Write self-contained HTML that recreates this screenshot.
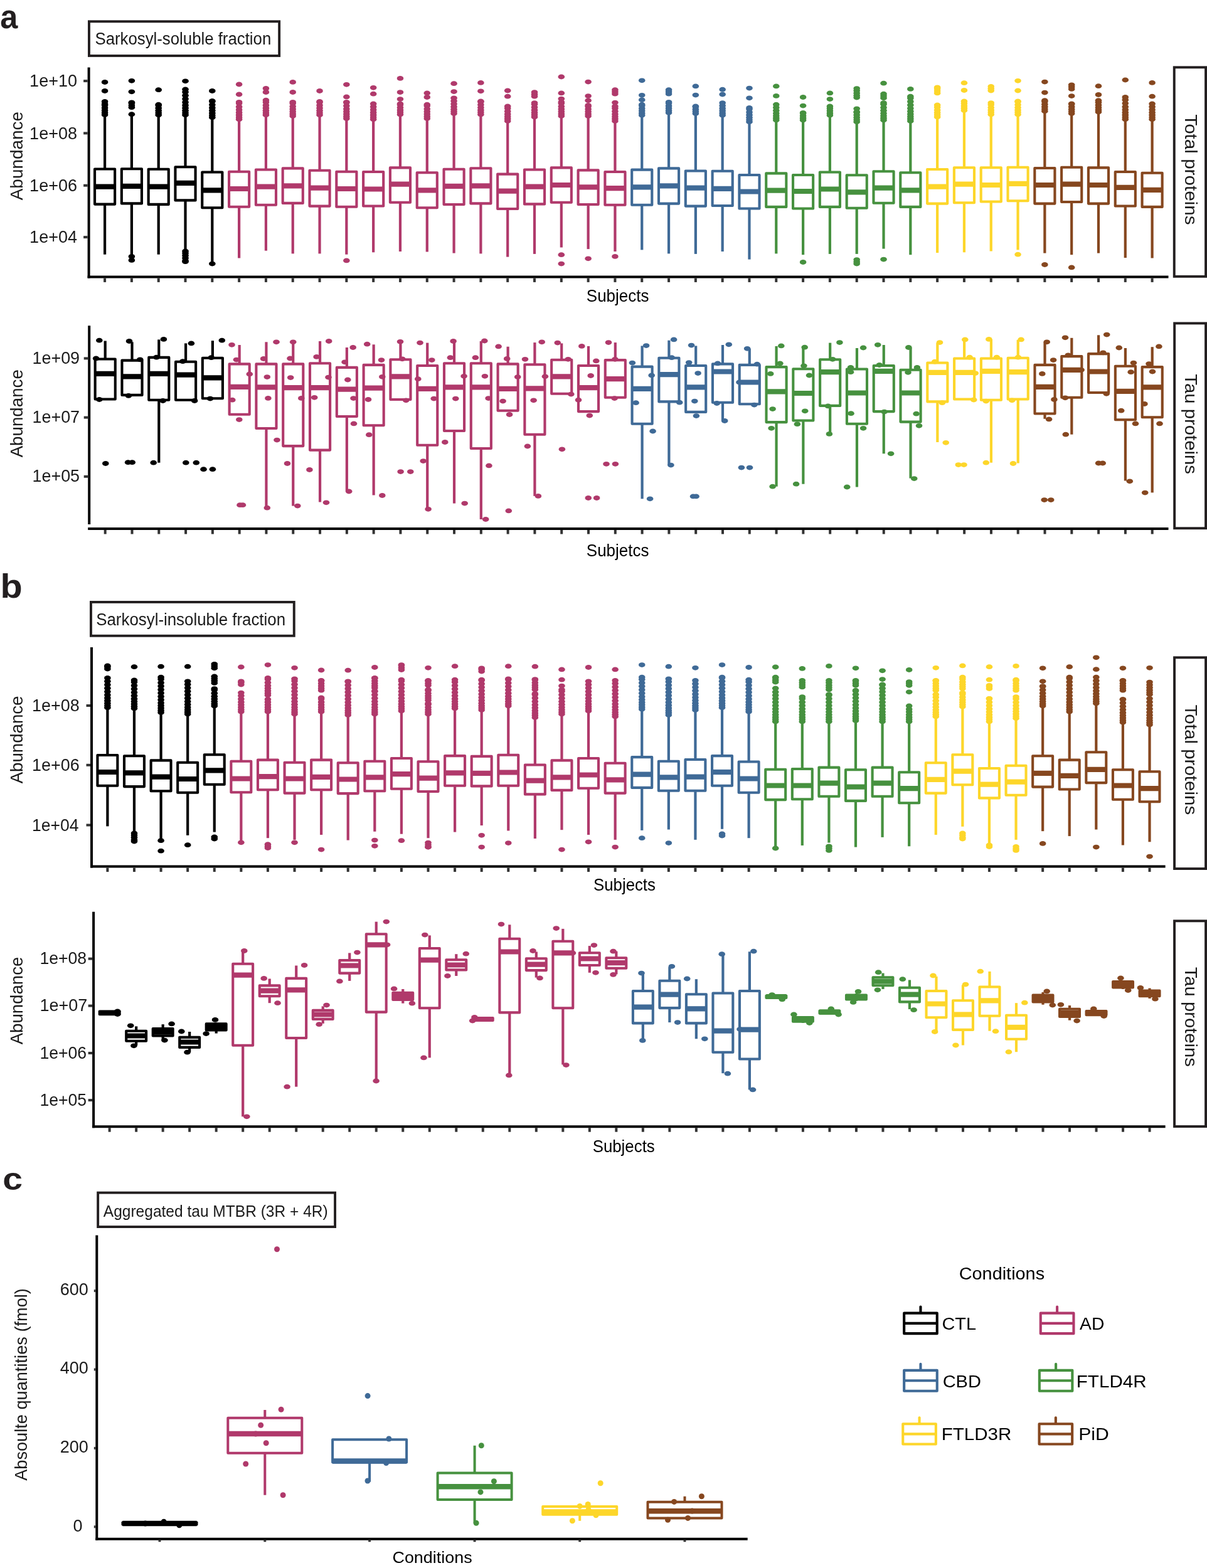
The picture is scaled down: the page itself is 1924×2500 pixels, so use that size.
<!DOCTYPE html>
<html><head><meta charset="utf-8"><title>Figure</title>
<style>
html,body{margin:0;padding:0;background:#fff;overflow:hidden;}
svg{display:block;}
text{font-family:"Liberation Sans",Arial,sans-serif;}
</style></head>
<body>
<svg width="1924" height="2500" viewBox="0 0 1924 2500">
<rect x="0" y="0" width="1924" height="2500" fill="#fff"/>
<rect x="141.95" y="34.25" width="303.2" height="54.7" fill="#fff" stroke="#231f20" stroke-width="3.9"/>
<line x1="141.6" y1="107.5" x2="141.6" y2="443.4" stroke="#000" stroke-width="4.0"/>
<line x1="139.6" y1="441.4" x2="1862.5" y2="441.4" stroke="#000" stroke-width="4.0"/>
<line x1="167.08" y1="443.4" x2="167.08" y2="449.9" stroke="#333333" stroke-width="4"/>
<line x1="209.89" y1="443.4" x2="209.89" y2="449.9" stroke="#333333" stroke-width="4"/>
<line x1="252.7" y1="443.4" x2="252.7" y2="449.9" stroke="#333333" stroke-width="4"/>
<line x1="295.5" y1="443.4" x2="295.5" y2="449.9" stroke="#333333" stroke-width="4"/>
<line x1="338.31" y1="443.4" x2="338.31" y2="449.9" stroke="#333333" stroke-width="4"/>
<line x1="381.12" y1="443.4" x2="381.12" y2="449.9" stroke="#333333" stroke-width="4"/>
<line x1="423.93" y1="443.4" x2="423.93" y2="449.9" stroke="#333333" stroke-width="4"/>
<line x1="466.74" y1="443.4" x2="466.74" y2="449.9" stroke="#333333" stroke-width="4"/>
<line x1="509.54" y1="443.4" x2="509.54" y2="449.9" stroke="#333333" stroke-width="4"/>
<line x1="552.35" y1="443.4" x2="552.35" y2="449.9" stroke="#333333" stroke-width="4"/>
<line x1="595.16" y1="443.4" x2="595.16" y2="449.9" stroke="#333333" stroke-width="4"/>
<line x1="637.97" y1="443.4" x2="637.97" y2="449.9" stroke="#333333" stroke-width="4"/>
<line x1="680.78" y1="443.4" x2="680.78" y2="449.9" stroke="#333333" stroke-width="4"/>
<line x1="723.58" y1="443.4" x2="723.58" y2="449.9" stroke="#333333" stroke-width="4"/>
<line x1="766.39" y1="443.4" x2="766.39" y2="449.9" stroke="#333333" stroke-width="4"/>
<line x1="809.2" y1="443.4" x2="809.2" y2="449.9" stroke="#333333" stroke-width="4"/>
<line x1="852.01" y1="443.4" x2="852.01" y2="449.9" stroke="#333333" stroke-width="4"/>
<line x1="894.82" y1="443.4" x2="894.82" y2="449.9" stroke="#333333" stroke-width="4"/>
<line x1="937.62" y1="443.4" x2="937.62" y2="449.9" stroke="#333333" stroke-width="4"/>
<line x1="980.43" y1="443.4" x2="980.43" y2="449.9" stroke="#333333" stroke-width="4"/>
<line x1="1023.24" y1="443.4" x2="1023.24" y2="449.9" stroke="#333333" stroke-width="4"/>
<line x1="1066.05" y1="443.4" x2="1066.05" y2="449.9" stroke="#333333" stroke-width="4"/>
<line x1="1108.86" y1="443.4" x2="1108.86" y2="449.9" stroke="#333333" stroke-width="4"/>
<line x1="1151.66" y1="443.4" x2="1151.66" y2="449.9" stroke="#333333" stroke-width="4"/>
<line x1="1194.47" y1="443.4" x2="1194.47" y2="449.9" stroke="#333333" stroke-width="4"/>
<line x1="1237.28" y1="443.4" x2="1237.28" y2="449.9" stroke="#333333" stroke-width="4"/>
<line x1="1280.09" y1="443.4" x2="1280.09" y2="449.9" stroke="#333333" stroke-width="4"/>
<line x1="1322.9" y1="443.4" x2="1322.9" y2="449.9" stroke="#333333" stroke-width="4"/>
<line x1="1365.7" y1="443.4" x2="1365.7" y2="449.9" stroke="#333333" stroke-width="4"/>
<line x1="1408.51" y1="443.4" x2="1408.51" y2="449.9" stroke="#333333" stroke-width="4"/>
<line x1="1451.32" y1="443.4" x2="1451.32" y2="449.9" stroke="#333333" stroke-width="4"/>
<line x1="1494.13" y1="443.4" x2="1494.13" y2="449.9" stroke="#333333" stroke-width="4"/>
<line x1="1536.94" y1="443.4" x2="1536.94" y2="449.9" stroke="#333333" stroke-width="4"/>
<line x1="1579.74" y1="443.4" x2="1579.74" y2="449.9" stroke="#333333" stroke-width="4"/>
<line x1="1622.55" y1="443.4" x2="1622.55" y2="449.9" stroke="#333333" stroke-width="4"/>
<line x1="1665.36" y1="443.4" x2="1665.36" y2="449.9" stroke="#333333" stroke-width="4"/>
<line x1="1708.17" y1="443.4" x2="1708.17" y2="449.9" stroke="#333333" stroke-width="4"/>
<line x1="1750.98" y1="443.4" x2="1750.98" y2="449.9" stroke="#333333" stroke-width="4"/>
<line x1="1793.78" y1="443.4" x2="1793.78" y2="449.9" stroke="#333333" stroke-width="4"/>
<line x1="1836.59" y1="443.4" x2="1836.59" y2="449.9" stroke="#333333" stroke-width="4"/>
<line x1="133.1" y1="129.1" x2="139.6" y2="129.1" stroke="#333333" stroke-width="4"/>
<line x1="133.1" y1="212.4" x2="139.6" y2="212.4" stroke="#333333" stroke-width="4"/>
<line x1="133.1" y1="295.7" x2="139.6" y2="295.7" stroke="#333333" stroke-width="4"/>
<line x1="133.1" y1="378.1" x2="139.6" y2="378.1" stroke="#333333" stroke-width="4"/>
<line x1="167.08" y1="186" x2="167.08" y2="269.5" stroke="#000000" stroke-width="4.2"/>
<line x1="167.08" y1="325.6" x2="167.08" y2="405.7" stroke="#000000" stroke-width="4.2"/>
<rect x="151.03" y="269.5" width="32.11" height="56.1" fill="#fff" stroke="#000000" stroke-width="4.1" stroke-linejoin="round"/>
<line x1="151.03" y1="297.6" x2="183.13" y2="297.6" stroke="#000000" stroke-width="8.2"/>
<g fill="#000000"><ellipse cx="167.08" cy="131" rx="5.3" ry="3.9"/><ellipse cx="167.08" cy="145" rx="5.3" ry="3.9"/><ellipse cx="167.08" cy="162" rx="5.3" ry="3.9"/><ellipse cx="167.08" cy="183" rx="5.3" ry="3.9"/><ellipse cx="167.08" cy="179.7" rx="5.3" ry="3.9"/><ellipse cx="167.08" cy="176.07" rx="5.3" ry="3.9"/><ellipse cx="167.08" cy="172.08" rx="5.3" ry="3.9"/><ellipse cx="167.08" cy="167.68" rx="5.3" ry="3.9"/><ellipse cx="167.08" cy="166" rx="5.3" ry="3.9"/></g>
<line x1="209.89" y1="185" x2="209.89" y2="269.3" stroke="#000000" stroke-width="4.2"/>
<line x1="209.89" y1="324.4" x2="209.89" y2="406.2" stroke="#000000" stroke-width="4.2"/>
<rect x="193.84" y="269.3" width="32.11" height="55.1" fill="#fff" stroke="#000000" stroke-width="4.1" stroke-linejoin="round"/>
<line x1="193.84" y1="296.8" x2="225.94" y2="296.8" stroke="#000000" stroke-width="8.2"/>
<g fill="#000000"><ellipse cx="209.89" cy="128.8" rx="5.3" ry="3.9"/><ellipse cx="209.89" cy="146.3" rx="5.3" ry="3.9"/><ellipse cx="209.89" cy="408.9" rx="5.3" ry="3.9"/><ellipse cx="209.89" cy="414.9" rx="5.3" ry="3.9"/><ellipse cx="209.89" cy="171.2" rx="5.3" ry="3.9"/><ellipse cx="209.89" cy="167.9" rx="5.3" ry="3.9"/><ellipse cx="209.89" cy="164.27" rx="5.3" ry="3.9"/><ellipse cx="209.89" cy="163.3" rx="5.3" ry="3.9"/><ellipse cx="209.89" cy="182.2" rx="5.3" ry="3.9"/></g>
<line x1="252.7" y1="186.4" x2="252.7" y2="269.8" stroke="#000000" stroke-width="4.2"/>
<line x1="252.7" y1="325.9" x2="252.7" y2="405.7" stroke="#000000" stroke-width="4.2"/>
<rect x="236.64" y="269.8" width="32.11" height="56.1" fill="#fff" stroke="#000000" stroke-width="4.1" stroke-linejoin="round"/>
<line x1="236.64" y1="297.6" x2="268.75" y2="297.6" stroke="#000000" stroke-width="8.2"/>
<g fill="#000000"><ellipse cx="252.7" cy="143.2" rx="5.3" ry="3.9"/><ellipse cx="252.7" cy="183.2" rx="5.3" ry="3.9"/><ellipse cx="252.7" cy="179.9" rx="5.3" ry="3.9"/><ellipse cx="252.7" cy="176.27" rx="5.3" ry="3.9"/><ellipse cx="252.7" cy="172.28" rx="5.3" ry="3.9"/><ellipse cx="252.7" cy="167.88" rx="5.3" ry="3.9"/><ellipse cx="252.7" cy="166.7" rx="5.3" ry="3.9"/></g>
<line x1="295.5" y1="186" x2="295.5" y2="266.2" stroke="#000000" stroke-width="4.2"/>
<line x1="295.5" y1="319.4" x2="295.5" y2="398.4" stroke="#000000" stroke-width="4.2"/>
<rect x="279.45" y="266.2" width="32.11" height="53.2" fill="#fff" stroke="#000000" stroke-width="4.1" stroke-linejoin="round"/>
<line x1="279.45" y1="291.9" x2="311.56" y2="291.9" stroke="#000000" stroke-width="8.2"/>
<g fill="#000000"><ellipse cx="295.5" cy="129.3" rx="5.3" ry="3.9"/><ellipse cx="295.5" cy="183.2" rx="5.3" ry="3.9"/><ellipse cx="295.5" cy="179.9" rx="5.3" ry="3.9"/><ellipse cx="295.5" cy="176.27" rx="5.3" ry="3.9"/><ellipse cx="295.5" cy="172.28" rx="5.3" ry="3.9"/><ellipse cx="295.5" cy="167.88" rx="5.3" ry="3.9"/><ellipse cx="295.5" cy="163.05" rx="5.3" ry="3.9"/><ellipse cx="295.5" cy="157.74" rx="5.3" ry="3.9"/><ellipse cx="295.5" cy="152.24" rx="5.3" ry="3.9"/><ellipse cx="295.5" cy="146.74" rx="5.3" ry="3.9"/><ellipse cx="295.5" cy="142.4" rx="5.3" ry="3.9"/><ellipse cx="295.5" cy="400.5" rx="5.3" ry="3.9"/><ellipse cx="295.5" cy="403.8" rx="5.3" ry="3.9"/><ellipse cx="295.5" cy="407.43" rx="5.3" ry="3.9"/><ellipse cx="295.5" cy="411.42" rx="5.3" ry="3.9"/><ellipse cx="295.5" cy="415.82" rx="5.3" ry="3.9"/><ellipse cx="295.5" cy="417.2" rx="5.3" ry="3.9"/></g>
<line x1="338.31" y1="187" x2="338.31" y2="274.5" stroke="#000000" stroke-width="4.2"/>
<line x1="338.31" y1="331.2" x2="338.31" y2="418" stroke="#000000" stroke-width="4.2"/>
<rect x="322.26" y="274.5" width="32.11" height="56.7" fill="#fff" stroke="#000000" stroke-width="4.1" stroke-linejoin="round"/>
<line x1="322.26" y1="303.4" x2="354.37" y2="303.4" stroke="#000000" stroke-width="8.2"/>
<g fill="#000000"><ellipse cx="338.31" cy="145" rx="5.3" ry="3.9"/><ellipse cx="338.31" cy="420.6" rx="5.3" ry="3.9"/><ellipse cx="338.31" cy="187.2" rx="5.3" ry="3.9"/><ellipse cx="338.31" cy="183.9" rx="5.3" ry="3.9"/><ellipse cx="338.31" cy="180.27" rx="5.3" ry="3.9"/><ellipse cx="338.31" cy="176.28" rx="5.3" ry="3.9"/><ellipse cx="338.31" cy="171.88" rx="5.3" ry="3.9"/><ellipse cx="338.31" cy="167.05" rx="5.3" ry="3.9"/><ellipse cx="338.31" cy="161.74" rx="5.3" ry="3.9"/><ellipse cx="338.31" cy="161" rx="5.3" ry="3.9"/></g>
<line x1="381.12" y1="190" x2="381.12" y2="273.7" stroke="#B0396B" stroke-width="4.2"/>
<line x1="381.12" y1="329.7" x2="381.12" y2="411.5" stroke="#B0396B" stroke-width="4.2"/>
<rect x="365.07" y="273.7" width="32.11" height="56" fill="#fff" stroke="#B0396B" stroke-width="4.1" stroke-linejoin="round"/>
<line x1="365.07" y1="301" x2="397.17" y2="301" stroke="#B0396B" stroke-width="8.2"/>
<g fill="#B0396B"><ellipse cx="381.12" cy="134.5" rx="5.3" ry="3.9"/><ellipse cx="381.12" cy="150.5" rx="5.3" ry="3.9"/><ellipse cx="381.12" cy="190.3" rx="5.3" ry="3.9"/><ellipse cx="381.12" cy="187" rx="5.3" ry="3.9"/><ellipse cx="381.12" cy="183.37" rx="5.3" ry="3.9"/><ellipse cx="381.12" cy="179.38" rx="5.3" ry="3.9"/><ellipse cx="381.12" cy="174.98" rx="5.3" ry="3.9"/><ellipse cx="381.12" cy="170.15" rx="5.3" ry="3.9"/><ellipse cx="381.12" cy="164.84" rx="5.3" ry="3.9"/><ellipse cx="381.12" cy="162.8" rx="5.3" ry="3.9"/></g>
<line x1="423.93" y1="183" x2="423.93" y2="270.5" stroke="#B0396B" stroke-width="4.2"/>
<line x1="423.93" y1="326.8" x2="423.93" y2="399.7" stroke="#B0396B" stroke-width="4.2"/>
<rect x="407.88" y="270.5" width="32.11" height="56.3" fill="#fff" stroke="#B0396B" stroke-width="4.1" stroke-linejoin="round"/>
<line x1="407.88" y1="297.6" x2="439.98" y2="297.6" stroke="#B0396B" stroke-width="8.2"/>
<g fill="#B0396B"><ellipse cx="423.93" cy="141" rx="5.3" ry="3.9"/><ellipse cx="423.93" cy="147" rx="5.3" ry="3.9"/><ellipse cx="423.93" cy="183.2" rx="5.3" ry="3.9"/><ellipse cx="423.93" cy="179.9" rx="5.3" ry="3.9"/><ellipse cx="423.93" cy="176.27" rx="5.3" ry="3.9"/><ellipse cx="423.93" cy="172.28" rx="5.3" ry="3.9"/><ellipse cx="423.93" cy="167.88" rx="5.3" ry="3.9"/><ellipse cx="423.93" cy="163.05" rx="5.3" ry="3.9"/><ellipse cx="423.93" cy="159.7" rx="5.3" ry="3.9"/></g>
<line x1="466.74" y1="185" x2="466.74" y2="268.4" stroke="#B0396B" stroke-width="4.2"/>
<line x1="466.74" y1="323.9" x2="466.74" y2="404.4" stroke="#B0396B" stroke-width="4.2"/>
<rect x="450.68" y="268.4" width="32.11" height="55.5" fill="#fff" stroke="#B0396B" stroke-width="4.1" stroke-linejoin="round"/>
<line x1="450.68" y1="296.3" x2="482.79" y2="296.3" stroke="#B0396B" stroke-width="8.2"/>
<g fill="#B0396B"><ellipse cx="466.74" cy="130.9" rx="5.3" ry="3.9"/><ellipse cx="466.74" cy="147" rx="5.3" ry="3.9"/><ellipse cx="466.74" cy="185" rx="5.3" ry="3.9"/><ellipse cx="466.74" cy="181.7" rx="5.3" ry="3.9"/><ellipse cx="466.74" cy="178.07" rx="5.3" ry="3.9"/><ellipse cx="466.74" cy="174.08" rx="5.3" ry="3.9"/><ellipse cx="466.74" cy="169.68" rx="5.3" ry="3.9"/><ellipse cx="466.74" cy="164.85" rx="5.3" ry="3.9"/><ellipse cx="466.74" cy="162.8" rx="5.3" ry="3.9"/></g>
<line x1="509.54" y1="183" x2="509.54" y2="271.8" stroke="#B0396B" stroke-width="4.2"/>
<line x1="509.54" y1="328.6" x2="509.54" y2="404.4" stroke="#B0396B" stroke-width="4.2"/>
<rect x="493.49" y="271.8" width="32.11" height="56.8" fill="#fff" stroke="#B0396B" stroke-width="4.1" stroke-linejoin="round"/>
<line x1="493.49" y1="299.7" x2="525.6" y2="299.7" stroke="#B0396B" stroke-width="8.2"/>
<g fill="#B0396B"><ellipse cx="509.54" cy="145" rx="5.3" ry="3.9"/><ellipse cx="509.54" cy="183.2" rx="5.3" ry="3.9"/><ellipse cx="509.54" cy="179.9" rx="5.3" ry="3.9"/><ellipse cx="509.54" cy="176.27" rx="5.3" ry="3.9"/><ellipse cx="509.54" cy="172.28" rx="5.3" ry="3.9"/><ellipse cx="509.54" cy="167.88" rx="5.3" ry="3.9"/><ellipse cx="509.54" cy="163.05" rx="5.3" ry="3.9"/><ellipse cx="509.54" cy="162" rx="5.3" ry="3.9"/></g>
<line x1="552.35" y1="189" x2="552.35" y2="273.7" stroke="#B0396B" stroke-width="4.2"/>
<line x1="552.35" y1="329.7" x2="552.35" y2="405.7" stroke="#B0396B" stroke-width="4.2"/>
<rect x="536.3" y="273.7" width="32.11" height="56" fill="#fff" stroke="#B0396B" stroke-width="4.1" stroke-linejoin="round"/>
<line x1="536.3" y1="301" x2="568.4" y2="301" stroke="#B0396B" stroke-width="8.2"/>
<g fill="#B0396B"><ellipse cx="552.35" cy="134.8" rx="5.3" ry="3.9"/><ellipse cx="552.35" cy="154.4" rx="5.3" ry="3.9"/><ellipse cx="552.35" cy="415.4" rx="5.3" ry="3.9"/><ellipse cx="552.35" cy="189" rx="5.3" ry="3.9"/><ellipse cx="552.35" cy="185.7" rx="5.3" ry="3.9"/><ellipse cx="552.35" cy="182.07" rx="5.3" ry="3.9"/><ellipse cx="552.35" cy="178.08" rx="5.3" ry="3.9"/><ellipse cx="552.35" cy="173.68" rx="5.3" ry="3.9"/><ellipse cx="552.35" cy="168.85" rx="5.3" ry="3.9"/><ellipse cx="552.35" cy="163.54" rx="5.3" ry="3.9"/><ellipse cx="552.35" cy="162.8" rx="5.3" ry="3.9"/></g>
<line x1="595.16" y1="190" x2="595.16" y2="274" stroke="#B0396B" stroke-width="4.2"/>
<line x1="595.16" y1="328.5" x2="595.16" y2="402.3" stroke="#B0396B" stroke-width="4.2"/>
<rect x="579.11" y="274" width="32.11" height="54.5" fill="#fff" stroke="#B0396B" stroke-width="4.1" stroke-linejoin="round"/>
<line x1="579.11" y1="301.5" x2="611.21" y2="301.5" stroke="#B0396B" stroke-width="8.2"/>
<g fill="#B0396B"><ellipse cx="595.16" cy="139.8" rx="5.3" ry="3.9"/><ellipse cx="595.16" cy="149.7" rx="5.3" ry="3.9"/><ellipse cx="595.16" cy="190.3" rx="5.3" ry="3.9"/><ellipse cx="595.16" cy="187" rx="5.3" ry="3.9"/><ellipse cx="595.16" cy="183.37" rx="5.3" ry="3.9"/><ellipse cx="595.16" cy="179.38" rx="5.3" ry="3.9"/><ellipse cx="595.16" cy="174.98" rx="5.3" ry="3.9"/><ellipse cx="595.16" cy="170.15" rx="5.3" ry="3.9"/><ellipse cx="595.16" cy="165.4" rx="5.3" ry="3.9"/></g>
<line x1="637.97" y1="182" x2="637.97" y2="267.4" stroke="#B0396B" stroke-width="4.2"/>
<line x1="637.97" y1="322.8" x2="637.97" y2="401" stroke="#B0396B" stroke-width="4.2"/>
<rect x="621.91" y="267.4" width="32.11" height="55.4" fill="#fff" stroke="#B0396B" stroke-width="4.1" stroke-linejoin="round"/>
<line x1="621.91" y1="293.7" x2="654.02" y2="293.7" stroke="#B0396B" stroke-width="8.2"/>
<g fill="#B0396B"><ellipse cx="637.97" cy="124.9" rx="5.3" ry="3.9"/><ellipse cx="637.97" cy="147.1" rx="5.3" ry="3.9"/><ellipse cx="637.97" cy="158.1" rx="5.3" ry="3.9"/><ellipse cx="637.97" cy="182.4" rx="5.3" ry="3.9"/><ellipse cx="637.97" cy="179.1" rx="5.3" ry="3.9"/><ellipse cx="637.97" cy="175.47" rx="5.3" ry="3.9"/><ellipse cx="637.97" cy="171.48" rx="5.3" ry="3.9"/><ellipse cx="637.97" cy="167.08" rx="5.3" ry="3.9"/><ellipse cx="637.97" cy="165.4" rx="5.3" ry="3.9"/></g>
<line x1="680.78" y1="189" x2="680.78" y2="275.3" stroke="#B0396B" stroke-width="4.2"/>
<line x1="680.78" y1="331.2" x2="680.78" y2="401.5" stroke="#B0396B" stroke-width="4.2"/>
<rect x="664.72" y="275.3" width="32.11" height="55.9" fill="#fff" stroke="#B0396B" stroke-width="4.1" stroke-linejoin="round"/>
<line x1="664.72" y1="303.4" x2="696.83" y2="303.4" stroke="#B0396B" stroke-width="8.2"/>
<g fill="#B0396B"><ellipse cx="680.78" cy="148.4" rx="5.3" ry="3.9"/><ellipse cx="680.78" cy="155" rx="5.3" ry="3.9"/><ellipse cx="680.78" cy="189" rx="5.3" ry="3.9"/><ellipse cx="680.78" cy="185.7" rx="5.3" ry="3.9"/><ellipse cx="680.78" cy="182.07" rx="5.3" ry="3.9"/><ellipse cx="680.78" cy="178.08" rx="5.3" ry="3.9"/><ellipse cx="680.78" cy="173.68" rx="5.3" ry="3.9"/><ellipse cx="680.78" cy="168.85" rx="5.3" ry="3.9"/><ellipse cx="680.78" cy="166.7" rx="5.3" ry="3.9"/></g>
<line x1="723.58" y1="181" x2="723.58" y2="269.8" stroke="#B0396B" stroke-width="4.2"/>
<line x1="723.58" y1="326" x2="723.58" y2="403.6" stroke="#B0396B" stroke-width="4.2"/>
<rect x="707.53" y="269.8" width="32.11" height="56.2" fill="#fff" stroke="#B0396B" stroke-width="4.1" stroke-linejoin="round"/>
<line x1="707.53" y1="296.8" x2="739.64" y2="296.8" stroke="#B0396B" stroke-width="8.2"/>
<g fill="#B0396B"><ellipse cx="723.58" cy="133.2" rx="5.3" ry="3.9"/><ellipse cx="723.58" cy="146.1" rx="5.3" ry="3.9"/><ellipse cx="723.58" cy="181.1" rx="5.3" ry="3.9"/><ellipse cx="723.58" cy="177.8" rx="5.3" ry="3.9"/><ellipse cx="723.58" cy="174.17" rx="5.3" ry="3.9"/><ellipse cx="723.58" cy="170.18" rx="5.3" ry="3.9"/><ellipse cx="723.58" cy="165.78" rx="5.3" ry="3.9"/><ellipse cx="723.58" cy="160.95" rx="5.3" ry="3.9"/><ellipse cx="723.58" cy="156.3" rx="5.3" ry="3.9"/></g>
<line x1="766.39" y1="182" x2="766.39" y2="268.3" stroke="#B0396B" stroke-width="4.2"/>
<line x1="766.39" y1="324.4" x2="766.39" y2="404.4" stroke="#B0396B" stroke-width="4.2"/>
<rect x="750.34" y="268.3" width="32.11" height="56.1" fill="#fff" stroke="#B0396B" stroke-width="4.1" stroke-linejoin="round"/>
<line x1="750.34" y1="296.3" x2="782.45" y2="296.3" stroke="#B0396B" stroke-width="8.2"/>
<g fill="#B0396B"><ellipse cx="766.39" cy="131.9" rx="5.3" ry="3.9"/><ellipse cx="766.39" cy="145.3" rx="5.3" ry="3.9"/><ellipse cx="766.39" cy="182.4" rx="5.3" ry="3.9"/><ellipse cx="766.39" cy="179.1" rx="5.3" ry="3.9"/><ellipse cx="766.39" cy="175.47" rx="5.3" ry="3.9"/><ellipse cx="766.39" cy="171.48" rx="5.3" ry="3.9"/><ellipse cx="766.39" cy="167.08" rx="5.3" ry="3.9"/><ellipse cx="766.39" cy="162.25" rx="5.3" ry="3.9"/><ellipse cx="766.39" cy="161.5" rx="5.3" ry="3.9"/></g>
<line x1="809.2" y1="193" x2="809.2" y2="277.6" stroke="#B0396B" stroke-width="4.2"/>
<line x1="809.2" y1="333" x2="809.2" y2="409.6" stroke="#B0396B" stroke-width="4.2"/>
<rect x="793.15" y="277.6" width="32.11" height="55.4" fill="#fff" stroke="#B0396B" stroke-width="4.1" stroke-linejoin="round"/>
<line x1="793.15" y1="304.7" x2="825.25" y2="304.7" stroke="#B0396B" stroke-width="8.2"/>
<g fill="#B0396B"><ellipse cx="809.2" cy="144.5" rx="5.3" ry="3.9"/><ellipse cx="809.2" cy="153.7" rx="5.3" ry="3.9"/><ellipse cx="809.2" cy="192.9" rx="5.3" ry="3.9"/><ellipse cx="809.2" cy="189.6" rx="5.3" ry="3.9"/><ellipse cx="809.2" cy="185.97" rx="5.3" ry="3.9"/><ellipse cx="809.2" cy="181.98" rx="5.3" ry="3.9"/><ellipse cx="809.2" cy="177.58" rx="5.3" ry="3.9"/><ellipse cx="809.2" cy="172.75" rx="5.3" ry="3.9"/><ellipse cx="809.2" cy="169.4" rx="5.3" ry="3.9"/></g>
<line x1="852.01" y1="186" x2="852.01" y2="270.5" stroke="#B0396B" stroke-width="4.2"/>
<line x1="852.01" y1="325.4" x2="852.01" y2="404.9" stroke="#B0396B" stroke-width="4.2"/>
<rect x="835.96" y="270.5" width="32.11" height="54.9" fill="#fff" stroke="#B0396B" stroke-width="4.1" stroke-linejoin="round"/>
<line x1="835.96" y1="297.6" x2="868.06" y2="297.6" stroke="#B0396B" stroke-width="8.2"/>
<g fill="#B0396B"><ellipse cx="852.01" cy="153.7" rx="5.3" ry="3.9"/><ellipse cx="852.01" cy="150.4" rx="5.3" ry="3.9"/><ellipse cx="852.01" cy="147.1" rx="5.3" ry="3.9"/><ellipse cx="852.01" cy="186.4" rx="5.3" ry="3.9"/><ellipse cx="852.01" cy="183.1" rx="5.3" ry="3.9"/><ellipse cx="852.01" cy="179.47" rx="5.3" ry="3.9"/><ellipse cx="852.01" cy="175.48" rx="5.3" ry="3.9"/><ellipse cx="852.01" cy="171.08" rx="5.3" ry="3.9"/><ellipse cx="852.01" cy="166.25" rx="5.3" ry="3.9"/><ellipse cx="852.01" cy="164.1" rx="5.3" ry="3.9"/></g>
<line x1="894.82" y1="185" x2="894.82" y2="267.4" stroke="#B0396B" stroke-width="4.2"/>
<line x1="894.82" y1="322.8" x2="894.82" y2="394.5" stroke="#B0396B" stroke-width="4.2"/>
<rect x="878.76" y="267.4" width="32.11" height="55.4" fill="#fff" stroke="#B0396B" stroke-width="4.1" stroke-linejoin="round"/>
<line x1="878.76" y1="295" x2="910.87" y2="295" stroke="#B0396B" stroke-width="8.2"/>
<g fill="#B0396B"><ellipse cx="894.82" cy="122.5" rx="5.3" ry="3.9"/><ellipse cx="894.82" cy="148.4" rx="5.3" ry="3.9"/><ellipse cx="894.82" cy="157.6" rx="5.3" ry="3.9"/><ellipse cx="894.82" cy="406.2" rx="5.3" ry="3.9"/><ellipse cx="894.82" cy="420.6" rx="5.3" ry="3.9"/><ellipse cx="894.82" cy="185" rx="5.3" ry="3.9"/><ellipse cx="894.82" cy="181.7" rx="5.3" ry="3.9"/><ellipse cx="894.82" cy="178.07" rx="5.3" ry="3.9"/><ellipse cx="894.82" cy="174.08" rx="5.3" ry="3.9"/><ellipse cx="894.82" cy="169.68" rx="5.3" ry="3.9"/><ellipse cx="894.82" cy="164.85" rx="5.3" ry="3.9"/><ellipse cx="894.82" cy="162.8" rx="5.3" ry="3.9"/></g>
<line x1="937.62" y1="185" x2="937.62" y2="271.4" stroke="#B0396B" stroke-width="4.2"/>
<line x1="937.62" y1="326" x2="937.62" y2="397.1" stroke="#B0396B" stroke-width="4.2"/>
<rect x="921.57" y="271.4" width="32.11" height="54.6" fill="#fff" stroke="#B0396B" stroke-width="4.1" stroke-linejoin="round"/>
<line x1="921.57" y1="298.4" x2="953.68" y2="298.4" stroke="#B0396B" stroke-width="8.2"/>
<g fill="#B0396B"><ellipse cx="937.62" cy="130.6" rx="5.3" ry="3.9"/><ellipse cx="937.62" cy="153.1" rx="5.3" ry="3.9"/><ellipse cx="937.62" cy="160.2" rx="5.3" ry="3.9"/><ellipse cx="937.62" cy="412.3" rx="5.3" ry="3.9"/><ellipse cx="937.62" cy="185" rx="5.3" ry="3.9"/><ellipse cx="937.62" cy="181.7" rx="5.3" ry="3.9"/><ellipse cx="937.62" cy="178.07" rx="5.3" ry="3.9"/><ellipse cx="937.62" cy="174.08" rx="5.3" ry="3.9"/><ellipse cx="937.62" cy="169.68" rx="5.3" ry="3.9"/><ellipse cx="937.62" cy="168" rx="5.3" ry="3.9"/></g>
<line x1="980.43" y1="193" x2="980.43" y2="274" stroke="#B0396B" stroke-width="4.2"/>
<line x1="980.43" y1="326.8" x2="980.43" y2="401" stroke="#B0396B" stroke-width="4.2"/>
<rect x="964.38" y="274" width="32.11" height="52.8" fill="#fff" stroke="#B0396B" stroke-width="4.1" stroke-linejoin="round"/>
<line x1="964.38" y1="300.2" x2="996.49" y2="300.2" stroke="#B0396B" stroke-width="8.2"/>
<g fill="#B0396B"><ellipse cx="980.43" cy="163.6" rx="5.3" ry="3.9"/><ellipse cx="980.43" cy="408.9" rx="5.3" ry="3.9"/><ellipse cx="980.43" cy="149.7" rx="5.3" ry="3.9"/><ellipse cx="980.43" cy="146.4" rx="5.3" ry="3.9"/><ellipse cx="980.43" cy="143.2" rx="5.3" ry="3.9"/><ellipse cx="980.43" cy="192.9" rx="5.3" ry="3.9"/><ellipse cx="980.43" cy="189.6" rx="5.3" ry="3.9"/><ellipse cx="980.43" cy="185.97" rx="5.3" ry="3.9"/><ellipse cx="980.43" cy="181.98" rx="5.3" ry="3.9"/><ellipse cx="980.43" cy="177.58" rx="5.3" ry="3.9"/><ellipse cx="980.43" cy="172.75" rx="5.3" ry="3.9"/><ellipse cx="980.43" cy="169.4" rx="5.3" ry="3.9"/></g>
<line x1="1023.24" y1="184" x2="1023.24" y2="270.6" stroke="#3F6A97" stroke-width="4.2"/>
<line x1="1023.24" y1="326.8" x2="1023.24" y2="398.4" stroke="#3F6A97" stroke-width="4.2"/>
<rect x="1007.19" y="270.6" width="32.11" height="56.2" fill="#fff" stroke="#3F6A97" stroke-width="4.1" stroke-linejoin="round"/>
<line x1="1007.19" y1="298.4" x2="1039.29" y2="298.4" stroke="#3F6A97" stroke-width="8.2"/>
<g fill="#3F6A97"><ellipse cx="1023.24" cy="128.3" rx="5.3" ry="3.9"/><ellipse cx="1023.24" cy="151.8" rx="5.3" ry="3.9"/><ellipse cx="1023.24" cy="159.2" rx="5.3" ry="3.9"/><ellipse cx="1023.24" cy="183.8" rx="5.3" ry="3.9"/><ellipse cx="1023.24" cy="180.5" rx="5.3" ry="3.9"/><ellipse cx="1023.24" cy="176.87" rx="5.3" ry="3.9"/><ellipse cx="1023.24" cy="172.88" rx="5.3" ry="3.9"/><ellipse cx="1023.24" cy="168.48" rx="5.3" ry="3.9"/><ellipse cx="1023.24" cy="166.7" rx="5.3" ry="3.9"/></g>
<line x1="1066.05" y1="180" x2="1066.05" y2="268.4" stroke="#3F6A97" stroke-width="4.2"/>
<line x1="1066.05" y1="324.6" x2="1066.05" y2="404.4" stroke="#3F6A97" stroke-width="4.2"/>
<rect x="1049.99" y="268.4" width="32.11" height="56.2" fill="#fff" stroke="#3F6A97" stroke-width="4.1" stroke-linejoin="round"/>
<line x1="1049.99" y1="296.3" x2="1082.1" y2="296.3" stroke="#3F6A97" stroke-width="8.2"/>
<g fill="#3F6A97"><ellipse cx="1066.05" cy="149.7" rx="5.3" ry="3.9"/><ellipse cx="1066.05" cy="146.4" rx="5.3" ry="3.9"/><ellipse cx="1066.05" cy="143.2" rx="5.3" ry="3.9"/><ellipse cx="1066.05" cy="179.8" rx="5.3" ry="3.9"/><ellipse cx="1066.05" cy="176.5" rx="5.3" ry="3.9"/><ellipse cx="1066.05" cy="172.87" rx="5.3" ry="3.9"/><ellipse cx="1066.05" cy="168.88" rx="5.3" ry="3.9"/><ellipse cx="1066.05" cy="164.48" rx="5.3" ry="3.9"/><ellipse cx="1066.05" cy="162.8" rx="5.3" ry="3.9"/></g>
<line x1="1108.86" y1="181" x2="1108.86" y2="272.5" stroke="#3F6A97" stroke-width="4.2"/>
<line x1="1108.86" y1="328.6" x2="1108.86" y2="404.9" stroke="#3F6A97" stroke-width="4.2"/>
<rect x="1092.8" y="272.5" width="32.11" height="56.1" fill="#fff" stroke="#3F6A97" stroke-width="4.1" stroke-linejoin="round"/>
<line x1="1092.8" y1="299.7" x2="1124.91" y2="299.7" stroke="#3F6A97" stroke-width="8.2"/>
<g fill="#3F6A97"><ellipse cx="1108.86" cy="137.4" rx="5.3" ry="3.9"/><ellipse cx="1108.86" cy="151.6" rx="5.3" ry="3.9"/><ellipse cx="1108.86" cy="181.1" rx="5.3" ry="3.9"/><ellipse cx="1108.86" cy="177.8" rx="5.3" ry="3.9"/><ellipse cx="1108.86" cy="174.17" rx="5.3" ry="3.9"/><ellipse cx="1108.86" cy="170.18" rx="5.3" ry="3.9"/><ellipse cx="1108.86" cy="169.4" rx="5.3" ry="3.9"/></g>
<line x1="1151.66" y1="184" x2="1151.66" y2="272.7" stroke="#3F6A97" stroke-width="4.2"/>
<line x1="1151.66" y1="328" x2="1151.66" y2="401" stroke="#3F6A97" stroke-width="4.2"/>
<rect x="1135.61" y="272.7" width="32.11" height="55.3" fill="#fff" stroke="#3F6A97" stroke-width="4.1" stroke-linejoin="round"/>
<line x1="1135.61" y1="300.8" x2="1167.72" y2="300.8" stroke="#3F6A97" stroke-width="8.2"/>
<g fill="#3F6A97"><ellipse cx="1151.66" cy="142.7" rx="5.3" ry="3.9"/><ellipse cx="1151.66" cy="150.5" rx="5.3" ry="3.9"/><ellipse cx="1151.66" cy="183.8" rx="5.3" ry="3.9"/><ellipse cx="1151.66" cy="180.5" rx="5.3" ry="3.9"/><ellipse cx="1151.66" cy="176.87" rx="5.3" ry="3.9"/><ellipse cx="1151.66" cy="172.88" rx="5.3" ry="3.9"/><ellipse cx="1151.66" cy="168.48" rx="5.3" ry="3.9"/><ellipse cx="1151.66" cy="164.1" rx="5.3" ry="3.9"/></g>
<line x1="1194.47" y1="194" x2="1194.47" y2="279" stroke="#3F6A97" stroke-width="4.2"/>
<line x1="1194.47" y1="332.5" x2="1194.47" y2="413.6" stroke="#3F6A97" stroke-width="4.2"/>
<rect x="1178.42" y="279" width="32.11" height="53.5" fill="#fff" stroke="#3F6A97" stroke-width="4.1" stroke-linejoin="round"/>
<line x1="1178.42" y1="305.5" x2="1210.53" y2="305.5" stroke="#3F6A97" stroke-width="8.2"/>
<g fill="#3F6A97"><ellipse cx="1194.47" cy="140.6" rx="5.3" ry="3.9"/><ellipse cx="1194.47" cy="156.3" rx="5.3" ry="3.9"/><ellipse cx="1194.47" cy="194.2" rx="5.3" ry="3.9"/><ellipse cx="1194.47" cy="190.9" rx="5.3" ry="3.9"/><ellipse cx="1194.47" cy="187.27" rx="5.3" ry="3.9"/><ellipse cx="1194.47" cy="183.28" rx="5.3" ry="3.9"/><ellipse cx="1194.47" cy="178.88" rx="5.3" ry="3.9"/><ellipse cx="1194.47" cy="174.05" rx="5.3" ry="3.9"/><ellipse cx="1194.47" cy="172" rx="5.3" ry="3.9"/></g>
<line x1="1237.28" y1="191.6" x2="1237.28" y2="276.4" stroke="#46913F" stroke-width="4.2"/>
<line x1="1237.28" y1="329.9" x2="1237.28" y2="404.4" stroke="#46913F" stroke-width="4.2"/>
<rect x="1221.23" y="276.4" width="32.11" height="53.5" fill="#fff" stroke="#46913F" stroke-width="4.1" stroke-linejoin="round"/>
<line x1="1221.23" y1="303.6" x2="1253.33" y2="303.6" stroke="#46913F" stroke-width="8.2"/>
<g fill="#46913F"><ellipse cx="1237.28" cy="137.4" rx="5.3" ry="3.9"/><ellipse cx="1237.28" cy="152.9" rx="5.3" ry="3.9"/><ellipse cx="1237.28" cy="191.6" rx="5.3" ry="3.9"/><ellipse cx="1237.28" cy="188.3" rx="5.3" ry="3.9"/><ellipse cx="1237.28" cy="184.67" rx="5.3" ry="3.9"/><ellipse cx="1237.28" cy="180.68" rx="5.3" ry="3.9"/><ellipse cx="1237.28" cy="176.28" rx="5.3" ry="3.9"/><ellipse cx="1237.28" cy="171.45" rx="5.3" ry="3.9"/><ellipse cx="1237.28" cy="166.7" rx="5.3" ry="3.9"/></g>
<line x1="1280.09" y1="191.6" x2="1280.09" y2="279" stroke="#46913F" stroke-width="4.2"/>
<line x1="1280.09" y1="332.5" x2="1280.09" y2="406.2" stroke="#46913F" stroke-width="4.2"/>
<rect x="1264.03" y="279" width="32.11" height="53.5" fill="#fff" stroke="#46913F" stroke-width="4.1" stroke-linejoin="round"/>
<line x1="1264.03" y1="305" x2="1296.14" y2="305" stroke="#46913F" stroke-width="8.2"/>
<g fill="#46913F"><ellipse cx="1280.09" cy="155" rx="5.3" ry="3.9"/><ellipse cx="1280.09" cy="168.6" rx="5.3" ry="3.9"/><ellipse cx="1280.09" cy="418" rx="5.3" ry="3.9"/><ellipse cx="1280.09" cy="191.6" rx="5.3" ry="3.9"/><ellipse cx="1280.09" cy="188.3" rx="5.3" ry="3.9"/><ellipse cx="1280.09" cy="184.67" rx="5.3" ry="3.9"/><ellipse cx="1280.09" cy="180.68" rx="5.3" ry="3.9"/><ellipse cx="1280.09" cy="179.8" rx="5.3" ry="3.9"/></g>
<line x1="1322.9" y1="184" x2="1322.9" y2="274.5" stroke="#46913F" stroke-width="4.2"/>
<line x1="1322.9" y1="329.9" x2="1322.9" y2="404.9" stroke="#46913F" stroke-width="4.2"/>
<rect x="1306.84" y="274.5" width="32.11" height="55.4" fill="#fff" stroke="#46913F" stroke-width="4.1" stroke-linejoin="round"/>
<line x1="1306.84" y1="301.5" x2="1338.95" y2="301.5" stroke="#46913F" stroke-width="8.2"/>
<g fill="#46913F"><ellipse cx="1322.9" cy="148.4" rx="5.3" ry="3.9"/><ellipse cx="1322.9" cy="158.1" rx="5.3" ry="3.9"/><ellipse cx="1322.9" cy="183.8" rx="5.3" ry="3.9"/><ellipse cx="1322.9" cy="180.5" rx="5.3" ry="3.9"/><ellipse cx="1322.9" cy="176.87" rx="5.3" ry="3.9"/><ellipse cx="1322.9" cy="172.88" rx="5.3" ry="3.9"/><ellipse cx="1322.9" cy="169.4" rx="5.3" ry="3.9"/></g>
<line x1="1365.7" y1="194" x2="1365.7" y2="279.2" stroke="#46913F" stroke-width="4.2"/>
<line x1="1365.7" y1="331.8" x2="1365.7" y2="404.9" stroke="#46913F" stroke-width="4.2"/>
<rect x="1349.65" y="279.2" width="32.11" height="52.6" fill="#fff" stroke="#46913F" stroke-width="4.1" stroke-linejoin="round"/>
<line x1="1349.65" y1="306.3" x2="1381.76" y2="306.3" stroke="#46913F" stroke-width="8.2"/>
<g fill="#46913F"><ellipse cx="1365.7" cy="173.3" rx="5.3" ry="3.9"/><ellipse cx="1365.7" cy="155.5" rx="5.3" ry="3.9"/><ellipse cx="1365.7" cy="152.2" rx="5.3" ry="3.9"/><ellipse cx="1365.7" cy="148.57" rx="5.3" ry="3.9"/><ellipse cx="1365.7" cy="144.58" rx="5.3" ry="3.9"/><ellipse cx="1365.7" cy="141.1" rx="5.3" ry="3.9"/><ellipse cx="1365.7" cy="194.2" rx="5.3" ry="3.9"/><ellipse cx="1365.7" cy="190.9" rx="5.3" ry="3.9"/><ellipse cx="1365.7" cy="187.27" rx="5.3" ry="3.9"/><ellipse cx="1365.7" cy="183.28" rx="5.3" ry="3.9"/><ellipse cx="1365.7" cy="178.88" rx="5.3" ry="3.9"/><ellipse cx="1365.7" cy="178.5" rx="5.3" ry="3.9"/><ellipse cx="1365.7" cy="414.1" rx="5.3" ry="3.9"/><ellipse cx="1365.7" cy="417.4" rx="5.3" ry="3.9"/><ellipse cx="1365.7" cy="420.6" rx="5.3" ry="3.9"/></g>
<line x1="1408.51" y1="191.6" x2="1408.51" y2="273.2" stroke="#46913F" stroke-width="4.2"/>
<line x1="1408.51" y1="323.8" x2="1408.51" y2="396.6" stroke="#46913F" stroke-width="4.2"/>
<rect x="1392.46" y="273.2" width="32.11" height="50.6" fill="#fff" stroke="#46913F" stroke-width="4.1" stroke-linejoin="round"/>
<line x1="1392.46" y1="299.7" x2="1424.57" y2="299.7" stroke="#46913F" stroke-width="8.2"/>
<g fill="#46913F"><ellipse cx="1408.51" cy="132.7" rx="5.3" ry="3.9"/><ellipse cx="1408.51" cy="413.6" rx="5.3" ry="3.9"/><ellipse cx="1408.51" cy="156.3" rx="5.3" ry="3.9"/><ellipse cx="1408.51" cy="153" rx="5.3" ry="3.9"/><ellipse cx="1408.51" cy="149.7" rx="5.3" ry="3.9"/><ellipse cx="1408.51" cy="191.6" rx="5.3" ry="3.9"/><ellipse cx="1408.51" cy="188.3" rx="5.3" ry="3.9"/><ellipse cx="1408.51" cy="184.67" rx="5.3" ry="3.9"/><ellipse cx="1408.51" cy="180.68" rx="5.3" ry="3.9"/><ellipse cx="1408.51" cy="176.28" rx="5.3" ry="3.9"/><ellipse cx="1408.51" cy="171.45" rx="5.3" ry="3.9"/><ellipse cx="1408.51" cy="166.14" rx="5.3" ry="3.9"/><ellipse cx="1408.51" cy="164.1" rx="5.3" ry="3.9"/></g>
<line x1="1451.32" y1="193" x2="1451.32" y2="275.3" stroke="#46913F" stroke-width="4.2"/>
<line x1="1451.32" y1="329.9" x2="1451.32" y2="406.2" stroke="#46913F" stroke-width="4.2"/>
<rect x="1435.27" y="275.3" width="32.11" height="54.6" fill="#fff" stroke="#46913F" stroke-width="4.1" stroke-linejoin="round"/>
<line x1="1435.27" y1="303.4" x2="1467.37" y2="303.4" stroke="#46913F" stroke-width="8.2"/>
<g fill="#46913F"><ellipse cx="1451.32" cy="141.9" rx="5.3" ry="3.9"/><ellipse cx="1451.32" cy="192.9" rx="5.3" ry="3.9"/><ellipse cx="1451.32" cy="189.6" rx="5.3" ry="3.9"/><ellipse cx="1451.32" cy="185.97" rx="5.3" ry="3.9"/><ellipse cx="1451.32" cy="181.98" rx="5.3" ry="3.9"/><ellipse cx="1451.32" cy="177.58" rx="5.3" ry="3.9"/><ellipse cx="1451.32" cy="172.75" rx="5.3" ry="3.9"/><ellipse cx="1451.32" cy="167.44" rx="5.3" ry="3.9"/><ellipse cx="1451.32" cy="161.94" rx="5.3" ry="3.9"/><ellipse cx="1451.32" cy="156.44" rx="5.3" ry="3.9"/><ellipse cx="1451.32" cy="153.7" rx="5.3" ry="3.9"/></g>
<line x1="1494.13" y1="186" x2="1494.13" y2="270" stroke="#FDD62A" stroke-width="4.2"/>
<line x1="1494.13" y1="324.6" x2="1494.13" y2="403.1" stroke="#FDD62A" stroke-width="4.2"/>
<rect x="1478.07" y="270" width="32.11" height="54.6" fill="#fff" stroke="#FDD62A" stroke-width="4.1" stroke-linejoin="round"/>
<line x1="1478.07" y1="297.6" x2="1510.18" y2="297.6" stroke="#FDD62A" stroke-width="8.2"/>
<g fill="#FDD62A"><ellipse cx="1494.13" cy="148.4" rx="5.3" ry="3.9"/><ellipse cx="1494.13" cy="145.1" rx="5.3" ry="3.9"/><ellipse cx="1494.13" cy="141.47" rx="5.3" ry="3.9"/><ellipse cx="1494.13" cy="139.3" rx="5.3" ry="3.9"/><ellipse cx="1494.13" cy="186.4" rx="5.3" ry="3.9"/><ellipse cx="1494.13" cy="183.1" rx="5.3" ry="3.9"/><ellipse cx="1494.13" cy="179.47" rx="5.3" ry="3.9"/><ellipse cx="1494.13" cy="175.48" rx="5.3" ry="3.9"/><ellipse cx="1494.13" cy="171.08" rx="5.3" ry="3.9"/><ellipse cx="1494.13" cy="167.5" rx="5.3" ry="3.9"/></g>
<line x1="1536.94" y1="176" x2="1536.94" y2="267.2" stroke="#FDD62A" stroke-width="4.2"/>
<line x1="1536.94" y1="323.3" x2="1536.94" y2="402.3" stroke="#FDD62A" stroke-width="4.2"/>
<rect x="1520.88" y="267.2" width="32.11" height="56.1" fill="#fff" stroke="#FDD62A" stroke-width="4.1" stroke-linejoin="round"/>
<line x1="1520.88" y1="293.7" x2="1552.99" y2="293.7" stroke="#FDD62A" stroke-width="8.2"/>
<g fill="#FDD62A"><ellipse cx="1536.94" cy="132.2" rx="5.3" ry="3.9"/><ellipse cx="1536.94" cy="144" rx="5.3" ry="3.9"/><ellipse cx="1536.94" cy="175.9" rx="5.3" ry="3.9"/><ellipse cx="1536.94" cy="172.6" rx="5.3" ry="3.9"/><ellipse cx="1536.94" cy="168.97" rx="5.3" ry="3.9"/><ellipse cx="1536.94" cy="164.98" rx="5.3" ry="3.9"/><ellipse cx="1536.94" cy="161.5" rx="5.3" ry="3.9"/></g>
<line x1="1579.74" y1="182" x2="1579.74" y2="267.2" stroke="#FDD62A" stroke-width="4.2"/>
<line x1="1579.74" y1="321.5" x2="1579.74" y2="400.5" stroke="#FDD62A" stroke-width="4.2"/>
<rect x="1563.69" y="267.2" width="32.11" height="54.3" fill="#fff" stroke="#FDD62A" stroke-width="4.1" stroke-linejoin="round"/>
<line x1="1563.69" y1="295" x2="1595.8" y2="295" stroke="#FDD62A" stroke-width="8.2"/>
<g fill="#FDD62A"><ellipse cx="1579.74" cy="144.5" rx="5.3" ry="3.9"/><ellipse cx="1579.74" cy="141.2" rx="5.3" ry="3.9"/><ellipse cx="1579.74" cy="138" rx="5.3" ry="3.9"/><ellipse cx="1579.74" cy="182.4" rx="5.3" ry="3.9"/><ellipse cx="1579.74" cy="179.1" rx="5.3" ry="3.9"/><ellipse cx="1579.74" cy="175.47" rx="5.3" ry="3.9"/><ellipse cx="1579.74" cy="171.48" rx="5.3" ry="3.9"/><ellipse cx="1579.74" cy="167.08" rx="5.3" ry="3.9"/><ellipse cx="1579.74" cy="164.1" rx="5.3" ry="3.9"/></g>
<line x1="1622.55" y1="182" x2="1622.55" y2="266.7" stroke="#FDD62A" stroke-width="4.2"/>
<line x1="1622.55" y1="320.2" x2="1622.55" y2="398.4" stroke="#FDD62A" stroke-width="4.2"/>
<rect x="1606.5" y="266.7" width="32.11" height="53.5" fill="#fff" stroke="#FDD62A" stroke-width="4.1" stroke-linejoin="round"/>
<line x1="1606.5" y1="292.9" x2="1638.61" y2="292.9" stroke="#FDD62A" stroke-width="8.2"/>
<g fill="#FDD62A"><ellipse cx="1622.55" cy="128.8" rx="5.3" ry="3.9"/><ellipse cx="1622.55" cy="144.5" rx="5.3" ry="3.9"/><ellipse cx="1622.55" cy="405.7" rx="5.3" ry="3.9"/><ellipse cx="1622.55" cy="182.4" rx="5.3" ry="3.9"/><ellipse cx="1622.55" cy="179.1" rx="5.3" ry="3.9"/><ellipse cx="1622.55" cy="175.47" rx="5.3" ry="3.9"/><ellipse cx="1622.55" cy="171.48" rx="5.3" ry="3.9"/><ellipse cx="1622.55" cy="167.08" rx="5.3" ry="3.9"/><ellipse cx="1622.55" cy="162.25" rx="5.3" ry="3.9"/><ellipse cx="1622.55" cy="161.5" rx="5.3" ry="3.9"/></g>
<line x1="1665.36" y1="177" x2="1665.36" y2="268" stroke="#86471F" stroke-width="4.2"/>
<line x1="1665.36" y1="324.6" x2="1665.36" y2="403.6" stroke="#86471F" stroke-width="4.2"/>
<rect x="1649.31" y="268" width="32.11" height="56.6" fill="#fff" stroke="#86471F" stroke-width="4.1" stroke-linejoin="round"/>
<line x1="1649.31" y1="295" x2="1681.41" y2="295" stroke="#86471F" stroke-width="8.2"/>
<g fill="#86471F"><ellipse cx="1665.36" cy="130.6" rx="5.3" ry="3.9"/><ellipse cx="1665.36" cy="147.6" rx="5.3" ry="3.9"/><ellipse cx="1665.36" cy="422" rx="5.3" ry="3.9"/><ellipse cx="1665.36" cy="177.2" rx="5.3" ry="3.9"/><ellipse cx="1665.36" cy="173.9" rx="5.3" ry="3.9"/><ellipse cx="1665.36" cy="170.27" rx="5.3" ry="3.9"/><ellipse cx="1665.36" cy="166.28" rx="5.3" ry="3.9"/><ellipse cx="1665.36" cy="161.88" rx="5.3" ry="3.9"/><ellipse cx="1665.36" cy="160.2" rx="5.3" ry="3.9"/></g>
<line x1="1708.17" y1="181" x2="1708.17" y2="266.7" stroke="#86471F" stroke-width="4.2"/>
<line x1="1708.17" y1="322" x2="1708.17" y2="406.2" stroke="#86471F" stroke-width="4.2"/>
<rect x="1692.11" y="266.7" width="32.11" height="55.3" fill="#fff" stroke="#86471F" stroke-width="4.1" stroke-linejoin="round"/>
<line x1="1692.11" y1="293.7" x2="1724.22" y2="293.7" stroke="#86471F" stroke-width="8.2"/>
<g fill="#86471F"><ellipse cx="1708.17" cy="153.1" rx="5.3" ry="3.9"/><ellipse cx="1708.17" cy="426.4" rx="5.3" ry="3.9"/><ellipse cx="1708.17" cy="141.9" rx="5.3" ry="3.9"/><ellipse cx="1708.17" cy="138.6" rx="5.3" ry="3.9"/><ellipse cx="1708.17" cy="135.3" rx="5.3" ry="3.9"/><ellipse cx="1708.17" cy="181.1" rx="5.3" ry="3.9"/><ellipse cx="1708.17" cy="177.8" rx="5.3" ry="3.9"/><ellipse cx="1708.17" cy="174.17" rx="5.3" ry="3.9"/><ellipse cx="1708.17" cy="170.18" rx="5.3" ry="3.9"/><ellipse cx="1708.17" cy="165.78" rx="5.3" ry="3.9"/><ellipse cx="1708.17" cy="165.4" rx="5.3" ry="3.9"/></g>
<line x1="1750.98" y1="178.5" x2="1750.98" y2="267.4" stroke="#86471F" stroke-width="4.2"/>
<line x1="1750.98" y1="324.6" x2="1750.98" y2="403.6" stroke="#86471F" stroke-width="4.2"/>
<rect x="1734.92" y="267.4" width="32.11" height="57.2" fill="#fff" stroke="#86471F" stroke-width="4.1" stroke-linejoin="round"/>
<line x1="1734.92" y1="295" x2="1767.03" y2="295" stroke="#86471F" stroke-width="8.2"/>
<g fill="#86471F"><ellipse cx="1750.98" cy="137.2" rx="5.3" ry="3.9"/><ellipse cx="1750.98" cy="151" rx="5.3" ry="3.9"/><ellipse cx="1750.98" cy="178.5" rx="5.3" ry="3.9"/><ellipse cx="1750.98" cy="175.2" rx="5.3" ry="3.9"/><ellipse cx="1750.98" cy="171.57" rx="5.3" ry="3.9"/><ellipse cx="1750.98" cy="167.58" rx="5.3" ry="3.9"/><ellipse cx="1750.98" cy="163.18" rx="5.3" ry="3.9"/><ellipse cx="1750.98" cy="160.2" rx="5.3" ry="3.9"/></g>
<line x1="1793.78" y1="190" x2="1793.78" y2="274" stroke="#86471F" stroke-width="4.2"/>
<line x1="1793.78" y1="328.5" x2="1793.78" y2="411" stroke="#86471F" stroke-width="4.2"/>
<rect x="1777.73" y="274" width="32.11" height="54.5" fill="#fff" stroke="#86471F" stroke-width="4.1" stroke-linejoin="round"/>
<line x1="1777.73" y1="298.9" x2="1809.84" y2="298.9" stroke="#86471F" stroke-width="8.2"/>
<g fill="#86471F"><ellipse cx="1793.78" cy="127.5" rx="5.3" ry="3.9"/><ellipse cx="1793.78" cy="190.3" rx="5.3" ry="3.9"/><ellipse cx="1793.78" cy="187" rx="5.3" ry="3.9"/><ellipse cx="1793.78" cy="183.37" rx="5.3" ry="3.9"/><ellipse cx="1793.78" cy="179.38" rx="5.3" ry="3.9"/><ellipse cx="1793.78" cy="174.98" rx="5.3" ry="3.9"/><ellipse cx="1793.78" cy="170.15" rx="5.3" ry="3.9"/><ellipse cx="1793.78" cy="164.84" rx="5.3" ry="3.9"/><ellipse cx="1793.78" cy="159.34" rx="5.3" ry="3.9"/><ellipse cx="1793.78" cy="155" rx="5.3" ry="3.9"/></g>
<line x1="1836.59" y1="190" x2="1836.59" y2="275.8" stroke="#86471F" stroke-width="4.2"/>
<line x1="1836.59" y1="329.9" x2="1836.59" y2="411.5" stroke="#86471F" stroke-width="4.2"/>
<rect x="1820.54" y="275.8" width="32.11" height="54.1" fill="#fff" stroke="#86471F" stroke-width="4.1" stroke-linejoin="round"/>
<line x1="1820.54" y1="302.9" x2="1852.64" y2="302.9" stroke="#86471F" stroke-width="8.2"/>
<g fill="#86471F"><ellipse cx="1836.59" cy="131.9" rx="5.3" ry="3.9"/><ellipse cx="1836.59" cy="153.7" rx="5.3" ry="3.9"/><ellipse cx="1836.59" cy="190.3" rx="5.3" ry="3.9"/><ellipse cx="1836.59" cy="187" rx="5.3" ry="3.9"/><ellipse cx="1836.59" cy="183.37" rx="5.3" ry="3.9"/><ellipse cx="1836.59" cy="179.38" rx="5.3" ry="3.9"/><ellipse cx="1836.59" cy="174.98" rx="5.3" ry="3.9"/><ellipse cx="1836.59" cy="170.15" rx="5.3" ry="3.9"/><ellipse cx="1836.59" cy="165.4" rx="5.3" ry="3.9"/></g>
<rect x="1871.75" y="107.35" width="50.3" height="333.5" fill="#fff" stroke="#231f20" stroke-width="3.9"/>
<line x1="142.2" y1="519.3" x2="142.2" y2="836" stroke="#000" stroke-width="4.0"/>
<line x1="140.2" y1="843" x2="1862.5" y2="843" stroke="#000" stroke-width="4.0"/>
<line x1="167.69" y1="845" x2="167.69" y2="851.5" stroke="#333333" stroke-width="4"/>
<line x1="210.49" y1="845" x2="210.49" y2="851.5" stroke="#333333" stroke-width="4"/>
<line x1="253.28" y1="845" x2="253.28" y2="851.5" stroke="#333333" stroke-width="4"/>
<line x1="296.07" y1="845" x2="296.07" y2="851.5" stroke="#333333" stroke-width="4"/>
<line x1="338.87" y1="845" x2="338.87" y2="851.5" stroke="#333333" stroke-width="4"/>
<line x1="381.67" y1="845" x2="381.67" y2="851.5" stroke="#333333" stroke-width="4"/>
<line x1="424.46" y1="845" x2="424.46" y2="851.5" stroke="#333333" stroke-width="4"/>
<line x1="467.25" y1="845" x2="467.25" y2="851.5" stroke="#333333" stroke-width="4"/>
<line x1="510.05" y1="845" x2="510.05" y2="851.5" stroke="#333333" stroke-width="4"/>
<line x1="552.85" y1="845" x2="552.85" y2="851.5" stroke="#333333" stroke-width="4"/>
<line x1="595.64" y1="845" x2="595.64" y2="851.5" stroke="#333333" stroke-width="4"/>
<line x1="638.43" y1="845" x2="638.43" y2="851.5" stroke="#333333" stroke-width="4"/>
<line x1="681.23" y1="845" x2="681.23" y2="851.5" stroke="#333333" stroke-width="4"/>
<line x1="724.03" y1="845" x2="724.03" y2="851.5" stroke="#333333" stroke-width="4"/>
<line x1="766.82" y1="845" x2="766.82" y2="851.5" stroke="#333333" stroke-width="4"/>
<line x1="809.62" y1="845" x2="809.62" y2="851.5" stroke="#333333" stroke-width="4"/>
<line x1="852.41" y1="845" x2="852.41" y2="851.5" stroke="#333333" stroke-width="4"/>
<line x1="895.2" y1="845" x2="895.2" y2="851.5" stroke="#333333" stroke-width="4"/>
<line x1="938" y1="845" x2="938" y2="851.5" stroke="#333333" stroke-width="4"/>
<line x1="980.8" y1="845" x2="980.8" y2="851.5" stroke="#333333" stroke-width="4"/>
<line x1="1023.59" y1="845" x2="1023.59" y2="851.5" stroke="#333333" stroke-width="4"/>
<line x1="1066.38" y1="845" x2="1066.38" y2="851.5" stroke="#333333" stroke-width="4"/>
<line x1="1109.18" y1="845" x2="1109.18" y2="851.5" stroke="#333333" stroke-width="4"/>
<line x1="1151.98" y1="845" x2="1151.98" y2="851.5" stroke="#333333" stroke-width="4"/>
<line x1="1194.77" y1="845" x2="1194.77" y2="851.5" stroke="#333333" stroke-width="4"/>
<line x1="1237.57" y1="845" x2="1237.57" y2="851.5" stroke="#333333" stroke-width="4"/>
<line x1="1280.36" y1="845" x2="1280.36" y2="851.5" stroke="#333333" stroke-width="4"/>
<line x1="1323.16" y1="845" x2="1323.16" y2="851.5" stroke="#333333" stroke-width="4"/>
<line x1="1365.95" y1="845" x2="1365.95" y2="851.5" stroke="#333333" stroke-width="4"/>
<line x1="1408.75" y1="845" x2="1408.75" y2="851.5" stroke="#333333" stroke-width="4"/>
<line x1="1451.54" y1="845" x2="1451.54" y2="851.5" stroke="#333333" stroke-width="4"/>
<line x1="1494.34" y1="845" x2="1494.34" y2="851.5" stroke="#333333" stroke-width="4"/>
<line x1="1537.13" y1="845" x2="1537.13" y2="851.5" stroke="#333333" stroke-width="4"/>
<line x1="1579.93" y1="845" x2="1579.93" y2="851.5" stroke="#333333" stroke-width="4"/>
<line x1="1622.72" y1="845" x2="1622.72" y2="851.5" stroke="#333333" stroke-width="4"/>
<line x1="1665.52" y1="845" x2="1665.52" y2="851.5" stroke="#333333" stroke-width="4"/>
<line x1="1708.31" y1="845" x2="1708.31" y2="851.5" stroke="#333333" stroke-width="4"/>
<line x1="1751.11" y1="845" x2="1751.11" y2="851.5" stroke="#333333" stroke-width="4"/>
<line x1="1793.9" y1="845" x2="1793.9" y2="851.5" stroke="#333333" stroke-width="4"/>
<line x1="1836.7" y1="845" x2="1836.7" y2="851.5" stroke="#333333" stroke-width="4"/>
<line x1="133.7" y1="571.4" x2="140.2" y2="571.4" stroke="#333333" stroke-width="4"/>
<line x1="133.7" y1="665.6" x2="140.2" y2="665.6" stroke="#333333" stroke-width="4"/>
<line x1="133.7" y1="759.8" x2="140.2" y2="759.8" stroke="#333333" stroke-width="4"/>
<line x1="167.69" y1="543.5" x2="167.69" y2="572.5" stroke="#000000" stroke-width="4.2"/>
<rect x="151.64" y="572.5" width="32.1" height="64" fill="#fff" stroke="#000000" stroke-width="4.1" stroke-linejoin="round"/>
<line x1="151.64" y1="595.9" x2="183.74" y2="595.9" stroke="#000000" stroke-width="8.2"/>
<g fill="#000000"><ellipse cx="158.3" cy="542.7" rx="5.3" ry="3.9"/><ellipse cx="153.1" cy="571.5" rx="5.3" ry="3.9"/><ellipse cx="158.3" cy="637" rx="5.3" ry="3.9"/><ellipse cx="168.3" cy="739" rx="5.3" ry="3.9"/></g>
<line x1="210.49" y1="545.3" x2="210.49" y2="574.6" stroke="#000000" stroke-width="4.2"/>
<rect x="194.44" y="574.6" width="32.1" height="55.3" fill="#fff" stroke="#000000" stroke-width="4.1" stroke-linejoin="round"/>
<line x1="194.44" y1="600.3" x2="226.53" y2="600.3" stroke="#000000" stroke-width="8.2"/>
<g fill="#000000"><ellipse cx="206" cy="544" rx="5.3" ry="3.9"/><ellipse cx="223.2" cy="573.3" rx="5.3" ry="3.9"/><ellipse cx="204.9" cy="630.9" rx="5.3" ry="3.9"/><ellipse cx="204.1" cy="737.2" rx="5.3" ry="3.9"/><ellipse cx="210.7" cy="737.2" rx="5.3" ry="3.9"/></g>
<line x1="253.28" y1="541.4" x2="253.28" y2="569.9" stroke="#000000" stroke-width="4.2"/>
<line x1="253.28" y1="637.8" x2="253.28" y2="737.7" stroke="#000000" stroke-width="4.2"/>
<rect x="237.23" y="569.9" width="32.1" height="67.9" fill="#fff" stroke="#000000" stroke-width="4.1" stroke-linejoin="round"/>
<line x1="237.23" y1="595.9" x2="269.33" y2="595.9" stroke="#000000" stroke-width="8.2"/>
<g fill="#000000"><ellipse cx="260.9" cy="540.9" rx="5.3" ry="3.9"/><ellipse cx="249.4" cy="569.7" rx="5.3" ry="3.9"/><ellipse cx="259.6" cy="639" rx="5.3" ry="3.9"/><ellipse cx="244.7" cy="737.7" rx="5.3" ry="3.9"/></g>
<line x1="296.07" y1="547.4" x2="296.07" y2="576.7" stroke="#000000" stroke-width="4.2"/>
<rect x="280.03" y="576.7" width="32.1" height="61.1" fill="#fff" stroke="#000000" stroke-width="4.1" stroke-linejoin="round"/>
<line x1="280.03" y1="597.7" x2="312.12" y2="597.7" stroke="#000000" stroke-width="8.2"/>
<g fill="#000000"><ellipse cx="304.9" cy="547.4" rx="5.3" ry="3.9"/><ellipse cx="291.3" cy="576.2" rx="5.3" ry="3.9"/><ellipse cx="310.1" cy="639" rx="5.3" ry="3.9"/><ellipse cx="296.3" cy="737.7" rx="5.3" ry="3.9"/><ellipse cx="312.8" cy="737.7" rx="5.3" ry="3.9"/><ellipse cx="324.5" cy="748.2" rx="5.3" ry="3.9"/><ellipse cx="338.9" cy="748.2" rx="5.3" ry="3.9"/></g>
<line x1="338.87" y1="543.2" x2="338.87" y2="570.7" stroke="#000000" stroke-width="4.2"/>
<rect x="322.82" y="570.7" width="32.1" height="64.5" fill="#fff" stroke="#000000" stroke-width="4.1" stroke-linejoin="round"/>
<line x1="322.82" y1="602.4" x2="354.92" y2="602.4" stroke="#000000" stroke-width="8.2"/>
<g fill="#000000"><ellipse cx="353.8" cy="542.7" rx="5.3" ry="3.9"/><ellipse cx="336.8" cy="570.2" rx="5.3" ry="3.9"/><ellipse cx="335" cy="635.6" rx="5.3" ry="3.9"/></g>
<line x1="381.67" y1="550" x2="381.67" y2="580.4" stroke="#B0396B" stroke-width="4.2"/>
<rect x="365.62" y="580.4" width="32.1" height="80.4" fill="#fff" stroke="#B0396B" stroke-width="4.1" stroke-linejoin="round"/>
<line x1="365.62" y1="616.8" x2="397.71" y2="616.8" stroke="#B0396B" stroke-width="8.2"/>
<g fill="#B0396B"><ellipse cx="369.5" cy="549.8" rx="5.3" ry="3.9"/><ellipse cx="376.9" cy="573.6" rx="5.3" ry="3.9"/><ellipse cx="397.8" cy="596.4" rx="5.3" ry="3.9"/><ellipse cx="370.3" cy="637.7" rx="5.3" ry="3.9"/><ellipse cx="381.3" cy="669.1" rx="5.3" ry="3.9"/><ellipse cx="382.5" cy="805.2" rx="5.3" ry="3.9"/><ellipse cx="386.9" cy="805.2" rx="5.3" ry="3.9"/></g>
<line x1="424.46" y1="545.3" x2="424.46" y2="580.4" stroke="#B0396B" stroke-width="4.2"/>
<line x1="424.46" y1="683" x2="424.46" y2="809.7" stroke="#B0396B" stroke-width="4.2"/>
<rect x="408.41" y="580.4" width="32.1" height="102.6" fill="#fff" stroke="#B0396B" stroke-width="4.1" stroke-linejoin="round"/>
<line x1="408.41" y1="617.3" x2="440.51" y2="617.3" stroke="#B0396B" stroke-width="8.2"/>
<g fill="#B0396B"><ellipse cx="440.5" cy="545.3" rx="5.3" ry="3.9"/><ellipse cx="420.1" cy="572" rx="5.3" ry="3.9"/><ellipse cx="425.8" cy="601.1" rx="5.3" ry="3.9"/><ellipse cx="427.4" cy="634.9" rx="5.3" ry="3.9"/><ellipse cx="441.5" cy="701.6" rx="5.3" ry="3.9"/><ellipse cx="425.8" cy="809.7" rx="5.3" ry="3.9"/></g>
<line x1="467.25" y1="545.3" x2="467.25" y2="580.4" stroke="#B0396B" stroke-width="4.2"/>
<line x1="467.25" y1="711.1" x2="467.25" y2="806.6" stroke="#B0396B" stroke-width="4.2"/>
<rect x="451.21" y="580.4" width="32.1" height="130.7" fill="#fff" stroke="#B0396B" stroke-width="4.1" stroke-linejoin="round"/>
<line x1="451.21" y1="618.1" x2="483.3" y2="618.1" stroke="#B0396B" stroke-width="8.2"/>
<g fill="#B0396B"><ellipse cx="467.2" cy="545.3" rx="5.3" ry="3.9"/><ellipse cx="462.5" cy="571.5" rx="5.3" ry="3.9"/><ellipse cx="463.2" cy="602.1" rx="5.3" ry="3.9"/><ellipse cx="480.3" cy="634.9" rx="5.3" ry="3.9"/><ellipse cx="458" cy="739" rx="5.3" ry="3.9"/><ellipse cx="474.3" cy="806.6" rx="5.3" ry="3.9"/></g>
<line x1="510.05" y1="544" x2="510.05" y2="579.3" stroke="#B0396B" stroke-width="4.2"/>
<line x1="510.05" y1="717.6" x2="510.05" y2="800.5" stroke="#B0396B" stroke-width="4.2"/>
<rect x="494" y="579.3" width="32.1" height="138.3" fill="#fff" stroke="#B0396B" stroke-width="4.1" stroke-linejoin="round"/>
<line x1="494" y1="618.1" x2="526.1" y2="618.1" stroke="#B0396B" stroke-width="8.2"/>
<g fill="#B0396B"><ellipse cx="524.2" cy="544" rx="5.3" ry="3.9"/><ellipse cx="504.6" cy="568.9" rx="5.3" ry="3.9"/><ellipse cx="523.5" cy="601.6" rx="5.3" ry="3.9"/><ellipse cx="501.2" cy="633.8" rx="5.3" ry="3.9"/><ellipse cx="493.4" cy="749" rx="5.3" ry="3.9"/><ellipse cx="520" cy="801.3" rx="5.3" ry="3.9"/></g>
<line x1="552.85" y1="554" x2="552.85" y2="585.9" stroke="#B0396B" stroke-width="4.2"/>
<line x1="552.85" y1="664" x2="552.85" y2="783.5" stroke="#B0396B" stroke-width="4.2"/>
<rect x="536.8" y="585.9" width="32.1" height="78.1" fill="#fff" stroke="#B0396B" stroke-width="4.1" stroke-linejoin="round"/>
<line x1="536.8" y1="620.7" x2="568.89" y2="620.7" stroke="#B0396B" stroke-width="8.2"/>
<g fill="#B0396B"><ellipse cx="562.7" cy="554" rx="5.3" ry="3.9"/><ellipse cx="549.6" cy="577.3" rx="5.3" ry="3.9"/><ellipse cx="554.3" cy="605.5" rx="5.3" ry="3.9"/><ellipse cx="563.5" cy="635.1" rx="5.3" ry="3.9"/><ellipse cx="564" cy="675.4" rx="5.3" ry="3.9"/><ellipse cx="556.2" cy="783.5" rx="5.3" ry="3.9"/></g>
<line x1="595.64" y1="549.3" x2="595.64" y2="581.9" stroke="#B0396B" stroke-width="4.2"/>
<line x1="595.64" y1="678.3" x2="595.64" y2="789.5" stroke="#B0396B" stroke-width="4.2"/>
<rect x="579.59" y="581.9" width="32.1" height="96.4" fill="#fff" stroke="#B0396B" stroke-width="4.1" stroke-linejoin="round"/>
<line x1="579.59" y1="618.6" x2="611.69" y2="618.6" stroke="#B0396B" stroke-width="8.2"/>
<g fill="#B0396B"><ellipse cx="585.2" cy="548.7" rx="5.3" ry="3.9"/><ellipse cx="608" cy="574.1" rx="5.3" ry="3.9"/><ellipse cx="609.3" cy="600.8" rx="5.3" ry="3.9"/><ellipse cx="587" cy="637" rx="5.3" ry="3.9"/><ellipse cx="588.3" cy="693.2" rx="5.3" ry="3.9"/><ellipse cx="609.3" cy="790" rx="5.3" ry="3.9"/></g>
<line x1="638.43" y1="545.3" x2="638.43" y2="573.3" stroke="#B0396B" stroke-width="4.2"/>
<rect x="622.39" y="573.3" width="32.1" height="63.7" fill="#fff" stroke="#B0396B" stroke-width="4.1" stroke-linejoin="round"/>
<line x1="622.39" y1="600.3" x2="654.48" y2="600.3" stroke="#B0396B" stroke-width="8.2"/>
<g fill="#B0396B"><ellipse cx="638" cy="544.8" rx="5.3" ry="3.9"/><ellipse cx="641.2" cy="572.3" rx="5.3" ry="3.9"/><ellipse cx="647.2" cy="638.3" rx="5.3" ry="3.9"/><ellipse cx="638.6" cy="752.1" rx="5.3" ry="3.9"/><ellipse cx="654.3" cy="752.1" rx="5.3" ry="3.9"/></g>
<line x1="681.23" y1="546.6" x2="681.23" y2="583" stroke="#B0396B" stroke-width="4.2"/>
<line x1="681.23" y1="709.7" x2="681.23" y2="811.8" stroke="#B0396B" stroke-width="4.2"/>
<rect x="665.18" y="583" width="32.1" height="126.7" fill="#fff" stroke="#B0396B" stroke-width="4.1" stroke-linejoin="round"/>
<line x1="665.18" y1="619.9" x2="697.28" y2="619.9" stroke="#B0396B" stroke-width="8.2"/>
<g fill="#B0396B"><ellipse cx="669.5" cy="546.6" rx="5.3" ry="3.9"/><ellipse cx="688.3" cy="574.1" rx="5.3" ry="3.9"/><ellipse cx="666.3" cy="604.2" rx="5.3" ry="3.9"/><ellipse cx="691.7" cy="635.6" rx="5.3" ry="3.9"/><ellipse cx="674.7" cy="735.1" rx="5.3" ry="3.9"/><ellipse cx="682.6" cy="811.8" rx="5.3" ry="3.9"/></g>
<line x1="724.03" y1="544" x2="724.03" y2="579.3" stroke="#B0396B" stroke-width="4.2"/>
<line x1="724.03" y1="687" x2="724.03" y2="802.6" stroke="#B0396B" stroke-width="4.2"/>
<rect x="707.98" y="579.3" width="32.1" height="107.7" fill="#fff" stroke="#B0396B" stroke-width="4.1" stroke-linejoin="round"/>
<line x1="707.98" y1="617.3" x2="740.07" y2="617.3" stroke="#B0396B" stroke-width="8.2"/>
<g fill="#B0396B"><ellipse cx="722.6" cy="544" rx="5.3" ry="3.9"/><ellipse cx="717.9" cy="570.2" rx="5.3" ry="3.9"/><ellipse cx="739.6" cy="599.8" rx="5.3" ry="3.9"/><ellipse cx="726.3" cy="635.6" rx="5.3" ry="3.9"/><ellipse cx="709.3" cy="705" rx="5.3" ry="3.9"/><ellipse cx="740.7" cy="802.6" rx="5.3" ry="3.9"/></g>
<line x1="766.82" y1="544" x2="766.82" y2="579.3" stroke="#B0396B" stroke-width="4.2"/>
<line x1="766.82" y1="715" x2="766.82" y2="828" stroke="#B0396B" stroke-width="4.2"/>
<rect x="750.77" y="579.3" width="32.1" height="135.7" fill="#fff" stroke="#B0396B" stroke-width="4.1" stroke-linejoin="round"/>
<line x1="750.77" y1="617.3" x2="782.87" y2="617.3" stroke="#B0396B" stroke-width="8.2"/>
<g fill="#B0396B"><ellipse cx="772.3" cy="543.5" rx="5.3" ry="3.9"/><ellipse cx="757.9" cy="570.2" rx="5.3" ry="3.9"/><ellipse cx="772.9" cy="599.8" rx="5.3" ry="3.9"/><ellipse cx="778.6" cy="635.1" rx="5.3" ry="3.9"/><ellipse cx="779.4" cy="742.4" rx="5.3" ry="3.9"/><ellipse cx="774.2" cy="828" rx="5.3" ry="3.9"/></g>
<line x1="809.62" y1="552.7" x2="809.62" y2="580.4" stroke="#B0396B" stroke-width="4.2"/>
<rect x="793.57" y="580.4" width="32.1" height="74.4" fill="#fff" stroke="#B0396B" stroke-width="4.1" stroke-linejoin="round"/>
<line x1="793.57" y1="619.9" x2="825.66" y2="619.9" stroke="#B0396B" stroke-width="8.2"/>
<g fill="#B0396B"><ellipse cx="794.6" cy="552.4" rx="5.3" ry="3.9"/><ellipse cx="808.2" cy="572" rx="5.3" ry="3.9"/><ellipse cx="825.2" cy="601.1" rx="5.3" ry="3.9"/><ellipse cx="801.6" cy="639.6" rx="5.3" ry="3.9"/><ellipse cx="812.1" cy="661" rx="5.3" ry="3.9"/><ellipse cx="810.8" cy="814.4" rx="5.3" ry="3.9"/></g>
<line x1="852.41" y1="546.1" x2="852.41" y2="581.2" stroke="#B0396B" stroke-width="4.2"/>
<line x1="852.41" y1="692.7" x2="852.41" y2="790.9" stroke="#B0396B" stroke-width="4.2"/>
<rect x="836.36" y="581.2" width="32.1" height="111.5" fill="#fff" stroke="#B0396B" stroke-width="4.1" stroke-linejoin="round"/>
<line x1="836.36" y1="619.4" x2="868.46" y2="619.4" stroke="#B0396B" stroke-width="8.2"/>
<g fill="#B0396B"><ellipse cx="863.7" cy="545.3" rx="5.3" ry="3.9"/><ellipse cx="837" cy="572.8" rx="5.3" ry="3.9"/><ellipse cx="868.9" cy="600.3" rx="5.3" ry="3.9"/><ellipse cx="850.6" cy="638.3" rx="5.3" ry="3.9"/><ellipse cx="840.9" cy="711.5" rx="5.3" ry="3.9"/><ellipse cx="857.9" cy="790.9" rx="5.3" ry="3.9"/></g>
<line x1="895.2" y1="547.4" x2="895.2" y2="573.8" stroke="#B0396B" stroke-width="4.2"/>
<rect x="879.16" y="573.8" width="32.1" height="54" fill="#fff" stroke="#B0396B" stroke-width="4.1" stroke-linejoin="round"/>
<line x1="879.16" y1="600.3" x2="911.25" y2="600.3" stroke="#B0396B" stroke-width="8.2"/>
<g fill="#B0396B"><ellipse cx="888.8" cy="546.6" rx="5.3" ry="3.9"/><ellipse cx="905.6" cy="572.8" rx="5.3" ry="3.9"/><ellipse cx="910.3" cy="628.6" rx="5.3" ry="3.9"/><ellipse cx="895.9" cy="716.3" rx="5.3" ry="3.9"/></g>
<line x1="938" y1="551.9" x2="938" y2="583" stroke="#B0396B" stroke-width="4.2"/>
<rect x="921.95" y="583" width="32.1" height="73.1" fill="#fff" stroke="#B0396B" stroke-width="4.1" stroke-linejoin="round"/>
<line x1="921.95" y1="618.1" x2="954.05" y2="618.1" stroke="#B0396B" stroke-width="8.2"/>
<g fill="#B0396B"><ellipse cx="927.3" cy="551.9" rx="5.3" ry="3.9"/><ellipse cx="950.3" cy="575.4" rx="5.3" ry="3.9"/><ellipse cx="941.7" cy="599" rx="5.3" ry="3.9"/><ellipse cx="922" cy="637.7" rx="5.3" ry="3.9"/><ellipse cx="939.8" cy="662.6" rx="5.3" ry="3.9"/><ellipse cx="937.8" cy="794" rx="5.3" ry="3.9"/><ellipse cx="951.1" cy="794" rx="5.3" ry="3.9"/></g>
<line x1="980.8" y1="546.1" x2="980.8" y2="574.1" stroke="#B0396B" stroke-width="4.2"/>
<rect x="964.75" y="574.1" width="32.1" height="59.7" fill="#fff" stroke="#B0396B" stroke-width="4.1" stroke-linejoin="round"/>
<line x1="964.75" y1="604.2" x2="996.84" y2="604.2" stroke="#B0396B" stroke-width="8.2"/>
<g fill="#B0396B"><ellipse cx="970" cy="546.1" rx="5.3" ry="3.9"/><ellipse cx="980.4" cy="572.8" rx="5.3" ry="3.9"/><ellipse cx="979.6" cy="635.1" rx="5.3" ry="3.9"/><ellipse cx="966.5" cy="739.8" rx="5.3" ry="3.9"/><ellipse cx="980.9" cy="739.8" rx="5.3" ry="3.9"/></g>
<line x1="1023.59" y1="551.4" x2="1023.59" y2="584.6" stroke="#3F6A97" stroke-width="4.2"/>
<line x1="1023.59" y1="675.7" x2="1023.59" y2="795.3" stroke="#3F6A97" stroke-width="4.2"/>
<rect x="1007.54" y="584.6" width="32.1" height="91.1" fill="#fff" stroke="#3F6A97" stroke-width="4.1" stroke-linejoin="round"/>
<line x1="1007.54" y1="619.9" x2="1039.64" y2="619.9" stroke="#3F6A97" stroke-width="8.2"/>
<g fill="#3F6A97"><ellipse cx="1030.1" cy="551.1" rx="5.3" ry="3.9"/><ellipse cx="1007.9" cy="578.6" rx="5.3" ry="3.9"/><ellipse cx="1038.7" cy="598.5" rx="5.3" ry="3.9"/><ellipse cx="1013.6" cy="642.2" rx="5.3" ry="3.9"/><ellipse cx="1040.6" cy="687.5" rx="5.3" ry="3.9"/><ellipse cx="1036.1" cy="795.3" rx="5.3" ry="3.9"/></g>
<line x1="1066.38" y1="542.7" x2="1066.38" y2="570.7" stroke="#3F6A97" stroke-width="4.2"/>
<line x1="1066.38" y1="640.4" x2="1066.38" y2="741.6" stroke="#3F6A97" stroke-width="4.2"/>
<rect x="1050.34" y="570.7" width="32.1" height="69.7" fill="#fff" stroke="#3F6A97" stroke-width="4.1" stroke-linejoin="round"/>
<line x1="1050.34" y1="597.2" x2="1082.43" y2="597.2" stroke="#3F6A97" stroke-width="8.2"/>
<g fill="#3F6A97"><ellipse cx="1074.1" cy="541.4" rx="5.3" ry="3.9"/><ellipse cx="1070.7" cy="570.2" rx="5.3" ry="3.9"/><ellipse cx="1083.2" cy="641.7" rx="5.3" ry="3.9"/><ellipse cx="1069.4" cy="741.6" rx="5.3" ry="3.9"/></g>
<line x1="1109.18" y1="551.4" x2="1109.18" y2="583" stroke="#3F6A97" stroke-width="4.2"/>
<rect x="1093.13" y="583" width="32.1" height="73.9" fill="#fff" stroke="#3F6A97" stroke-width="4.1" stroke-linejoin="round"/>
<line x1="1093.13" y1="617.3" x2="1125.23" y2="617.3" stroke="#3F6A97" stroke-width="8.2"/>
<g fill="#3F6A97"><ellipse cx="1102.1" cy="550.6" rx="5.3" ry="3.9"/><ellipse cx="1098.2" cy="578.1" rx="5.3" ry="3.9"/><ellipse cx="1112.6" cy="595.1" rx="5.3" ry="3.9"/><ellipse cx="1107.3" cy="639.6" rx="5.3" ry="3.9"/><ellipse cx="1109.9" cy="663.1" rx="5.3" ry="3.9"/><ellipse cx="1105" cy="791.4" rx="5.3" ry="3.9"/><ellipse cx="1109.6" cy="791.4" rx="5.3" ry="3.9"/></g>
<line x1="1151.98" y1="550" x2="1151.98" y2="580.4" stroke="#3F6A97" stroke-width="4.2"/>
<line x1="1151.98" y1="641.7" x2="1151.98" y2="671" stroke="#3F6A97" stroke-width="4.2"/>
<rect x="1135.93" y="580.4" width="32.1" height="61.3" fill="#fff" stroke="#3F6A97" stroke-width="4.1" stroke-linejoin="round"/>
<line x1="1135.93" y1="592.5" x2="1168.02" y2="592.5" stroke="#3F6A97" stroke-width="8.2"/>
<g fill="#3F6A97"><ellipse cx="1161.8" cy="549.3" rx="5.3" ry="3.9"/><ellipse cx="1144" cy="579.4" rx="5.3" ry="3.9"/><ellipse cx="1142.7" cy="643" rx="5.3" ry="3.9"/><ellipse cx="1155.2" cy="671" rx="5.3" ry="3.9"/></g>
<line x1="1194.77" y1="555.8" x2="1194.77" y2="581.9" stroke="#3F6A97" stroke-width="4.2"/>
<rect x="1178.72" y="581.9" width="32.1" height="62.4" fill="#fff" stroke="#3F6A97" stroke-width="4.1" stroke-linejoin="round"/>
<line x1="1178.72" y1="609.5" x2="1210.82" y2="609.5" stroke="#3F6A97" stroke-width="8.2"/>
<g fill="#3F6A97"><ellipse cx="1191.1" cy="555.8" rx="5.3" ry="3.9"/><ellipse cx="1206.8" cy="580.7" rx="5.3" ry="3.9"/><ellipse cx="1178.5" cy="609.5" rx="5.3" ry="3.9"/><ellipse cx="1202.3" cy="645.6" rx="5.3" ry="3.9"/><ellipse cx="1181.9" cy="745.6" rx="5.3" ry="3.9"/><ellipse cx="1195" cy="745.6" rx="5.3" ry="3.9"/></g>
<line x1="1237.57" y1="551.9" x2="1237.57" y2="585.1" stroke="#46913F" stroke-width="4.2"/>
<line x1="1237.57" y1="673.1" x2="1237.57" y2="775.7" stroke="#46913F" stroke-width="4.2"/>
<rect x="1221.52" y="585.1" width="32.1" height="88" fill="#fff" stroke="#46913F" stroke-width="4.1" stroke-linejoin="round"/>
<line x1="1221.52" y1="624.4" x2="1253.61" y2="624.4" stroke="#46913F" stroke-width="8.2"/>
<g fill="#46913F"><ellipse cx="1245.3" cy="551.4" rx="5.3" ry="3.9"/><ellipse cx="1243.4" cy="579.4" rx="5.3" ry="3.9"/><ellipse cx="1228.2" cy="595.9" rx="5.3" ry="3.9"/><ellipse cx="1231.6" cy="652.1" rx="5.3" ry="3.9"/><ellipse cx="1229.6" cy="682.8" rx="5.3" ry="3.9"/><ellipse cx="1231.6" cy="775.7" rx="5.3" ry="3.9"/></g>
<line x1="1280.36" y1="554" x2="1280.36" y2="588.2" stroke="#46913F" stroke-width="4.2"/>
<line x1="1280.36" y1="670.5" x2="1280.36" y2="771.7" stroke="#46913F" stroke-width="4.2"/>
<rect x="1264.31" y="588.2" width="32.1" height="82.3" fill="#fff" stroke="#46913F" stroke-width="4.1" stroke-linejoin="round"/>
<line x1="1264.31" y1="627" x2="1296.41" y2="627" stroke="#46913F" stroke-width="8.2"/>
<g fill="#46913F"><ellipse cx="1282.7" cy="553.7" rx="5.3" ry="3.9"/><ellipse cx="1281.4" cy="583.3" rx="5.3" ry="3.9"/><ellipse cx="1290" cy="598.5" rx="5.3" ry="3.9"/><ellipse cx="1283.2" cy="655.3" rx="5.3" ry="3.9"/><ellipse cx="1270.9" cy="676.2" rx="5.3" ry="3.9"/><ellipse cx="1269.1" cy="771.7" rx="5.3" ry="3.9"/></g>
<line x1="1323.16" y1="546.6" x2="1323.16" y2="573.3" stroke="#46913F" stroke-width="4.2"/>
<line x1="1323.16" y1="646.9" x2="1323.16" y2="691.9" stroke="#46913F" stroke-width="4.2"/>
<rect x="1307.11" y="573.3" width="32.1" height="73.6" fill="#fff" stroke="#46913F" stroke-width="4.1" stroke-linejoin="round"/>
<line x1="1307.11" y1="593.2" x2="1339.2" y2="593.2" stroke="#46913F" stroke-width="8.2"/>
<g fill="#46913F"><ellipse cx="1338.4" cy="546.1" rx="5.3" ry="3.9"/><ellipse cx="1327.2" cy="572.8" rx="5.3" ry="3.9"/><ellipse cx="1319.9" cy="647.4" rx="5.3" ry="3.9"/><ellipse cx="1321.9" cy="691.9" rx="5.3" ry="3.9"/></g>
<line x1="1365.95" y1="555" x2="1365.95" y2="588.5" stroke="#46913F" stroke-width="4.2"/>
<line x1="1365.95" y1="675.7" x2="1365.95" y2="776.5" stroke="#46913F" stroke-width="4.2"/>
<rect x="1349.9" y="588.5" width="32.1" height="87.2" fill="#fff" stroke="#46913F" stroke-width="4.1" stroke-linejoin="round"/>
<line x1="1349.9" y1="626.5" x2="1382" y2="626.5" stroke="#46913F" stroke-width="8.2"/>
<g fill="#46913F"><ellipse cx="1376.1" cy="554.5" rx="5.3" ry="3.9"/><ellipse cx="1356" cy="585.9" rx="5.3" ry="3.9"/><ellipse cx="1356" cy="593.2" rx="5.3" ry="3.9"/><ellipse cx="1356.5" cy="659.2" rx="5.3" ry="3.9"/><ellipse cx="1376.1" cy="682.8" rx="5.3" ry="3.9"/><ellipse cx="1350.2" cy="776.5" rx="5.3" ry="3.9"/></g>
<line x1="1408.75" y1="550" x2="1408.75" y2="583" stroke="#46913F" stroke-width="4.2"/>
<line x1="1408.75" y1="656.1" x2="1408.75" y2="723.3" stroke="#46913F" stroke-width="4.2"/>
<rect x="1392.7" y="583" width="32.1" height="73.1" fill="#fff" stroke="#46913F" stroke-width="4.1" stroke-linejoin="round"/>
<line x1="1392.7" y1="591.9" x2="1424.79" y2="591.9" stroke="#46913F" stroke-width="8.2"/>
<g fill="#46913F"><ellipse cx="1399.2" cy="549.8" rx="5.3" ry="3.9"/><ellipse cx="1401.8" cy="582" rx="5.3" ry="3.9"/><ellipse cx="1409.6" cy="656.6" rx="5.3" ry="3.9"/><ellipse cx="1420.1" cy="723.3" rx="5.3" ry="3.9"/></g>
<line x1="1451.54" y1="554" x2="1451.54" y2="589.8" stroke="#46913F" stroke-width="4.2"/>
<line x1="1451.54" y1="672.6" x2="1451.54" y2="762.6" stroke="#46913F" stroke-width="4.2"/>
<rect x="1435.49" y="589.8" width="32.1" height="82.8" fill="#fff" stroke="#46913F" stroke-width="4.1" stroke-linejoin="round"/>
<line x1="1435.49" y1="626.5" x2="1467.59" y2="626.5" stroke="#46913F" stroke-width="8.2"/>
<g fill="#46913F"><ellipse cx="1448.3" cy="554" rx="5.3" ry="3.9"/><ellipse cx="1461.9" cy="585.9" rx="5.3" ry="3.9"/><ellipse cx="1447.5" cy="593.8" rx="5.3" ry="3.9"/><ellipse cx="1460.6" cy="659.7" rx="5.3" ry="3.9"/><ellipse cx="1465" cy="678.8" rx="5.3" ry="3.9"/><ellipse cx="1457.2" cy="763.1" rx="5.3" ry="3.9"/></g>
<line x1="1494.34" y1="546.6" x2="1494.34" y2="578.5" stroke="#FDD62A" stroke-width="4.2"/>
<line x1="1494.34" y1="640.4" x2="1494.34" y2="705" stroke="#FDD62A" stroke-width="4.2"/>
<rect x="1478.29" y="578.5" width="32.1" height="61.9" fill="#fff" stroke="#FDD62A" stroke-width="4.1" stroke-linejoin="round"/>
<line x1="1478.29" y1="593.8" x2="1510.38" y2="593.8" stroke="#FDD62A" stroke-width="8.2"/>
<g fill="#FDD62A"><ellipse cx="1498" cy="546.1" rx="5.3" ry="3.9"/><ellipse cx="1490.1" cy="576.7" rx="5.3" ry="3.9"/><ellipse cx="1501.9" cy="642.2" rx="5.3" ry="3.9"/><ellipse cx="1507.7" cy="705.8" rx="5.3" ry="3.9"/></g>
<line x1="1537.13" y1="541.4" x2="1537.13" y2="571.5" stroke="#FDD62A" stroke-width="4.2"/>
<rect x="1521.08" y="571.5" width="32.1" height="65" fill="#fff" stroke="#FDD62A" stroke-width="4.1" stroke-linejoin="round"/>
<line x1="1521.08" y1="593.8" x2="1553.18" y2="593.8" stroke="#FDD62A" stroke-width="8.2"/>
<g fill="#FDD62A"><ellipse cx="1538.3" cy="541.4" rx="5.3" ry="3.9"/><ellipse cx="1545.6" cy="569.7" rx="5.3" ry="3.9"/><ellipse cx="1554.8" cy="595.1" rx="5.3" ry="3.9"/><ellipse cx="1552.2" cy="637.5" rx="5.3" ry="3.9"/><ellipse cx="1527.8" cy="741.1" rx="5.3" ry="3.9"/><ellipse cx="1536.5" cy="741.1" rx="5.3" ry="3.9"/></g>
<line x1="1579.93" y1="540.9" x2="1579.93" y2="571.5" stroke="#FDD62A" stroke-width="4.2"/>
<line x1="1579.93" y1="637.8" x2="1579.93" y2="737.7" stroke="#FDD62A" stroke-width="4.2"/>
<rect x="1563.88" y="571.5" width="32.1" height="66.3" fill="#fff" stroke="#FDD62A" stroke-width="4.1" stroke-linejoin="round"/>
<line x1="1563.88" y1="591.9" x2="1595.97" y2="591.9" stroke="#FDD62A" stroke-width="8.2"/>
<g fill="#FDD62A"><ellipse cx="1576.3" cy="540.9" rx="5.3" ry="3.9"/><ellipse cx="1588.8" cy="569.7" rx="5.3" ry="3.9"/><ellipse cx="1571.8" cy="639.6" rx="5.3" ry="3.9"/><ellipse cx="1571.8" cy="737.7" rx="5.3" ry="3.9"/></g>
<line x1="1622.72" y1="541.9" x2="1622.72" y2="570.7" stroke="#FDD62A" stroke-width="4.2"/>
<line x1="1622.72" y1="636.5" x2="1622.72" y2="738.5" stroke="#FDD62A" stroke-width="4.2"/>
<rect x="1606.67" y="570.7" width="32.1" height="65.8" fill="#fff" stroke="#FDD62A" stroke-width="4.1" stroke-linejoin="round"/>
<line x1="1606.67" y1="593.2" x2="1638.77" y2="593.2" stroke="#FDD62A" stroke-width="8.2"/>
<g fill="#FDD62A"><ellipse cx="1627.6" cy="541.4" rx="5.3" ry="3.9"/><ellipse cx="1622.9" cy="569.7" rx="5.3" ry="3.9"/><ellipse cx="1613.2" cy="638.3" rx="5.3" ry="3.9"/><ellipse cx="1615" cy="739" rx="5.3" ry="3.9"/></g>
<line x1="1665.52" y1="546.1" x2="1665.52" y2="581.9" stroke="#86471F" stroke-width="4.2"/>
<line x1="1665.52" y1="659.5" x2="1665.52" y2="667.8" stroke="#86471F" stroke-width="4.2"/>
<rect x="1649.47" y="581.9" width="32.1" height="77.6" fill="#fff" stroke="#86471F" stroke-width="4.1" stroke-linejoin="round"/>
<line x1="1649.47" y1="616.8" x2="1681.56" y2="616.8" stroke="#86471F" stroke-width="8.2"/>
<g fill="#86471F"><ellipse cx="1668.7" cy="545.3" rx="5.3" ry="3.9"/><ellipse cx="1679.1" cy="574.1" rx="5.3" ry="3.9"/><ellipse cx="1661.3" cy="595.9" rx="5.3" ry="3.9"/><ellipse cx="1680.4" cy="637" rx="5.3" ry="3.9"/><ellipse cx="1672.1" cy="668.4" rx="5.3" ry="3.9"/><ellipse cx="1664.7" cy="797.1" rx="5.3" ry="3.9"/><ellipse cx="1675.2" cy="797.1" rx="5.3" ry="3.9"/></g>
<line x1="1708.31" y1="538.8" x2="1708.31" y2="568.1" stroke="#86471F" stroke-width="4.2"/>
<line x1="1708.31" y1="633.8" x2="1708.31" y2="692.7" stroke="#86471F" stroke-width="4.2"/>
<rect x="1692.26" y="568.1" width="32.1" height="65.7" fill="#fff" stroke="#86471F" stroke-width="4.1" stroke-linejoin="round"/>
<line x1="1692.26" y1="589.8" x2="1724.36" y2="589.8" stroke="#86471F" stroke-width="8.2"/>
<g fill="#86471F"><ellipse cx="1698" cy="538.3" rx="5.3" ry="3.9"/><ellipse cx="1702.7" cy="566.3" rx="5.3" ry="3.9"/><ellipse cx="1723.6" cy="589.8" rx="5.3" ry="3.9"/><ellipse cx="1698" cy="634.3" rx="5.3" ry="3.9"/><ellipse cx="1698.8" cy="692.7" rx="5.3" ry="3.9"/></g>
<line x1="1751.11" y1="534.3" x2="1751.11" y2="564.1" stroke="#86471F" stroke-width="4.2"/>
<rect x="1735.06" y="564.1" width="32.1" height="61.9" fill="#fff" stroke="#86471F" stroke-width="4.1" stroke-linejoin="round"/>
<line x1="1735.06" y1="592.5" x2="1767.15" y2="592.5" stroke="#86471F" stroke-width="8.2"/>
<g fill="#86471F"><ellipse cx="1764.2" cy="533.6" rx="5.3" ry="3.9"/><ellipse cx="1758.4" cy="562.3" rx="5.3" ry="3.9"/><ellipse cx="1763.7" cy="627.8" rx="5.3" ry="3.9"/><ellipse cx="1751.1" cy="738.5" rx="5.3" ry="3.9"/><ellipse cx="1757.7" cy="738.5" rx="5.3" ry="3.9"/></g>
<line x1="1793.9" y1="555" x2="1793.9" y2="583.8" stroke="#86471F" stroke-width="4.2"/>
<line x1="1793.9" y1="669.2" x2="1793.9" y2="766.5" stroke="#86471F" stroke-width="4.2"/>
<rect x="1777.85" y="583.8" width="32.1" height="85.4" fill="#fff" stroke="#86471F" stroke-width="4.1" stroke-linejoin="round"/>
<line x1="1777.85" y1="623.9" x2="1809.95" y2="623.9" stroke="#86471F" stroke-width="8.2"/>
<g fill="#86471F"><ellipse cx="1783.8" cy="554.5" rx="5.3" ry="3.9"/><ellipse cx="1806.9" cy="578.6" rx="5.3" ry="3.9"/><ellipse cx="1802.7" cy="593.2" rx="5.3" ry="3.9"/><ellipse cx="1787.2" cy="654.7" rx="5.3" ry="3.9"/><ellipse cx="1810" cy="675.4" rx="5.3" ry="3.9"/><ellipse cx="1800.8" cy="767.3" rx="5.3" ry="3.9"/></g>
<line x1="1836.7" y1="553.2" x2="1836.7" y2="585.1" stroke="#86471F" stroke-width="4.2"/>
<line x1="1836.7" y1="665.3" x2="1836.7" y2="785.4" stroke="#86471F" stroke-width="4.2"/>
<rect x="1820.65" y="585.1" width="32.1" height="80.2" fill="#fff" stroke="#86471F" stroke-width="4.1" stroke-linejoin="round"/>
<line x1="1820.65" y1="617.3" x2="1852.74" y2="617.3" stroke="#86471F" stroke-width="8.2"/>
<g fill="#86471F"><ellipse cx="1847.4" cy="552.4" rx="5.3" ry="3.9"/><ellipse cx="1831.5" cy="580.1" rx="5.3" ry="3.9"/><ellipse cx="1837" cy="592.5" rx="5.3" ry="3.9"/><ellipse cx="1824.4" cy="644" rx="5.3" ry="3.9"/><ellipse cx="1848.5" cy="675.4" rx="5.3" ry="3.9"/><ellipse cx="1825.2" cy="785.6" rx="5.3" ry="3.9"/></g>
<rect x="1872.15" y="515.45" width="49.9" height="326.8" fill="#fff" stroke="#231f20" stroke-width="3.9"/>
<rect x="144.95" y="959.95" width="323.8" height="53.8" fill="#fff" stroke="#231f20" stroke-width="3.9"/>
<line x1="146" y1="1031.9" x2="146" y2="1383.6" stroke="#000" stroke-width="4.0"/>
<line x1="144" y1="1381.6" x2="1857.6" y2="1381.6" stroke="#000" stroke-width="4.0"/>
<line x1="171.38" y1="1383.6" x2="171.38" y2="1390.1" stroke="#333333" stroke-width="4"/>
<line x1="213.97" y1="1383.6" x2="213.97" y2="1390.1" stroke="#333333" stroke-width="4"/>
<line x1="256.57" y1="1383.6" x2="256.57" y2="1390.1" stroke="#333333" stroke-width="4"/>
<line x1="299.16" y1="1383.6" x2="299.16" y2="1390.1" stroke="#333333" stroke-width="4"/>
<line x1="341.75" y1="1383.6" x2="341.75" y2="1390.1" stroke="#333333" stroke-width="4"/>
<line x1="384.35" y1="1383.6" x2="384.35" y2="1390.1" stroke="#333333" stroke-width="4"/>
<line x1="426.94" y1="1383.6" x2="426.94" y2="1390.1" stroke="#333333" stroke-width="4"/>
<line x1="469.53" y1="1383.6" x2="469.53" y2="1390.1" stroke="#333333" stroke-width="4"/>
<line x1="512.12" y1="1383.6" x2="512.12" y2="1390.1" stroke="#333333" stroke-width="4"/>
<line x1="554.72" y1="1383.6" x2="554.72" y2="1390.1" stroke="#333333" stroke-width="4"/>
<line x1="597.31" y1="1383.6" x2="597.31" y2="1390.1" stroke="#333333" stroke-width="4"/>
<line x1="639.9" y1="1383.6" x2="639.9" y2="1390.1" stroke="#333333" stroke-width="4"/>
<line x1="682.5" y1="1383.6" x2="682.5" y2="1390.1" stroke="#333333" stroke-width="4"/>
<line x1="725.09" y1="1383.6" x2="725.09" y2="1390.1" stroke="#333333" stroke-width="4"/>
<line x1="767.68" y1="1383.6" x2="767.68" y2="1390.1" stroke="#333333" stroke-width="4"/>
<line x1="810.28" y1="1383.6" x2="810.28" y2="1390.1" stroke="#333333" stroke-width="4"/>
<line x1="852.87" y1="1383.6" x2="852.87" y2="1390.1" stroke="#333333" stroke-width="4"/>
<line x1="895.46" y1="1383.6" x2="895.46" y2="1390.1" stroke="#333333" stroke-width="4"/>
<line x1="938.05" y1="1383.6" x2="938.05" y2="1390.1" stroke="#333333" stroke-width="4"/>
<line x1="980.65" y1="1383.6" x2="980.65" y2="1390.1" stroke="#333333" stroke-width="4"/>
<line x1="1023.24" y1="1383.6" x2="1023.24" y2="1390.1" stroke="#333333" stroke-width="4"/>
<line x1="1065.83" y1="1383.6" x2="1065.83" y2="1390.1" stroke="#333333" stroke-width="4"/>
<line x1="1108.43" y1="1383.6" x2="1108.43" y2="1390.1" stroke="#333333" stroke-width="4"/>
<line x1="1151.02" y1="1383.6" x2="1151.02" y2="1390.1" stroke="#333333" stroke-width="4"/>
<line x1="1193.61" y1="1383.6" x2="1193.61" y2="1390.1" stroke="#333333" stroke-width="4"/>
<line x1="1236.2" y1="1383.6" x2="1236.2" y2="1390.1" stroke="#333333" stroke-width="4"/>
<line x1="1278.8" y1="1383.6" x2="1278.8" y2="1390.1" stroke="#333333" stroke-width="4"/>
<line x1="1321.39" y1="1383.6" x2="1321.39" y2="1390.1" stroke="#333333" stroke-width="4"/>
<line x1="1363.98" y1="1383.6" x2="1363.98" y2="1390.1" stroke="#333333" stroke-width="4"/>
<line x1="1406.58" y1="1383.6" x2="1406.58" y2="1390.1" stroke="#333333" stroke-width="4"/>
<line x1="1449.17" y1="1383.6" x2="1449.17" y2="1390.1" stroke="#333333" stroke-width="4"/>
<line x1="1491.76" y1="1383.6" x2="1491.76" y2="1390.1" stroke="#333333" stroke-width="4"/>
<line x1="1534.36" y1="1383.6" x2="1534.36" y2="1390.1" stroke="#333333" stroke-width="4"/>
<line x1="1576.95" y1="1383.6" x2="1576.95" y2="1390.1" stroke="#333333" stroke-width="4"/>
<line x1="1619.54" y1="1383.6" x2="1619.54" y2="1390.1" stroke="#333333" stroke-width="4"/>
<line x1="1662.14" y1="1383.6" x2="1662.14" y2="1390.1" stroke="#333333" stroke-width="4"/>
<line x1="1704.73" y1="1383.6" x2="1704.73" y2="1390.1" stroke="#333333" stroke-width="4"/>
<line x1="1747.32" y1="1383.6" x2="1747.32" y2="1390.1" stroke="#333333" stroke-width="4"/>
<line x1="1789.91" y1="1383.6" x2="1789.91" y2="1390.1" stroke="#333333" stroke-width="4"/>
<line x1="1832.51" y1="1383.6" x2="1832.51" y2="1390.1" stroke="#333333" stroke-width="4"/>
<line x1="137.5" y1="1125" x2="144" y2="1125" stroke="#333333" stroke-width="4"/>
<line x1="137.5" y1="1219.8" x2="144" y2="1219.8" stroke="#333333" stroke-width="4"/>
<line x1="137.5" y1="1315.5" x2="144" y2="1315.5" stroke="#333333" stroke-width="4"/>
<line x1="171.38" y1="1128" x2="171.38" y2="1204" stroke="#000000" stroke-width="4.2"/>
<line x1="171.38" y1="1252.8" x2="171.38" y2="1317.4" stroke="#000000" stroke-width="4.2"/>
<rect x="155.41" y="1204" width="31.94" height="48.8" fill="#fff" stroke="#000000" stroke-width="4.1" stroke-linejoin="round"/>
<line x1="155.41" y1="1231" x2="187.35" y2="1231" stroke="#000000" stroke-width="8.2"/>
<g fill="#000000"><ellipse cx="171.38" cy="1066.6" rx="5.3" ry="3.9"/><ellipse cx="171.38" cy="1063.3" rx="5.3" ry="3.9"/><ellipse cx="171.38" cy="1061.4" rx="5.3" ry="3.9"/><ellipse cx="171.38" cy="1128.2" rx="5.3" ry="3.9"/><ellipse cx="171.38" cy="1124.9" rx="5.3" ry="3.9"/><ellipse cx="171.38" cy="1121.27" rx="5.3" ry="3.9"/><ellipse cx="171.38" cy="1117.28" rx="5.3" ry="3.9"/><ellipse cx="171.38" cy="1112.88" rx="5.3" ry="3.9"/><ellipse cx="171.38" cy="1108.05" rx="5.3" ry="3.9"/><ellipse cx="171.38" cy="1102.74" rx="5.3" ry="3.9"/><ellipse cx="171.38" cy="1097.24" rx="5.3" ry="3.9"/><ellipse cx="171.38" cy="1091.74" rx="5.3" ry="3.9"/><ellipse cx="171.38" cy="1086.24" rx="5.3" ry="3.9"/><ellipse cx="171.38" cy="1081" rx="5.3" ry="3.9"/></g>
<line x1="213.97" y1="1129.5" x2="213.97" y2="1205.3" stroke="#000000" stroke-width="4.2"/>
<line x1="213.97" y1="1254.1" x2="213.97" y2="1325.2" stroke="#000000" stroke-width="4.2"/>
<rect x="198" y="1205.3" width="31.94" height="48.8" fill="#fff" stroke="#000000" stroke-width="4.1" stroke-linejoin="round"/>
<line x1="198" y1="1232.3" x2="229.95" y2="1232.3" stroke="#000000" stroke-width="8.2"/>
<g fill="#000000"><ellipse cx="213.97" cy="1063.2" rx="5.3" ry="3.9"/><ellipse cx="213.97" cy="1129.5" rx="5.3" ry="3.9"/><ellipse cx="213.97" cy="1126.2" rx="5.3" ry="3.9"/><ellipse cx="213.97" cy="1122.57" rx="5.3" ry="3.9"/><ellipse cx="213.97" cy="1118.58" rx="5.3" ry="3.9"/><ellipse cx="213.97" cy="1114.18" rx="5.3" ry="3.9"/><ellipse cx="213.97" cy="1109.35" rx="5.3" ry="3.9"/><ellipse cx="213.97" cy="1104.04" rx="5.3" ry="3.9"/><ellipse cx="213.97" cy="1098.54" rx="5.3" ry="3.9"/><ellipse cx="213.97" cy="1093.04" rx="5.3" ry="3.9"/><ellipse cx="213.97" cy="1087.54" rx="5.3" ry="3.9"/><ellipse cx="213.97" cy="1084.4" rx="5.3" ry="3.9"/><ellipse cx="213.97" cy="1328.4" rx="5.3" ry="3.9"/><ellipse cx="213.97" cy="1331.7" rx="5.3" ry="3.9"/><ellipse cx="213.97" cy="1335.33" rx="5.3" ry="3.9"/><ellipse cx="213.97" cy="1339.32" rx="5.3" ry="3.9"/><ellipse cx="213.97" cy="1341.5" rx="5.3" ry="3.9"/></g>
<line x1="256.57" y1="1136" x2="256.57" y2="1212.4" stroke="#000000" stroke-width="4.2"/>
<line x1="256.57" y1="1261.2" x2="256.57" y2="1338.9" stroke="#000000" stroke-width="4.2"/>
<rect x="240.59" y="1212.4" width="31.94" height="48.8" fill="#fff" stroke="#000000" stroke-width="4.1" stroke-linejoin="round"/>
<line x1="240.59" y1="1238.6" x2="272.54" y2="1238.6" stroke="#000000" stroke-width="8.2"/>
<g fill="#000000"><ellipse cx="256.57" cy="1062.7" rx="5.3" ry="3.9"/><ellipse cx="256.57" cy="1340.2" rx="5.3" ry="3.9"/><ellipse cx="256.57" cy="1356.7" rx="5.3" ry="3.9"/><ellipse cx="256.57" cy="1136" rx="5.3" ry="3.9"/><ellipse cx="256.57" cy="1132.7" rx="5.3" ry="3.9"/><ellipse cx="256.57" cy="1129.07" rx="5.3" ry="3.9"/><ellipse cx="256.57" cy="1125.08" rx="5.3" ry="3.9"/><ellipse cx="256.57" cy="1120.68" rx="5.3" ry="3.9"/><ellipse cx="256.57" cy="1115.85" rx="5.3" ry="3.9"/><ellipse cx="256.57" cy="1110.54" rx="5.3" ry="3.9"/><ellipse cx="256.57" cy="1105.04" rx="5.3" ry="3.9"/><ellipse cx="256.57" cy="1099.54" rx="5.3" ry="3.9"/><ellipse cx="256.57" cy="1094.04" rx="5.3" ry="3.9"/><ellipse cx="256.57" cy="1088.54" rx="5.3" ry="3.9"/><ellipse cx="256.57" cy="1083.04" rx="5.3" ry="3.9"/><ellipse cx="256.57" cy="1079.7" rx="5.3" ry="3.9"/></g>
<line x1="299.16" y1="1138.6" x2="299.16" y2="1215.8" stroke="#000000" stroke-width="4.2"/>
<line x1="299.16" y1="1263.8" x2="299.16" y2="1331.8" stroke="#000000" stroke-width="4.2"/>
<rect x="283.19" y="1215.8" width="31.94" height="48" fill="#fff" stroke="#000000" stroke-width="4.1" stroke-linejoin="round"/>
<line x1="283.19" y1="1242" x2="315.13" y2="1242" stroke="#000000" stroke-width="8.2"/>
<g fill="#000000"><ellipse cx="299.16" cy="1062.7" rx="5.3" ry="3.9"/><ellipse cx="299.16" cy="1347.2" rx="5.3" ry="3.9"/><ellipse cx="299.16" cy="1138.6" rx="5.3" ry="3.9"/><ellipse cx="299.16" cy="1135.3" rx="5.3" ry="3.9"/><ellipse cx="299.16" cy="1131.67" rx="5.3" ry="3.9"/><ellipse cx="299.16" cy="1127.68" rx="5.3" ry="3.9"/><ellipse cx="299.16" cy="1123.28" rx="5.3" ry="3.9"/><ellipse cx="299.16" cy="1118.45" rx="5.3" ry="3.9"/><ellipse cx="299.16" cy="1113.14" rx="5.3" ry="3.9"/><ellipse cx="299.16" cy="1107.64" rx="5.3" ry="3.9"/><ellipse cx="299.16" cy="1102.14" rx="5.3" ry="3.9"/><ellipse cx="299.16" cy="1096.64" rx="5.3" ry="3.9"/><ellipse cx="299.16" cy="1091.14" rx="5.3" ry="3.9"/><ellipse cx="299.16" cy="1086.3" rx="5.3" ry="3.9"/></g>
<line x1="341.75" y1="1125.5" x2="341.75" y2="1203.2" stroke="#000000" stroke-width="4.2"/>
<line x1="341.75" y1="1250.7" x2="341.75" y2="1326.6" stroke="#000000" stroke-width="4.2"/>
<rect x="325.78" y="1203.2" width="31.94" height="47.5" fill="#fff" stroke="#000000" stroke-width="4.1" stroke-linejoin="round"/>
<line x1="325.78" y1="1228.4" x2="357.72" y2="1228.4" stroke="#000000" stroke-width="8.2"/>
<g fill="#000000"><ellipse cx="341.75" cy="1065.3" rx="5.3" ry="3.9"/><ellipse cx="341.75" cy="1062" rx="5.3" ry="3.9"/><ellipse cx="341.75" cy="1058.8" rx="5.3" ry="3.9"/><ellipse cx="341.75" cy="1088.9" rx="5.3" ry="3.9"/><ellipse cx="341.75" cy="1085.6" rx="5.3" ry="3.9"/><ellipse cx="341.75" cy="1081.97" rx="5.3" ry="3.9"/><ellipse cx="341.75" cy="1078.4" rx="5.3" ry="3.9"/><ellipse cx="341.75" cy="1125.5" rx="5.3" ry="3.9"/><ellipse cx="341.75" cy="1122.2" rx="5.3" ry="3.9"/><ellipse cx="341.75" cy="1118.57" rx="5.3" ry="3.9"/><ellipse cx="341.75" cy="1114.58" rx="5.3" ry="3.9"/><ellipse cx="341.75" cy="1110.18" rx="5.3" ry="3.9"/><ellipse cx="341.75" cy="1105.35" rx="5.3" ry="3.9"/><ellipse cx="341.75" cy="1100.04" rx="5.3" ry="3.9"/><ellipse cx="341.75" cy="1098.1" rx="5.3" ry="3.9"/><ellipse cx="341.75" cy="1334.5" rx="5.3" ry="3.9"/><ellipse cx="341.75" cy="1337.5" rx="5.3" ry="3.9"/></g>
<line x1="384.35" y1="1134.7" x2="384.35" y2="1213.7" stroke="#B0396B" stroke-width="4.2"/>
<line x1="384.35" y1="1263.3" x2="384.35" y2="1341.5" stroke="#B0396B" stroke-width="4.2"/>
<rect x="368.37" y="1213.7" width="31.94" height="49.6" fill="#fff" stroke="#B0396B" stroke-width="4.1" stroke-linejoin="round"/>
<line x1="368.37" y1="1241.5" x2="400.32" y2="1241.5" stroke="#B0396B" stroke-width="8.2"/>
<g fill="#B0396B"><ellipse cx="384.35" cy="1063.5" rx="5.3" ry="3.9"/><ellipse cx="384.35" cy="1343.3" rx="5.3" ry="3.9"/><ellipse cx="384.35" cy="1091.5" rx="5.3" ry="3.9"/><ellipse cx="384.35" cy="1088.2" rx="5.3" ry="3.9"/><ellipse cx="384.35" cy="1086.3" rx="5.3" ry="3.9"/><ellipse cx="384.35" cy="1134.7" rx="5.3" ry="3.9"/><ellipse cx="384.35" cy="1131.4" rx="5.3" ry="3.9"/><ellipse cx="384.35" cy="1127.77" rx="5.3" ry="3.9"/><ellipse cx="384.35" cy="1123.78" rx="5.3" ry="3.9"/><ellipse cx="384.35" cy="1119.38" rx="5.3" ry="3.9"/><ellipse cx="384.35" cy="1114.55" rx="5.3" ry="3.9"/><ellipse cx="384.35" cy="1109.24" rx="5.3" ry="3.9"/><ellipse cx="384.35" cy="1104.6" rx="5.3" ry="3.9"/></g>
<line x1="426.94" y1="1134.7" x2="426.94" y2="1211.6" stroke="#B0396B" stroke-width="4.2"/>
<line x1="426.94" y1="1259.3" x2="426.94" y2="1336.2" stroke="#B0396B" stroke-width="4.2"/>
<rect x="410.97" y="1211.6" width="31.94" height="47.7" fill="#fff" stroke="#B0396B" stroke-width="4.1" stroke-linejoin="round"/>
<line x1="410.97" y1="1238.1" x2="442.91" y2="1238.1" stroke="#B0396B" stroke-width="8.2"/>
<g fill="#B0396B"><ellipse cx="426.94" cy="1060.1" rx="5.3" ry="3.9"/><ellipse cx="426.94" cy="1108.5" rx="5.3" ry="3.9"/><ellipse cx="426.94" cy="1105.2" rx="5.3" ry="3.9"/><ellipse cx="426.94" cy="1101.57" rx="5.3" ry="3.9"/><ellipse cx="426.94" cy="1097.58" rx="5.3" ry="3.9"/><ellipse cx="426.94" cy="1093.18" rx="5.3" ry="3.9"/><ellipse cx="426.94" cy="1088.35" rx="5.3" ry="3.9"/><ellipse cx="426.94" cy="1083.04" rx="5.3" ry="3.9"/><ellipse cx="426.94" cy="1081" rx="5.3" ry="3.9"/><ellipse cx="426.94" cy="1134.7" rx="5.3" ry="3.9"/><ellipse cx="426.94" cy="1131.4" rx="5.3" ry="3.9"/><ellipse cx="426.94" cy="1127.77" rx="5.3" ry="3.9"/><ellipse cx="426.94" cy="1123.78" rx="5.3" ry="3.9"/><ellipse cx="426.94" cy="1119.38" rx="5.3" ry="3.9"/><ellipse cx="426.94" cy="1115.1" rx="5.3" ry="3.9"/><ellipse cx="426.94" cy="1346.2" rx="5.3" ry="3.9"/><ellipse cx="426.94" cy="1349.5" rx="5.3" ry="3.9"/><ellipse cx="426.94" cy="1352" rx="5.3" ry="3.9"/></g>
<line x1="469.53" y1="1138.6" x2="469.53" y2="1215.8" stroke="#B0396B" stroke-width="4.2"/>
<line x1="469.53" y1="1264.6" x2="469.53" y2="1338.9" stroke="#B0396B" stroke-width="4.2"/>
<rect x="453.56" y="1215.8" width="31.94" height="48.8" fill="#fff" stroke="#B0396B" stroke-width="4.1" stroke-linejoin="round"/>
<line x1="453.56" y1="1241.5" x2="485.5" y2="1241.5" stroke="#B0396B" stroke-width="8.2"/>
<g fill="#B0396B"><ellipse cx="469.53" cy="1064.8" rx="5.3" ry="3.9"/><ellipse cx="469.53" cy="1343.3" rx="5.3" ry="3.9"/><ellipse cx="469.53" cy="1138.6" rx="5.3" ry="3.9"/><ellipse cx="469.53" cy="1135.3" rx="5.3" ry="3.9"/><ellipse cx="469.53" cy="1131.67" rx="5.3" ry="3.9"/><ellipse cx="469.53" cy="1127.68" rx="5.3" ry="3.9"/><ellipse cx="469.53" cy="1123.28" rx="5.3" ry="3.9"/><ellipse cx="469.53" cy="1118.45" rx="5.3" ry="3.9"/><ellipse cx="469.53" cy="1113.14" rx="5.3" ry="3.9"/><ellipse cx="469.53" cy="1107.64" rx="5.3" ry="3.9"/><ellipse cx="469.53" cy="1102.14" rx="5.3" ry="3.9"/><ellipse cx="469.53" cy="1096.64" rx="5.3" ry="3.9"/><ellipse cx="469.53" cy="1091.14" rx="5.3" ry="3.9"/><ellipse cx="469.53" cy="1085.64" rx="5.3" ry="3.9"/><ellipse cx="469.53" cy="1082.3" rx="5.3" ry="3.9"/></g>
<line x1="512.12" y1="1134.7" x2="512.12" y2="1211.6" stroke="#B0396B" stroke-width="4.2"/>
<line x1="512.12" y1="1259.3" x2="512.12" y2="1331" stroke="#B0396B" stroke-width="4.2"/>
<rect x="496.15" y="1211.6" width="31.94" height="47.7" fill="#fff" stroke="#B0396B" stroke-width="4.1" stroke-linejoin="round"/>
<line x1="496.15" y1="1238.9" x2="528.1" y2="1238.9" stroke="#B0396B" stroke-width="8.2"/>
<g fill="#B0396B"><ellipse cx="512.12" cy="1068.5" rx="5.3" ry="3.9"/><ellipse cx="512.12" cy="1354.6" rx="5.3" ry="3.9"/><ellipse cx="512.12" cy="1100.7" rx="5.3" ry="3.9"/><ellipse cx="512.12" cy="1097.4" rx="5.3" ry="3.9"/><ellipse cx="512.12" cy="1093.77" rx="5.3" ry="3.9"/><ellipse cx="512.12" cy="1089.78" rx="5.3" ry="3.9"/><ellipse cx="512.12" cy="1085.38" rx="5.3" ry="3.9"/><ellipse cx="512.12" cy="1085" rx="5.3" ry="3.9"/><ellipse cx="512.12" cy="1134.7" rx="5.3" ry="3.9"/><ellipse cx="512.12" cy="1131.4" rx="5.3" ry="3.9"/><ellipse cx="512.12" cy="1127.77" rx="5.3" ry="3.9"/><ellipse cx="512.12" cy="1123.78" rx="5.3" ry="3.9"/><ellipse cx="512.12" cy="1119.38" rx="5.3" ry="3.9"/><ellipse cx="512.12" cy="1114.55" rx="5.3" ry="3.9"/><ellipse cx="512.12" cy="1112.5" rx="5.3" ry="3.9"/></g>
<line x1="554.72" y1="1139.9" x2="554.72" y2="1216.3" stroke="#B0396B" stroke-width="4.2"/>
<line x1="554.72" y1="1265.1" x2="554.72" y2="1339.6" stroke="#B0396B" stroke-width="4.2"/>
<rect x="538.74" y="1216.3" width="31.94" height="48.8" fill="#fff" stroke="#B0396B" stroke-width="4.1" stroke-linejoin="round"/>
<line x1="538.74" y1="1242.5" x2="570.69" y2="1242.5" stroke="#B0396B" stroke-width="8.2"/>
<g fill="#B0396B"><ellipse cx="554.72" cy="1068.7" rx="5.3" ry="3.9"/><ellipse cx="554.72" cy="1139.9" rx="5.3" ry="3.9"/><ellipse cx="554.72" cy="1136.6" rx="5.3" ry="3.9"/><ellipse cx="554.72" cy="1132.97" rx="5.3" ry="3.9"/><ellipse cx="554.72" cy="1128.98" rx="5.3" ry="3.9"/><ellipse cx="554.72" cy="1124.58" rx="5.3" ry="3.9"/><ellipse cx="554.72" cy="1119.75" rx="5.3" ry="3.9"/><ellipse cx="554.72" cy="1114.44" rx="5.3" ry="3.9"/><ellipse cx="554.72" cy="1108.94" rx="5.3" ry="3.9"/><ellipse cx="554.72" cy="1103.44" rx="5.3" ry="3.9"/><ellipse cx="554.72" cy="1097.94" rx="5.3" ry="3.9"/><ellipse cx="554.72" cy="1092.44" rx="5.3" ry="3.9"/><ellipse cx="554.72" cy="1086.94" rx="5.3" ry="3.9"/><ellipse cx="554.72" cy="1086.3" rx="5.3" ry="3.9"/></g>
<line x1="597.31" y1="1138.6" x2="597.31" y2="1213.7" stroke="#B0396B" stroke-width="4.2"/>
<line x1="597.31" y1="1261.2" x2="597.31" y2="1325.8" stroke="#B0396B" stroke-width="4.2"/>
<rect x="581.34" y="1213.7" width="31.94" height="47.5" fill="#fff" stroke="#B0396B" stroke-width="4.1" stroke-linejoin="round"/>
<line x1="581.34" y1="1239.4" x2="613.28" y2="1239.4" stroke="#B0396B" stroke-width="8.2"/>
<g fill="#B0396B"><ellipse cx="597.31" cy="1064" rx="5.3" ry="3.9"/><ellipse cx="597.31" cy="1339.6" rx="5.3" ry="3.9"/><ellipse cx="597.31" cy="1348.8" rx="5.3" ry="3.9"/><ellipse cx="597.31" cy="1096.7" rx="5.3" ry="3.9"/><ellipse cx="597.31" cy="1093.4" rx="5.3" ry="3.9"/><ellipse cx="597.31" cy="1089.77" rx="5.3" ry="3.9"/><ellipse cx="597.31" cy="1085.78" rx="5.3" ry="3.9"/><ellipse cx="597.31" cy="1081.38" rx="5.3" ry="3.9"/><ellipse cx="597.31" cy="1081" rx="5.3" ry="3.9"/><ellipse cx="597.31" cy="1138.6" rx="5.3" ry="3.9"/><ellipse cx="597.31" cy="1135.3" rx="5.3" ry="3.9"/><ellipse cx="597.31" cy="1131.67" rx="5.3" ry="3.9"/><ellipse cx="597.31" cy="1127.68" rx="5.3" ry="3.9"/><ellipse cx="597.31" cy="1123.28" rx="5.3" ry="3.9"/><ellipse cx="597.31" cy="1118.45" rx="5.3" ry="3.9"/><ellipse cx="597.31" cy="1113.14" rx="5.3" ry="3.9"/><ellipse cx="597.31" cy="1107.64" rx="5.3" ry="3.9"/><ellipse cx="597.31" cy="1102.14" rx="5.3" ry="3.9"/><ellipse cx="597.31" cy="1102" rx="5.3" ry="3.9"/></g>
<line x1="639.9" y1="1133.4" x2="639.9" y2="1209" stroke="#B0396B" stroke-width="4.2"/>
<line x1="639.9" y1="1257.8" x2="639.9" y2="1329.7" stroke="#B0396B" stroke-width="4.2"/>
<rect x="623.93" y="1209" width="31.94" height="48.8" fill="#fff" stroke="#B0396B" stroke-width="4.1" stroke-linejoin="round"/>
<line x1="623.93" y1="1234.2" x2="655.88" y2="1234.2" stroke="#B0396B" stroke-width="8.2"/>
<g fill="#B0396B"><ellipse cx="639.9" cy="1340.2" rx="5.3" ry="3.9"/><ellipse cx="639.9" cy="1068" rx="5.3" ry="3.9"/><ellipse cx="639.9" cy="1064.7" rx="5.3" ry="3.9"/><ellipse cx="639.9" cy="1061.07" rx="5.3" ry="3.9"/><ellipse cx="639.9" cy="1060.1" rx="5.3" ry="3.9"/><ellipse cx="639.9" cy="1133.4" rx="5.3" ry="3.9"/><ellipse cx="639.9" cy="1130.1" rx="5.3" ry="3.9"/><ellipse cx="639.9" cy="1126.47" rx="5.3" ry="3.9"/><ellipse cx="639.9" cy="1122.48" rx="5.3" ry="3.9"/><ellipse cx="639.9" cy="1118.08" rx="5.3" ry="3.9"/><ellipse cx="639.9" cy="1113.25" rx="5.3" ry="3.9"/><ellipse cx="639.9" cy="1107.94" rx="5.3" ry="3.9"/><ellipse cx="639.9" cy="1102.44" rx="5.3" ry="3.9"/><ellipse cx="639.9" cy="1096.94" rx="5.3" ry="3.9"/><ellipse cx="639.9" cy="1091.44" rx="5.3" ry="3.9"/><ellipse cx="639.9" cy="1085.94" rx="5.3" ry="3.9"/><ellipse cx="639.9" cy="1083.7" rx="5.3" ry="3.9"/></g>
<line x1="682.5" y1="1138.6" x2="682.5" y2="1214.2" stroke="#B0396B" stroke-width="4.2"/>
<line x1="682.5" y1="1262" x2="682.5" y2="1336.2" stroke="#B0396B" stroke-width="4.2"/>
<rect x="666.52" y="1214.2" width="31.94" height="47.8" fill="#fff" stroke="#B0396B" stroke-width="4.1" stroke-linejoin="round"/>
<line x1="666.52" y1="1240.7" x2="698.47" y2="1240.7" stroke="#B0396B" stroke-width="8.2"/>
<g fill="#B0396B"><ellipse cx="682.5" cy="1064.8" rx="5.3" ry="3.9"/><ellipse cx="682.5" cy="1092.8" rx="5.3" ry="3.9"/><ellipse cx="682.5" cy="1089.5" rx="5.3" ry="3.9"/><ellipse cx="682.5" cy="1085.87" rx="5.3" ry="3.9"/><ellipse cx="682.5" cy="1085" rx="5.3" ry="3.9"/><ellipse cx="682.5" cy="1116.4" rx="5.3" ry="3.9"/><ellipse cx="682.5" cy="1113.1" rx="5.3" ry="3.9"/><ellipse cx="682.5" cy="1109.47" rx="5.3" ry="3.9"/><ellipse cx="682.5" cy="1105.48" rx="5.3" ry="3.9"/><ellipse cx="682.5" cy="1101.08" rx="5.3" ry="3.9"/><ellipse cx="682.5" cy="1099.4" rx="5.3" ry="3.9"/><ellipse cx="682.5" cy="1138.6" rx="5.3" ry="3.9"/><ellipse cx="682.5" cy="1135.3" rx="5.3" ry="3.9"/><ellipse cx="682.5" cy="1131.67" rx="5.3" ry="3.9"/><ellipse cx="682.5" cy="1127.68" rx="5.3" ry="3.9"/><ellipse cx="682.5" cy="1123.28" rx="5.3" ry="3.9"/><ellipse cx="682.5" cy="1121.6" rx="5.3" ry="3.9"/><ellipse cx="682.5" cy="1343.6" rx="5.3" ry="3.9"/><ellipse cx="682.5" cy="1346.9" rx="5.3" ry="3.9"/><ellipse cx="682.5" cy="1350.53" rx="5.3" ry="3.9"/><ellipse cx="682.5" cy="1350.6" rx="5.3" ry="3.9"/></g>
<line x1="725.09" y1="1129.5" x2="725.09" y2="1205.1" stroke="#B0396B" stroke-width="4.2"/>
<line x1="725.09" y1="1252.8" x2="725.09" y2="1326.6" stroke="#B0396B" stroke-width="4.2"/>
<rect x="709.12" y="1205.1" width="31.94" height="47.7" fill="#fff" stroke="#B0396B" stroke-width="4.1" stroke-linejoin="round"/>
<line x1="709.12" y1="1232.3" x2="741.06" y2="1232.3" stroke="#B0396B" stroke-width="8.2"/>
<g fill="#B0396B"><ellipse cx="725.09" cy="1062.2" rx="5.3" ry="3.9"/><ellipse cx="725.09" cy="1129.5" rx="5.3" ry="3.9"/><ellipse cx="725.09" cy="1126.2" rx="5.3" ry="3.9"/><ellipse cx="725.09" cy="1122.57" rx="5.3" ry="3.9"/><ellipse cx="725.09" cy="1118.58" rx="5.3" ry="3.9"/><ellipse cx="725.09" cy="1114.18" rx="5.3" ry="3.9"/><ellipse cx="725.09" cy="1109.35" rx="5.3" ry="3.9"/><ellipse cx="725.09" cy="1104.04" rx="5.3" ry="3.9"/><ellipse cx="725.09" cy="1098.54" rx="5.3" ry="3.9"/><ellipse cx="725.09" cy="1093.04" rx="5.3" ry="3.9"/><ellipse cx="725.09" cy="1087.54" rx="5.3" ry="3.9"/><ellipse cx="725.09" cy="1083.7" rx="5.3" ry="3.9"/></g>
<line x1="767.68" y1="1132.1" x2="767.68" y2="1205.9" stroke="#B0396B" stroke-width="4.2"/>
<line x1="767.68" y1="1253.4" x2="767.68" y2="1316.1" stroke="#B0396B" stroke-width="4.2"/>
<rect x="751.71" y="1205.9" width="31.94" height="47.5" fill="#fff" stroke="#B0396B" stroke-width="4.1" stroke-linejoin="round"/>
<line x1="751.71" y1="1232.9" x2="783.65" y2="1232.9" stroke="#B0396B" stroke-width="8.2"/>
<g fill="#B0396B"><ellipse cx="767.68" cy="1331.8" rx="5.3" ry="3.9"/><ellipse cx="767.68" cy="1350.6" rx="5.3" ry="3.9"/><ellipse cx="767.68" cy="1070.6" rx="5.3" ry="3.9"/><ellipse cx="767.68" cy="1067.3" rx="5.3" ry="3.9"/><ellipse cx="767.68" cy="1065.3" rx="5.3" ry="3.9"/><ellipse cx="767.68" cy="1132.1" rx="5.3" ry="3.9"/><ellipse cx="767.68" cy="1128.8" rx="5.3" ry="3.9"/><ellipse cx="767.68" cy="1125.17" rx="5.3" ry="3.9"/><ellipse cx="767.68" cy="1121.18" rx="5.3" ry="3.9"/><ellipse cx="767.68" cy="1116.78" rx="5.3" ry="3.9"/><ellipse cx="767.68" cy="1111.95" rx="5.3" ry="3.9"/><ellipse cx="767.68" cy="1106.64" rx="5.3" ry="3.9"/><ellipse cx="767.68" cy="1101.14" rx="5.3" ry="3.9"/><ellipse cx="767.68" cy="1095.64" rx="5.3" ry="3.9"/><ellipse cx="767.68" cy="1090.14" rx="5.3" ry="3.9"/><ellipse cx="767.68" cy="1084.64" rx="5.3" ry="3.9"/><ellipse cx="767.68" cy="1083.7" rx="5.3" ry="3.9"/></g>
<line x1="810.28" y1="1125.5" x2="810.28" y2="1203.7" stroke="#B0396B" stroke-width="4.2"/>
<line x1="810.28" y1="1252.8" x2="810.28" y2="1324.5" stroke="#B0396B" stroke-width="4.2"/>
<rect x="794.3" y="1203.7" width="31.94" height="49.1" fill="#fff" stroke="#B0396B" stroke-width="4.1" stroke-linejoin="round"/>
<line x1="794.3" y1="1231.5" x2="826.25" y2="1231.5" stroke="#B0396B" stroke-width="8.2"/>
<g fill="#B0396B"><ellipse cx="810.28" cy="1062.2" rx="5.3" ry="3.9"/><ellipse cx="810.28" cy="1344.1" rx="5.3" ry="3.9"/><ellipse cx="810.28" cy="1125.5" rx="5.3" ry="3.9"/><ellipse cx="810.28" cy="1122.2" rx="5.3" ry="3.9"/><ellipse cx="810.28" cy="1118.57" rx="5.3" ry="3.9"/><ellipse cx="810.28" cy="1114.58" rx="5.3" ry="3.9"/><ellipse cx="810.28" cy="1110.18" rx="5.3" ry="3.9"/><ellipse cx="810.28" cy="1105.35" rx="5.3" ry="3.9"/><ellipse cx="810.28" cy="1100.04" rx="5.3" ry="3.9"/><ellipse cx="810.28" cy="1094.54" rx="5.3" ry="3.9"/><ellipse cx="810.28" cy="1089.04" rx="5.3" ry="3.9"/><ellipse cx="810.28" cy="1083.54" rx="5.3" ry="3.9"/><ellipse cx="810.28" cy="1082.3" rx="5.3" ry="3.9"/></g>
<line x1="852.87" y1="1143.9" x2="852.87" y2="1219.5" stroke="#B0396B" stroke-width="4.2"/>
<line x1="852.87" y1="1266.4" x2="852.87" y2="1337" stroke="#B0396B" stroke-width="4.2"/>
<rect x="836.9" y="1219.5" width="31.94" height="46.9" fill="#fff" stroke="#B0396B" stroke-width="4.1" stroke-linejoin="round"/>
<line x1="836.9" y1="1244.6" x2="868.84" y2="1244.6" stroke="#B0396B" stroke-width="8.2"/>
<g fill="#B0396B"><ellipse cx="852.87" cy="1062.7" rx="5.3" ry="3.9"/><ellipse cx="852.87" cy="1099.4" rx="5.3" ry="3.9"/><ellipse cx="852.87" cy="1096.1" rx="5.3" ry="3.9"/><ellipse cx="852.87" cy="1092.47" rx="5.3" ry="3.9"/><ellipse cx="852.87" cy="1088.48" rx="5.3" ry="3.9"/><ellipse cx="852.87" cy="1084.08" rx="5.3" ry="3.9"/><ellipse cx="852.87" cy="1083.1" rx="5.3" ry="3.9"/><ellipse cx="852.87" cy="1143.9" rx="5.3" ry="3.9"/><ellipse cx="852.87" cy="1140.6" rx="5.3" ry="3.9"/><ellipse cx="852.87" cy="1136.97" rx="5.3" ry="3.9"/><ellipse cx="852.87" cy="1132.98" rx="5.3" ry="3.9"/><ellipse cx="852.87" cy="1128.58" rx="5.3" ry="3.9"/><ellipse cx="852.87" cy="1123.75" rx="5.3" ry="3.9"/><ellipse cx="852.87" cy="1118.44" rx="5.3" ry="3.9"/><ellipse cx="852.87" cy="1112.94" rx="5.3" ry="3.9"/><ellipse cx="852.87" cy="1107.44" rx="5.3" ry="3.9"/><ellipse cx="852.87" cy="1105.9" rx="5.3" ry="3.9"/></g>
<line x1="895.46" y1="1138.6" x2="895.46" y2="1212.4" stroke="#B0396B" stroke-width="4.2"/>
<line x1="895.46" y1="1259.9" x2="895.46" y2="1323.2" stroke="#B0396B" stroke-width="4.2"/>
<rect x="879.49" y="1212.4" width="31.94" height="47.5" fill="#fff" stroke="#B0396B" stroke-width="4.1" stroke-linejoin="round"/>
<line x1="879.49" y1="1239.4" x2="911.43" y2="1239.4" stroke="#B0396B" stroke-width="8.2"/>
<g fill="#B0396B"><ellipse cx="895.46" cy="1067.4" rx="5.3" ry="3.9"/><ellipse cx="895.46" cy="1083.7" rx="5.3" ry="3.9"/><ellipse cx="895.46" cy="1093.6" rx="5.3" ry="3.9"/><ellipse cx="895.46" cy="1354.6" rx="5.3" ry="3.9"/><ellipse cx="895.46" cy="1138.6" rx="5.3" ry="3.9"/><ellipse cx="895.46" cy="1135.3" rx="5.3" ry="3.9"/><ellipse cx="895.46" cy="1131.67" rx="5.3" ry="3.9"/><ellipse cx="895.46" cy="1127.68" rx="5.3" ry="3.9"/><ellipse cx="895.46" cy="1123.28" rx="5.3" ry="3.9"/><ellipse cx="895.46" cy="1118.45" rx="5.3" ry="3.9"/><ellipse cx="895.46" cy="1113.14" rx="5.3" ry="3.9"/><ellipse cx="895.46" cy="1107.64" rx="5.3" ry="3.9"/><ellipse cx="895.46" cy="1102.14" rx="5.3" ry="3.9"/><ellipse cx="895.46" cy="1099.4" rx="5.3" ry="3.9"/></g>
<line x1="938.05" y1="1133.4" x2="938.05" y2="1209" stroke="#B0396B" stroke-width="4.2"/>
<line x1="938.05" y1="1256.8" x2="938.05" y2="1331" stroke="#B0396B" stroke-width="4.2"/>
<rect x="922.08" y="1209" width="31.94" height="47.8" fill="#fff" stroke="#B0396B" stroke-width="4.1" stroke-linejoin="round"/>
<line x1="922.08" y1="1235.5" x2="954.03" y2="1235.5" stroke="#B0396B" stroke-width="8.2"/>
<g fill="#B0396B"><ellipse cx="938.05" cy="1064" rx="5.3" ry="3.9"/><ellipse cx="938.05" cy="1342.3" rx="5.3" ry="3.9"/><ellipse cx="938.05" cy="1133.4" rx="5.3" ry="3.9"/><ellipse cx="938.05" cy="1130.1" rx="5.3" ry="3.9"/><ellipse cx="938.05" cy="1126.47" rx="5.3" ry="3.9"/><ellipse cx="938.05" cy="1122.48" rx="5.3" ry="3.9"/><ellipse cx="938.05" cy="1118.08" rx="5.3" ry="3.9"/><ellipse cx="938.05" cy="1113.25" rx="5.3" ry="3.9"/><ellipse cx="938.05" cy="1107.94" rx="5.3" ry="3.9"/><ellipse cx="938.05" cy="1102.44" rx="5.3" ry="3.9"/><ellipse cx="938.05" cy="1096.94" rx="5.3" ry="3.9"/><ellipse cx="938.05" cy="1091.44" rx="5.3" ry="3.9"/><ellipse cx="938.05" cy="1086.3" rx="5.3" ry="3.9"/></g>
<line x1="980.65" y1="1142.6" x2="980.65" y2="1216.8" stroke="#B0396B" stroke-width="4.2"/>
<line x1="980.65" y1="1264.6" x2="980.65" y2="1338.9" stroke="#B0396B" stroke-width="4.2"/>
<rect x="964.67" y="1216.8" width="31.94" height="47.8" fill="#fff" stroke="#B0396B" stroke-width="4.1" stroke-linejoin="round"/>
<line x1="964.67" y1="1243.3" x2="996.62" y2="1243.3" stroke="#B0396B" stroke-width="8.2"/>
<g fill="#B0396B"><ellipse cx="980.65" cy="1067.4" rx="5.3" ry="3.9"/><ellipse cx="980.65" cy="1350.6" rx="5.3" ry="3.9"/><ellipse cx="980.65" cy="1142.6" rx="5.3" ry="3.9"/><ellipse cx="980.65" cy="1139.3" rx="5.3" ry="3.9"/><ellipse cx="980.65" cy="1135.67" rx="5.3" ry="3.9"/><ellipse cx="980.65" cy="1131.68" rx="5.3" ry="3.9"/><ellipse cx="980.65" cy="1127.28" rx="5.3" ry="3.9"/><ellipse cx="980.65" cy="1122.45" rx="5.3" ry="3.9"/><ellipse cx="980.65" cy="1117.14" rx="5.3" ry="3.9"/><ellipse cx="980.65" cy="1111.64" rx="5.3" ry="3.9"/><ellipse cx="980.65" cy="1106.14" rx="5.3" ry="3.9"/><ellipse cx="980.65" cy="1100.64" rx="5.3" ry="3.9"/><ellipse cx="980.65" cy="1095.14" rx="5.3" ry="3.9"/><ellipse cx="980.65" cy="1089.64" rx="5.3" ry="3.9"/><ellipse cx="980.65" cy="1085" rx="5.3" ry="3.9"/></g>
<line x1="1023.24" y1="1130.8" x2="1023.24" y2="1207.1" stroke="#3F6A97" stroke-width="4.2"/>
<line x1="1023.24" y1="1255.9" x2="1023.24" y2="1323.9" stroke="#3F6A97" stroke-width="4.2"/>
<rect x="1007.27" y="1207.1" width="31.94" height="48.8" fill="#fff" stroke="#3F6A97" stroke-width="4.1" stroke-linejoin="round"/>
<line x1="1007.27" y1="1234.7" x2="1039.21" y2="1234.7" stroke="#3F6A97" stroke-width="8.2"/>
<g fill="#3F6A97"><ellipse cx="1023.24" cy="1060.1" rx="5.3" ry="3.9"/><ellipse cx="1023.24" cy="1336.2" rx="5.3" ry="3.9"/><ellipse cx="1023.24" cy="1130.8" rx="5.3" ry="3.9"/><ellipse cx="1023.24" cy="1127.5" rx="5.3" ry="3.9"/><ellipse cx="1023.24" cy="1123.87" rx="5.3" ry="3.9"/><ellipse cx="1023.24" cy="1119.88" rx="5.3" ry="3.9"/><ellipse cx="1023.24" cy="1115.48" rx="5.3" ry="3.9"/><ellipse cx="1023.24" cy="1110.65" rx="5.3" ry="3.9"/><ellipse cx="1023.24" cy="1105.34" rx="5.3" ry="3.9"/><ellipse cx="1023.24" cy="1099.84" rx="5.3" ry="3.9"/><ellipse cx="1023.24" cy="1094.34" rx="5.3" ry="3.9"/><ellipse cx="1023.24" cy="1088.84" rx="5.3" ry="3.9"/><ellipse cx="1023.24" cy="1083.34" rx="5.3" ry="3.9"/><ellipse cx="1023.24" cy="1079.7" rx="5.3" ry="3.9"/></g>
<line x1="1065.83" y1="1139.9" x2="1065.83" y2="1213.7" stroke="#3F6A97" stroke-width="4.2"/>
<line x1="1065.83" y1="1260.7" x2="1065.83" y2="1322.6" stroke="#3F6A97" stroke-width="4.2"/>
<rect x="1049.86" y="1213.7" width="31.94" height="47" fill="#fff" stroke="#3F6A97" stroke-width="4.1" stroke-linejoin="round"/>
<line x1="1049.86" y1="1239.4" x2="1081.81" y2="1239.4" stroke="#3F6A97" stroke-width="8.2"/>
<g fill="#3F6A97"><ellipse cx="1065.83" cy="1062.7" rx="5.3" ry="3.9"/><ellipse cx="1065.83" cy="1344.1" rx="5.3" ry="3.9"/><ellipse cx="1065.83" cy="1139.9" rx="5.3" ry="3.9"/><ellipse cx="1065.83" cy="1136.6" rx="5.3" ry="3.9"/><ellipse cx="1065.83" cy="1132.97" rx="5.3" ry="3.9"/><ellipse cx="1065.83" cy="1128.98" rx="5.3" ry="3.9"/><ellipse cx="1065.83" cy="1124.58" rx="5.3" ry="3.9"/><ellipse cx="1065.83" cy="1119.75" rx="5.3" ry="3.9"/><ellipse cx="1065.83" cy="1114.44" rx="5.3" ry="3.9"/><ellipse cx="1065.83" cy="1108.94" rx="5.3" ry="3.9"/><ellipse cx="1065.83" cy="1103.44" rx="5.3" ry="3.9"/><ellipse cx="1065.83" cy="1097.94" rx="5.3" ry="3.9"/><ellipse cx="1065.83" cy="1092.44" rx="5.3" ry="3.9"/><ellipse cx="1065.83" cy="1086.94" rx="5.3" ry="3.9"/><ellipse cx="1065.83" cy="1082.3" rx="5.3" ry="3.9"/></g>
<line x1="1108.43" y1="1132.1" x2="1108.43" y2="1211" stroke="#3F6A97" stroke-width="4.2"/>
<line x1="1108.43" y1="1260.7" x2="1108.43" y2="1338.9" stroke="#3F6A97" stroke-width="4.2"/>
<rect x="1092.45" y="1211" width="31.94" height="49.7" fill="#fff" stroke="#3F6A97" stroke-width="4.1" stroke-linejoin="round"/>
<line x1="1092.45" y1="1238.6" x2="1124.4" y2="1238.6" stroke="#3F6A97" stroke-width="8.2"/>
<g fill="#3F6A97"><ellipse cx="1108.43" cy="1064.8" rx="5.3" ry="3.9"/><ellipse cx="1108.43" cy="1132.1" rx="5.3" ry="3.9"/><ellipse cx="1108.43" cy="1128.8" rx="5.3" ry="3.9"/><ellipse cx="1108.43" cy="1125.17" rx="5.3" ry="3.9"/><ellipse cx="1108.43" cy="1121.18" rx="5.3" ry="3.9"/><ellipse cx="1108.43" cy="1116.78" rx="5.3" ry="3.9"/><ellipse cx="1108.43" cy="1111.95" rx="5.3" ry="3.9"/><ellipse cx="1108.43" cy="1106.64" rx="5.3" ry="3.9"/><ellipse cx="1108.43" cy="1101.14" rx="5.3" ry="3.9"/><ellipse cx="1108.43" cy="1095.64" rx="5.3" ry="3.9"/><ellipse cx="1108.43" cy="1090.14" rx="5.3" ry="3.9"/><ellipse cx="1108.43" cy="1085" rx="5.3" ry="3.9"/></g>
<line x1="1151.02" y1="1128.2" x2="1151.02" y2="1205.1" stroke="#3F6A97" stroke-width="4.2"/>
<line x1="1151.02" y1="1252.8" x2="1151.02" y2="1321.8" stroke="#3F6A97" stroke-width="4.2"/>
<rect x="1135.05" y="1205.1" width="31.94" height="47.7" fill="#fff" stroke="#3F6A97" stroke-width="4.1" stroke-linejoin="round"/>
<line x1="1135.05" y1="1231" x2="1166.99" y2="1231" stroke="#3F6A97" stroke-width="8.2"/>
<g fill="#3F6A97"><ellipse cx="1151.02" cy="1060.1" rx="5.3" ry="3.9"/><ellipse cx="1151.02" cy="1128.2" rx="5.3" ry="3.9"/><ellipse cx="1151.02" cy="1124.9" rx="5.3" ry="3.9"/><ellipse cx="1151.02" cy="1121.27" rx="5.3" ry="3.9"/><ellipse cx="1151.02" cy="1117.28" rx="5.3" ry="3.9"/><ellipse cx="1151.02" cy="1112.88" rx="5.3" ry="3.9"/><ellipse cx="1151.02" cy="1108.05" rx="5.3" ry="3.9"/><ellipse cx="1151.02" cy="1102.74" rx="5.3" ry="3.9"/><ellipse cx="1151.02" cy="1097.24" rx="5.3" ry="3.9"/><ellipse cx="1151.02" cy="1091.74" rx="5.3" ry="3.9"/><ellipse cx="1151.02" cy="1086.24" rx="5.3" ry="3.9"/><ellipse cx="1151.02" cy="1080.74" rx="5.3" ry="3.9"/><ellipse cx="1151.02" cy="1079.7" rx="5.3" ry="3.9"/><ellipse cx="1151.02" cy="1329.5" rx="5.3" ry="3.9"/><ellipse cx="1151.02" cy="1332.5" rx="5.3" ry="3.9"/></g>
<line x1="1193.61" y1="1134.7" x2="1193.61" y2="1214.5" stroke="#3F6A97" stroke-width="4.2"/>
<line x1="1193.61" y1="1263.8" x2="1193.61" y2="1336.2" stroke="#3F6A97" stroke-width="4.2"/>
<rect x="1177.64" y="1214.5" width="31.94" height="49.3" fill="#fff" stroke="#3F6A97" stroke-width="4.1" stroke-linejoin="round"/>
<line x1="1177.64" y1="1241.5" x2="1209.58" y2="1241.5" stroke="#3F6A97" stroke-width="8.2"/>
<g fill="#3F6A97"><ellipse cx="1193.61" cy="1064" rx="5.3" ry="3.9"/><ellipse cx="1193.61" cy="1134.7" rx="5.3" ry="3.9"/><ellipse cx="1193.61" cy="1131.4" rx="5.3" ry="3.9"/><ellipse cx="1193.61" cy="1127.77" rx="5.3" ry="3.9"/><ellipse cx="1193.61" cy="1123.78" rx="5.3" ry="3.9"/><ellipse cx="1193.61" cy="1119.38" rx="5.3" ry="3.9"/><ellipse cx="1193.61" cy="1114.55" rx="5.3" ry="3.9"/><ellipse cx="1193.61" cy="1109.24" rx="5.3" ry="3.9"/><ellipse cx="1193.61" cy="1103.74" rx="5.3" ry="3.9"/><ellipse cx="1193.61" cy="1098.24" rx="5.3" ry="3.9"/><ellipse cx="1193.61" cy="1092.74" rx="5.3" ry="3.9"/><ellipse cx="1193.61" cy="1087.24" rx="5.3" ry="3.9"/><ellipse cx="1193.61" cy="1083.7" rx="5.3" ry="3.9"/></g>
<line x1="1236.2" y1="1150.4" x2="1236.2" y2="1226.8" stroke="#46913F" stroke-width="4.2"/>
<line x1="1236.2" y1="1275.1" x2="1236.2" y2="1350.6" stroke="#46913F" stroke-width="4.2"/>
<rect x="1220.23" y="1226.8" width="31.94" height="48.3" fill="#fff" stroke="#46913F" stroke-width="4.1" stroke-linejoin="round"/>
<line x1="1220.23" y1="1252.5" x2="1252.18" y2="1252.5" stroke="#46913F" stroke-width="8.2"/>
<g fill="#46913F"><ellipse cx="1236.2" cy="1063.5" rx="5.3" ry="3.9"/><ellipse cx="1236.2" cy="1097.5" rx="5.3" ry="3.9"/><ellipse cx="1236.2" cy="1352.5" rx="5.3" ry="3.9"/><ellipse cx="1236.2" cy="1087.6" rx="5.3" ry="3.9"/><ellipse cx="1236.2" cy="1084.3" rx="5.3" ry="3.9"/><ellipse cx="1236.2" cy="1080.67" rx="5.3" ry="3.9"/><ellipse cx="1236.2" cy="1079.7" rx="5.3" ry="3.9"/><ellipse cx="1236.2" cy="1150.4" rx="5.3" ry="3.9"/><ellipse cx="1236.2" cy="1147.1" rx="5.3" ry="3.9"/><ellipse cx="1236.2" cy="1143.47" rx="5.3" ry="3.9"/><ellipse cx="1236.2" cy="1139.48" rx="5.3" ry="3.9"/><ellipse cx="1236.2" cy="1135.08" rx="5.3" ry="3.9"/><ellipse cx="1236.2" cy="1130.25" rx="5.3" ry="3.9"/><ellipse cx="1236.2" cy="1124.94" rx="5.3" ry="3.9"/><ellipse cx="1236.2" cy="1119.44" rx="5.3" ry="3.9"/><ellipse cx="1236.2" cy="1113.94" rx="5.3" ry="3.9"/><ellipse cx="1236.2" cy="1108.44" rx="5.3" ry="3.9"/><ellipse cx="1236.2" cy="1103.3" rx="5.3" ry="3.9"/></g>
<line x1="1278.8" y1="1150.4" x2="1278.8" y2="1226" stroke="#46913F" stroke-width="4.2"/>
<line x1="1278.8" y1="1274.3" x2="1278.8" y2="1348" stroke="#46913F" stroke-width="4.2"/>
<rect x="1262.83" y="1226" width="31.94" height="48.3" fill="#fff" stroke="#46913F" stroke-width="4.1" stroke-linejoin="round"/>
<line x1="1262.83" y1="1252.5" x2="1294.77" y2="1252.5" stroke="#46913F" stroke-width="8.2"/>
<g fill="#46913F"><ellipse cx="1278.8" cy="1065.9" rx="5.3" ry="3.9"/><ellipse cx="1278.8" cy="1095.4" rx="5.3" ry="3.9"/><ellipse cx="1278.8" cy="1092.1" rx="5.3" ry="3.9"/><ellipse cx="1278.8" cy="1088.47" rx="5.3" ry="3.9"/><ellipse cx="1278.8" cy="1085" rx="5.3" ry="3.9"/><ellipse cx="1278.8" cy="1150.4" rx="5.3" ry="3.9"/><ellipse cx="1278.8" cy="1147.1" rx="5.3" ry="3.9"/><ellipse cx="1278.8" cy="1143.47" rx="5.3" ry="3.9"/><ellipse cx="1278.8" cy="1139.48" rx="5.3" ry="3.9"/><ellipse cx="1278.8" cy="1135.08" rx="5.3" ry="3.9"/><ellipse cx="1278.8" cy="1130.25" rx="5.3" ry="3.9"/><ellipse cx="1278.8" cy="1124.94" rx="5.3" ry="3.9"/><ellipse cx="1278.8" cy="1119.44" rx="5.3" ry="3.9"/><ellipse cx="1278.8" cy="1113.94" rx="5.3" ry="3.9"/><ellipse cx="1278.8" cy="1111.1" rx="5.3" ry="3.9"/></g>
<line x1="1321.39" y1="1150.4" x2="1321.39" y2="1223.6" stroke="#46913F" stroke-width="4.2"/>
<line x1="1321.39" y1="1269.8" x2="1321.39" y2="1343.6" stroke="#46913F" stroke-width="4.2"/>
<rect x="1305.42" y="1223.6" width="31.94" height="46.2" fill="#fff" stroke="#46913F" stroke-width="4.1" stroke-linejoin="round"/>
<line x1="1305.42" y1="1248.6" x2="1337.36" y2="1248.6" stroke="#46913F" stroke-width="8.2"/>
<g fill="#46913F"><ellipse cx="1321.39" cy="1061.9" rx="5.3" ry="3.9"/><ellipse cx="1321.39" cy="1099.4" rx="5.3" ry="3.9"/><ellipse cx="1321.39" cy="1096.1" rx="5.3" ry="3.9"/><ellipse cx="1321.39" cy="1092.47" rx="5.3" ry="3.9"/><ellipse cx="1321.39" cy="1088.48" rx="5.3" ry="3.9"/><ellipse cx="1321.39" cy="1085" rx="5.3" ry="3.9"/><ellipse cx="1321.39" cy="1150.4" rx="5.3" ry="3.9"/><ellipse cx="1321.39" cy="1147.1" rx="5.3" ry="3.9"/><ellipse cx="1321.39" cy="1143.47" rx="5.3" ry="3.9"/><ellipse cx="1321.39" cy="1139.48" rx="5.3" ry="3.9"/><ellipse cx="1321.39" cy="1135.08" rx="5.3" ry="3.9"/><ellipse cx="1321.39" cy="1130.25" rx="5.3" ry="3.9"/><ellipse cx="1321.39" cy="1124.94" rx="5.3" ry="3.9"/><ellipse cx="1321.39" cy="1119.44" rx="5.3" ry="3.9"/><ellipse cx="1321.39" cy="1113.94" rx="5.3" ry="3.9"/><ellipse cx="1321.39" cy="1108.44" rx="5.3" ry="3.9"/><ellipse cx="1321.39" cy="1107.2" rx="5.3" ry="3.9"/><ellipse cx="1321.39" cy="1349.3" rx="5.3" ry="3.9"/><ellipse cx="1321.39" cy="1352.6" rx="5.3" ry="3.9"/><ellipse cx="1321.39" cy="1355.9" rx="5.3" ry="3.9"/></g>
<line x1="1363.98" y1="1149.1" x2="1363.98" y2="1227.3" stroke="#46913F" stroke-width="4.2"/>
<line x1="1363.98" y1="1276.9" x2="1363.98" y2="1350.6" stroke="#46913F" stroke-width="4.2"/>
<rect x="1348.01" y="1227.3" width="31.94" height="49.6" fill="#fff" stroke="#46913F" stroke-width="4.1" stroke-linejoin="round"/>
<line x1="1348.01" y1="1254.6" x2="1379.96" y2="1254.6" stroke="#46913F" stroke-width="8.2"/>
<g fill="#46913F"><ellipse cx="1363.98" cy="1065.3" rx="5.3" ry="3.9"/><ellipse cx="1363.98" cy="1092.8" rx="5.3" ry="3.9"/><ellipse cx="1363.98" cy="1089.5" rx="5.3" ry="3.9"/><ellipse cx="1363.98" cy="1085.87" rx="5.3" ry="3.9"/><ellipse cx="1363.98" cy="1085" rx="5.3" ry="3.9"/><ellipse cx="1363.98" cy="1149.1" rx="5.3" ry="3.9"/><ellipse cx="1363.98" cy="1145.8" rx="5.3" ry="3.9"/><ellipse cx="1363.98" cy="1142.17" rx="5.3" ry="3.9"/><ellipse cx="1363.98" cy="1138.18" rx="5.3" ry="3.9"/><ellipse cx="1363.98" cy="1133.78" rx="5.3" ry="3.9"/><ellipse cx="1363.98" cy="1128.95" rx="5.3" ry="3.9"/><ellipse cx="1363.98" cy="1123.64" rx="5.3" ry="3.9"/><ellipse cx="1363.98" cy="1118.14" rx="5.3" ry="3.9"/><ellipse cx="1363.98" cy="1112.64" rx="5.3" ry="3.9"/><ellipse cx="1363.98" cy="1107.14" rx="5.3" ry="3.9"/><ellipse cx="1363.98" cy="1101.64" rx="5.3" ry="3.9"/><ellipse cx="1363.98" cy="1100.7" rx="5.3" ry="3.9"/></g>
<line x1="1406.58" y1="1150.4" x2="1406.58" y2="1223.6" stroke="#46913F" stroke-width="4.2"/>
<line x1="1406.58" y1="1269.8" x2="1406.58" y2="1334.9" stroke="#46913F" stroke-width="4.2"/>
<rect x="1390.6" y="1223.6" width="31.94" height="46.2" fill="#fff" stroke="#46913F" stroke-width="4.1" stroke-linejoin="round"/>
<line x1="1390.6" y1="1248.6" x2="1422.55" y2="1248.6" stroke="#46913F" stroke-width="8.2"/>
<g fill="#46913F"><ellipse cx="1406.58" cy="1069.3" rx="5.3" ry="3.9"/><ellipse cx="1406.58" cy="1083.1" rx="5.3" ry="3.9"/><ellipse cx="1406.58" cy="1150.4" rx="5.3" ry="3.9"/><ellipse cx="1406.58" cy="1147.1" rx="5.3" ry="3.9"/><ellipse cx="1406.58" cy="1143.47" rx="5.3" ry="3.9"/><ellipse cx="1406.58" cy="1139.48" rx="5.3" ry="3.9"/><ellipse cx="1406.58" cy="1135.08" rx="5.3" ry="3.9"/><ellipse cx="1406.58" cy="1130.25" rx="5.3" ry="3.9"/><ellipse cx="1406.58" cy="1124.94" rx="5.3" ry="3.9"/><ellipse cx="1406.58" cy="1119.44" rx="5.3" ry="3.9"/><ellipse cx="1406.58" cy="1113.94" rx="5.3" ry="3.9"/><ellipse cx="1406.58" cy="1108.44" rx="5.3" ry="3.9"/><ellipse cx="1406.58" cy="1102.94" rx="5.3" ry="3.9"/><ellipse cx="1406.58" cy="1097.44" rx="5.3" ry="3.9"/><ellipse cx="1406.58" cy="1091.94" rx="5.3" ry="3.9"/><ellipse cx="1406.58" cy="1091.5" rx="5.3" ry="3.9"/></g>
<line x1="1449.17" y1="1150.4" x2="1449.17" y2="1231.3" stroke="#46913F" stroke-width="4.2"/>
<line x1="1449.17" y1="1280.3" x2="1449.17" y2="1349.3" stroke="#46913F" stroke-width="4.2"/>
<rect x="1433.2" y="1231.3" width="31.94" height="49" fill="#fff" stroke="#46913F" stroke-width="4.1" stroke-linejoin="round"/>
<line x1="1433.2" y1="1257.2" x2="1465.14" y2="1257.2" stroke="#46913F" stroke-width="8.2"/>
<g fill="#46913F"><ellipse cx="1449.17" cy="1068" rx="5.3" ry="3.9"/><ellipse cx="1449.17" cy="1103.3" rx="5.3" ry="3.9"/><ellipse cx="1449.17" cy="1125.5" rx="5.3" ry="3.9"/><ellipse cx="1449.17" cy="1092.8" rx="5.3" ry="3.9"/><ellipse cx="1449.17" cy="1089.5" rx="5.3" ry="3.9"/><ellipse cx="1449.17" cy="1087.1" rx="5.3" ry="3.9"/><ellipse cx="1449.17" cy="1150.4" rx="5.3" ry="3.9"/><ellipse cx="1449.17" cy="1147.1" rx="5.3" ry="3.9"/><ellipse cx="1449.17" cy="1143.47" rx="5.3" ry="3.9"/><ellipse cx="1449.17" cy="1139.48" rx="5.3" ry="3.9"/><ellipse cx="1449.17" cy="1135.08" rx="5.3" ry="3.9"/><ellipse cx="1449.17" cy="1130.8" rx="5.3" ry="3.9"/></g>
<line x1="1491.76" y1="1142.6" x2="1491.76" y2="1216.3" stroke="#FDD62A" stroke-width="4.2"/>
<line x1="1491.76" y1="1264.6" x2="1491.76" y2="1331" stroke="#FDD62A" stroke-width="4.2"/>
<rect x="1475.79" y="1216.3" width="31.94" height="48.3" fill="#fff" stroke="#FDD62A" stroke-width="4.1" stroke-linejoin="round"/>
<line x1="1475.79" y1="1242.8" x2="1507.74" y2="1242.8" stroke="#FDD62A" stroke-width="8.2"/>
<g fill="#FDD62A"><ellipse cx="1491.76" cy="1064.8" rx="5.3" ry="3.9"/><ellipse cx="1491.76" cy="1100.7" rx="5.3" ry="3.9"/><ellipse cx="1491.76" cy="1097.4" rx="5.3" ry="3.9"/><ellipse cx="1491.76" cy="1093.77" rx="5.3" ry="3.9"/><ellipse cx="1491.76" cy="1089.78" rx="5.3" ry="3.9"/><ellipse cx="1491.76" cy="1085.38" rx="5.3" ry="3.9"/><ellipse cx="1491.76" cy="1085" rx="5.3" ry="3.9"/><ellipse cx="1491.76" cy="1142.6" rx="5.3" ry="3.9"/><ellipse cx="1491.76" cy="1139.3" rx="5.3" ry="3.9"/><ellipse cx="1491.76" cy="1135.67" rx="5.3" ry="3.9"/><ellipse cx="1491.76" cy="1131.68" rx="5.3" ry="3.9"/><ellipse cx="1491.76" cy="1127.28" rx="5.3" ry="3.9"/><ellipse cx="1491.76" cy="1122.45" rx="5.3" ry="3.9"/><ellipse cx="1491.76" cy="1117.14" rx="5.3" ry="3.9"/><ellipse cx="1491.76" cy="1111.64" rx="5.3" ry="3.9"/><ellipse cx="1491.76" cy="1107.2" rx="5.3" ry="3.9"/></g>
<line x1="1534.36" y1="1126.8" x2="1534.36" y2="1203.2" stroke="#FDD62A" stroke-width="4.2"/>
<line x1="1534.36" y1="1251.2" x2="1534.36" y2="1317.9" stroke="#FDD62A" stroke-width="4.2"/>
<rect x="1518.38" y="1203.2" width="31.94" height="48" fill="#fff" stroke="#FDD62A" stroke-width="4.1" stroke-linejoin="round"/>
<line x1="1518.38" y1="1229.7" x2="1550.33" y2="1229.7" stroke="#FDD62A" stroke-width="8.2"/>
<g fill="#FDD62A"><ellipse cx="1534.36" cy="1061.4" rx="5.3" ry="3.9"/><ellipse cx="1534.36" cy="1098.1" rx="5.3" ry="3.9"/><ellipse cx="1534.36" cy="1094.8" rx="5.3" ry="3.9"/><ellipse cx="1534.36" cy="1091.17" rx="5.3" ry="3.9"/><ellipse cx="1534.36" cy="1087.18" rx="5.3" ry="3.9"/><ellipse cx="1534.36" cy="1082.78" rx="5.3" ry="3.9"/><ellipse cx="1534.36" cy="1079.7" rx="5.3" ry="3.9"/><ellipse cx="1534.36" cy="1126.8" rx="5.3" ry="3.9"/><ellipse cx="1534.36" cy="1123.5" rx="5.3" ry="3.9"/><ellipse cx="1534.36" cy="1119.87" rx="5.3" ry="3.9"/><ellipse cx="1534.36" cy="1115.88" rx="5.3" ry="3.9"/><ellipse cx="1534.36" cy="1111.48" rx="5.3" ry="3.9"/><ellipse cx="1534.36" cy="1106.65" rx="5.3" ry="3.9"/><ellipse cx="1534.36" cy="1104.6" rx="5.3" ry="3.9"/><ellipse cx="1534.36" cy="1328.4" rx="5.3" ry="3.9"/><ellipse cx="1534.36" cy="1331.7" rx="5.3" ry="3.9"/><ellipse cx="1534.36" cy="1335.33" rx="5.3" ry="3.9"/><ellipse cx="1534.36" cy="1337.6" rx="5.3" ry="3.9"/></g>
<line x1="1576.95" y1="1150.4" x2="1576.95" y2="1225" stroke="#FDD62A" stroke-width="4.2"/>
<line x1="1576.95" y1="1272.4" x2="1576.95" y2="1344.1" stroke="#FDD62A" stroke-width="4.2"/>
<rect x="1560.98" y="1225" width="31.94" height="47.4" fill="#fff" stroke="#FDD62A" stroke-width="4.1" stroke-linejoin="round"/>
<line x1="1560.98" y1="1250.7" x2="1592.92" y2="1250.7" stroke="#FDD62A" stroke-width="8.2"/>
<g fill="#FDD62A"><ellipse cx="1576.95" cy="1063.2" rx="5.3" ry="3.9"/><ellipse cx="1576.95" cy="1083.7" rx="5.3" ry="3.9"/><ellipse cx="1576.95" cy="1098.1" rx="5.3" ry="3.9"/><ellipse cx="1576.95" cy="1094.8" rx="5.3" ry="3.9"/><ellipse cx="1576.95" cy="1092.8" rx="5.3" ry="3.9"/><ellipse cx="1576.95" cy="1150.4" rx="5.3" ry="3.9"/><ellipse cx="1576.95" cy="1147.1" rx="5.3" ry="3.9"/><ellipse cx="1576.95" cy="1143.47" rx="5.3" ry="3.9"/><ellipse cx="1576.95" cy="1139.48" rx="5.3" ry="3.9"/><ellipse cx="1576.95" cy="1135.08" rx="5.3" ry="3.9"/><ellipse cx="1576.95" cy="1130.25" rx="5.3" ry="3.9"/><ellipse cx="1576.95" cy="1124.94" rx="5.3" ry="3.9"/><ellipse cx="1576.95" cy="1119.44" rx="5.3" ry="3.9"/><ellipse cx="1576.95" cy="1113.94" rx="5.3" ry="3.9"/><ellipse cx="1576.95" cy="1113.8" rx="5.3" ry="3.9"/><ellipse cx="1576.95" cy="1347.5" rx="5.3" ry="3.9"/><ellipse cx="1576.95" cy="1350" rx="5.3" ry="3.9"/></g>
<line x1="1619.54" y1="1145.2" x2="1619.54" y2="1220.8" stroke="#FDD62A" stroke-width="4.2"/>
<line x1="1619.54" y1="1267.7" x2="1619.54" y2="1338.9" stroke="#FDD62A" stroke-width="4.2"/>
<rect x="1603.57" y="1220.8" width="31.94" height="46.9" fill="#fff" stroke="#FDD62A" stroke-width="4.1" stroke-linejoin="round"/>
<line x1="1603.57" y1="1246.7" x2="1635.51" y2="1246.7" stroke="#FDD62A" stroke-width="8.2"/>
<g fill="#FDD62A"><ellipse cx="1619.54" cy="1061.9" rx="5.3" ry="3.9"/><ellipse cx="1619.54" cy="1100.7" rx="5.3" ry="3.9"/><ellipse cx="1619.54" cy="1097.4" rx="5.3" ry="3.9"/><ellipse cx="1619.54" cy="1093.77" rx="5.3" ry="3.9"/><ellipse cx="1619.54" cy="1089.78" rx="5.3" ry="3.9"/><ellipse cx="1619.54" cy="1085.38" rx="5.3" ry="3.9"/><ellipse cx="1619.54" cy="1083.7" rx="5.3" ry="3.9"/><ellipse cx="1619.54" cy="1145.2" rx="5.3" ry="3.9"/><ellipse cx="1619.54" cy="1141.9" rx="5.3" ry="3.9"/><ellipse cx="1619.54" cy="1138.27" rx="5.3" ry="3.9"/><ellipse cx="1619.54" cy="1134.28" rx="5.3" ry="3.9"/><ellipse cx="1619.54" cy="1129.88" rx="5.3" ry="3.9"/><ellipse cx="1619.54" cy="1125.05" rx="5.3" ry="3.9"/><ellipse cx="1619.54" cy="1119.74" rx="5.3" ry="3.9"/><ellipse cx="1619.54" cy="1114.24" rx="5.3" ry="3.9"/><ellipse cx="1619.54" cy="1111.1" rx="5.3" ry="3.9"/><ellipse cx="1619.54" cy="1349.9" rx="5.3" ry="3.9"/><ellipse cx="1619.54" cy="1353.2" rx="5.3" ry="3.9"/><ellipse cx="1619.54" cy="1355.9" rx="5.3" ry="3.9"/></g>
<line x1="1662.14" y1="1125.5" x2="1662.14" y2="1205.3" stroke="#86471F" stroke-width="4.2"/>
<line x1="1662.14" y1="1254.6" x2="1662.14" y2="1325.2" stroke="#86471F" stroke-width="4.2"/>
<rect x="1646.16" y="1205.3" width="31.94" height="49.3" fill="#fff" stroke="#86471F" stroke-width="4.1" stroke-linejoin="round"/>
<line x1="1646.16" y1="1232.9" x2="1678.11" y2="1232.9" stroke="#86471F" stroke-width="8.2"/>
<g fill="#86471F"><ellipse cx="1662.14" cy="1065.3" rx="5.3" ry="3.9"/><ellipse cx="1662.14" cy="1086.3" rx="5.3" ry="3.9"/><ellipse cx="1662.14" cy="1344.9" rx="5.3" ry="3.9"/><ellipse cx="1662.14" cy="1125.5" rx="5.3" ry="3.9"/><ellipse cx="1662.14" cy="1122.2" rx="5.3" ry="3.9"/><ellipse cx="1662.14" cy="1118.57" rx="5.3" ry="3.9"/><ellipse cx="1662.14" cy="1114.58" rx="5.3" ry="3.9"/><ellipse cx="1662.14" cy="1110.18" rx="5.3" ry="3.9"/><ellipse cx="1662.14" cy="1105.35" rx="5.3" ry="3.9"/><ellipse cx="1662.14" cy="1100.04" rx="5.3" ry="3.9"/><ellipse cx="1662.14" cy="1094.54" rx="5.3" ry="3.9"/><ellipse cx="1662.14" cy="1094.1" rx="5.3" ry="3.9"/></g>
<line x1="1704.73" y1="1134.7" x2="1704.73" y2="1211.6" stroke="#86471F" stroke-width="4.2"/>
<line x1="1704.73" y1="1258.5" x2="1704.73" y2="1333.1" stroke="#86471F" stroke-width="4.2"/>
<rect x="1688.76" y="1211.6" width="31.94" height="46.9" fill="#fff" stroke="#86471F" stroke-width="4.1" stroke-linejoin="round"/>
<line x1="1688.76" y1="1236.8" x2="1720.7" y2="1236.8" stroke="#86471F" stroke-width="8.2"/>
<g fill="#86471F"><ellipse cx="1704.73" cy="1063.2" rx="5.3" ry="3.9"/><ellipse cx="1704.73" cy="1134.7" rx="5.3" ry="3.9"/><ellipse cx="1704.73" cy="1131.4" rx="5.3" ry="3.9"/><ellipse cx="1704.73" cy="1127.77" rx="5.3" ry="3.9"/><ellipse cx="1704.73" cy="1123.78" rx="5.3" ry="3.9"/><ellipse cx="1704.73" cy="1119.38" rx="5.3" ry="3.9"/><ellipse cx="1704.73" cy="1114.55" rx="5.3" ry="3.9"/><ellipse cx="1704.73" cy="1109.24" rx="5.3" ry="3.9"/><ellipse cx="1704.73" cy="1103.74" rx="5.3" ry="3.9"/><ellipse cx="1704.73" cy="1098.24" rx="5.3" ry="3.9"/><ellipse cx="1704.73" cy="1092.74" rx="5.3" ry="3.9"/><ellipse cx="1704.73" cy="1087.24" rx="5.3" ry="3.9"/><ellipse cx="1704.73" cy="1081.74" rx="5.3" ry="3.9"/><ellipse cx="1704.73" cy="1079.7" rx="5.3" ry="3.9"/></g>
<line x1="1747.32" y1="1121.6" x2="1747.32" y2="1199.3" stroke="#86471F" stroke-width="4.2"/>
<line x1="1747.32" y1="1248.1" x2="1747.32" y2="1322.6" stroke="#86471F" stroke-width="4.2"/>
<rect x="1731.35" y="1199.3" width="31.94" height="48.8" fill="#fff" stroke="#86471F" stroke-width="4.1" stroke-linejoin="round"/>
<line x1="1731.35" y1="1226.8" x2="1763.29" y2="1226.8" stroke="#86471F" stroke-width="8.2"/>
<g fill="#86471F"><ellipse cx="1747.32" cy="1048.3" rx="5.3" ry="3.9"/><ellipse cx="1747.32" cy="1067.2" rx="5.3" ry="3.9"/><ellipse cx="1747.32" cy="1350.6" rx="5.3" ry="3.9"/><ellipse cx="1747.32" cy="1121.6" rx="5.3" ry="3.9"/><ellipse cx="1747.32" cy="1118.3" rx="5.3" ry="3.9"/><ellipse cx="1747.32" cy="1114.67" rx="5.3" ry="3.9"/><ellipse cx="1747.32" cy="1110.68" rx="5.3" ry="3.9"/><ellipse cx="1747.32" cy="1106.28" rx="5.3" ry="3.9"/><ellipse cx="1747.32" cy="1101.45" rx="5.3" ry="3.9"/><ellipse cx="1747.32" cy="1096.14" rx="5.3" ry="3.9"/><ellipse cx="1747.32" cy="1090.64" rx="5.3" ry="3.9"/><ellipse cx="1747.32" cy="1085.14" rx="5.3" ry="3.9"/><ellipse cx="1747.32" cy="1079.7" rx="5.3" ry="3.9"/></g>
<line x1="1789.91" y1="1151.7" x2="1789.91" y2="1227.3" stroke="#86471F" stroke-width="4.2"/>
<line x1="1789.91" y1="1274.8" x2="1789.91" y2="1347.5" stroke="#86471F" stroke-width="4.2"/>
<rect x="1773.94" y="1227.3" width="31.94" height="47.5" fill="#fff" stroke="#86471F" stroke-width="4.1" stroke-linejoin="round"/>
<line x1="1773.94" y1="1252.5" x2="1805.89" y2="1252.5" stroke="#86471F" stroke-width="8.2"/>
<g fill="#86471F"><ellipse cx="1789.91" cy="1065.3" rx="5.3" ry="3.9"/><ellipse cx="1789.91" cy="1100.7" rx="5.3" ry="3.9"/><ellipse cx="1789.91" cy="1097.4" rx="5.3" ry="3.9"/><ellipse cx="1789.91" cy="1093.77" rx="5.3" ry="3.9"/><ellipse cx="1789.91" cy="1089.78" rx="5.3" ry="3.9"/><ellipse cx="1789.91" cy="1085.38" rx="5.3" ry="3.9"/><ellipse cx="1789.91" cy="1085" rx="5.3" ry="3.9"/><ellipse cx="1789.91" cy="1151.7" rx="5.3" ry="3.9"/><ellipse cx="1789.91" cy="1148.4" rx="5.3" ry="3.9"/><ellipse cx="1789.91" cy="1144.77" rx="5.3" ry="3.9"/><ellipse cx="1789.91" cy="1140.78" rx="5.3" ry="3.9"/><ellipse cx="1789.91" cy="1136.38" rx="5.3" ry="3.9"/><ellipse cx="1789.91" cy="1131.55" rx="5.3" ry="3.9"/><ellipse cx="1789.91" cy="1126.24" rx="5.3" ry="3.9"/><ellipse cx="1789.91" cy="1120.74" rx="5.3" ry="3.9"/><ellipse cx="1789.91" cy="1115.24" rx="5.3" ry="3.9"/><ellipse cx="1789.91" cy="1115.1" rx="5.3" ry="3.9"/></g>
<line x1="1832.51" y1="1155.6" x2="1832.51" y2="1230.2" stroke="#86471F" stroke-width="4.2"/>
<line x1="1832.51" y1="1278.3" x2="1832.51" y2="1342.3" stroke="#86471F" stroke-width="4.2"/>
<rect x="1816.53" y="1230.2" width="31.94" height="48.1" fill="#fff" stroke="#86471F" stroke-width="4.1" stroke-linejoin="round"/>
<line x1="1816.53" y1="1257.2" x2="1848.48" y2="1257.2" stroke="#86471F" stroke-width="8.2"/>
<g fill="#86471F"><ellipse cx="1832.51" cy="1064.8" rx="5.3" ry="3.9"/><ellipse cx="1832.51" cy="1365.6" rx="5.3" ry="3.9"/><ellipse cx="1832.51" cy="1107.2" rx="5.3" ry="3.9"/><ellipse cx="1832.51" cy="1103.9" rx="5.3" ry="3.9"/><ellipse cx="1832.51" cy="1100.27" rx="5.3" ry="3.9"/><ellipse cx="1832.51" cy="1096.28" rx="5.3" ry="3.9"/><ellipse cx="1832.51" cy="1091.88" rx="5.3" ry="3.9"/><ellipse cx="1832.51" cy="1087.6" rx="5.3" ry="3.9"/><ellipse cx="1832.51" cy="1155.6" rx="5.3" ry="3.9"/><ellipse cx="1832.51" cy="1152.3" rx="5.3" ry="3.9"/><ellipse cx="1832.51" cy="1148.67" rx="5.3" ry="3.9"/><ellipse cx="1832.51" cy="1144.68" rx="5.3" ry="3.9"/><ellipse cx="1832.51" cy="1140.28" rx="5.3" ry="3.9"/><ellipse cx="1832.51" cy="1135.45" rx="5.3" ry="3.9"/><ellipse cx="1832.51" cy="1130.14" rx="5.3" ry="3.9"/><ellipse cx="1832.51" cy="1124.64" rx="5.3" ry="3.9"/><ellipse cx="1832.51" cy="1119.14" rx="5.3" ry="3.9"/><ellipse cx="1832.51" cy="1113.8" rx="5.3" ry="3.9"/></g>
<rect x="1872.05" y="1048.35" width="50" height="336.7" fill="#fff" stroke="#231f20" stroke-width="3.9"/>
<line x1="149.1" y1="1453.7" x2="149.1" y2="1798.2" stroke="#000" stroke-width="4.0"/>
<line x1="147.1" y1="1796.2" x2="1857.6" y2="1796.2" stroke="#000" stroke-width="4.0"/>
<line x1="174.63" y1="1798.2" x2="174.63" y2="1804.7" stroke="#333333" stroke-width="4"/>
<line x1="217.14" y1="1798.2" x2="217.14" y2="1804.7" stroke="#333333" stroke-width="4"/>
<line x1="259.65" y1="1798.2" x2="259.65" y2="1804.7" stroke="#333333" stroke-width="4"/>
<line x1="302.16" y1="1798.2" x2="302.16" y2="1804.7" stroke="#333333" stroke-width="4"/>
<line x1="344.67" y1="1798.2" x2="344.67" y2="1804.7" stroke="#333333" stroke-width="4"/>
<line x1="387.19" y1="1798.2" x2="387.19" y2="1804.7" stroke="#333333" stroke-width="4"/>
<line x1="429.7" y1="1798.2" x2="429.7" y2="1804.7" stroke="#333333" stroke-width="4"/>
<line x1="472.21" y1="1798.2" x2="472.21" y2="1804.7" stroke="#333333" stroke-width="4"/>
<line x1="514.72" y1="1798.2" x2="514.72" y2="1804.7" stroke="#333333" stroke-width="4"/>
<line x1="557.23" y1="1798.2" x2="557.23" y2="1804.7" stroke="#333333" stroke-width="4"/>
<line x1="599.74" y1="1798.2" x2="599.74" y2="1804.7" stroke="#333333" stroke-width="4"/>
<line x1="642.25" y1="1798.2" x2="642.25" y2="1804.7" stroke="#333333" stroke-width="4"/>
<line x1="684.76" y1="1798.2" x2="684.76" y2="1804.7" stroke="#333333" stroke-width="4"/>
<line x1="727.27" y1="1798.2" x2="727.27" y2="1804.7" stroke="#333333" stroke-width="4"/>
<line x1="769.78" y1="1798.2" x2="769.78" y2="1804.7" stroke="#333333" stroke-width="4"/>
<line x1="812.3" y1="1798.2" x2="812.3" y2="1804.7" stroke="#333333" stroke-width="4"/>
<line x1="854.81" y1="1798.2" x2="854.81" y2="1804.7" stroke="#333333" stroke-width="4"/>
<line x1="897.32" y1="1798.2" x2="897.32" y2="1804.7" stroke="#333333" stroke-width="4"/>
<line x1="939.83" y1="1798.2" x2="939.83" y2="1804.7" stroke="#333333" stroke-width="4"/>
<line x1="982.34" y1="1798.2" x2="982.34" y2="1804.7" stroke="#333333" stroke-width="4"/>
<line x1="1024.85" y1="1798.2" x2="1024.85" y2="1804.7" stroke="#333333" stroke-width="4"/>
<line x1="1067.36" y1="1798.2" x2="1067.36" y2="1804.7" stroke="#333333" stroke-width="4"/>
<line x1="1109.87" y1="1798.2" x2="1109.87" y2="1804.7" stroke="#333333" stroke-width="4"/>
<line x1="1152.38" y1="1798.2" x2="1152.38" y2="1804.7" stroke="#333333" stroke-width="4"/>
<line x1="1194.89" y1="1798.2" x2="1194.89" y2="1804.7" stroke="#333333" stroke-width="4"/>
<line x1="1237.41" y1="1798.2" x2="1237.41" y2="1804.7" stroke="#333333" stroke-width="4"/>
<line x1="1279.92" y1="1798.2" x2="1279.92" y2="1804.7" stroke="#333333" stroke-width="4"/>
<line x1="1322.43" y1="1798.2" x2="1322.43" y2="1804.7" stroke="#333333" stroke-width="4"/>
<line x1="1364.94" y1="1798.2" x2="1364.94" y2="1804.7" stroke="#333333" stroke-width="4"/>
<line x1="1407.45" y1="1798.2" x2="1407.45" y2="1804.7" stroke="#333333" stroke-width="4"/>
<line x1="1449.96" y1="1798.2" x2="1449.96" y2="1804.7" stroke="#333333" stroke-width="4"/>
<line x1="1492.47" y1="1798.2" x2="1492.47" y2="1804.7" stroke="#333333" stroke-width="4"/>
<line x1="1534.98" y1="1798.2" x2="1534.98" y2="1804.7" stroke="#333333" stroke-width="4"/>
<line x1="1577.49" y1="1798.2" x2="1577.49" y2="1804.7" stroke="#333333" stroke-width="4"/>
<line x1="1620" y1="1798.2" x2="1620" y2="1804.7" stroke="#333333" stroke-width="4"/>
<line x1="1662.51" y1="1798.2" x2="1662.51" y2="1804.7" stroke="#333333" stroke-width="4"/>
<line x1="1705.03" y1="1798.2" x2="1705.03" y2="1804.7" stroke="#333333" stroke-width="4"/>
<line x1="1747.54" y1="1798.2" x2="1747.54" y2="1804.7" stroke="#333333" stroke-width="4"/>
<line x1="1790.05" y1="1798.2" x2="1790.05" y2="1804.7" stroke="#333333" stroke-width="4"/>
<line x1="1832.56" y1="1798.2" x2="1832.56" y2="1804.7" stroke="#333333" stroke-width="4"/>
<line x1="140.6" y1="1528.6" x2="147.1" y2="1528.6" stroke="#333333" stroke-width="4"/>
<line x1="140.6" y1="1603.6" x2="147.1" y2="1603.6" stroke="#333333" stroke-width="4"/>
<line x1="140.6" y1="1679" x2="147.1" y2="1679" stroke="#333333" stroke-width="4"/>
<line x1="140.6" y1="1754.1" x2="147.1" y2="1754.1" stroke="#333333" stroke-width="4"/>
<rect x="158.69" y="1612.5" width="31.88" height="4.8" fill="#fff" stroke="#000000" stroke-width="4.1" stroke-linejoin="round"/>
<line x1="158.69" y1="1615" x2="190.57" y2="1615" stroke="#000000" stroke-width="8.2"/>
<g fill="#000000"><ellipse cx="187.3" cy="1612.5" rx="5.3" ry="3.9"/><ellipse cx="187.3" cy="1617" rx="5.3" ry="3.9"/></g>
<line x1="217.14" y1="1636.4" x2="217.14" y2="1643.7" stroke="#000000" stroke-width="4.2"/>
<line x1="217.14" y1="1659.7" x2="217.14" y2="1666.7" stroke="#000000" stroke-width="4.2"/>
<rect x="201.2" y="1643.7" width="31.88" height="16" fill="#fff" stroke="#000000" stroke-width="4.1" stroke-linejoin="round"/>
<line x1="201.2" y1="1651.5" x2="233.08" y2="1651.5" stroke="#000000" stroke-width="8.2"/>
<g fill="#000000"><ellipse cx="208.2" cy="1635.3" rx="5.3" ry="3.9"/><ellipse cx="213.4" cy="1667.3" rx="5.3" ry="3.9"/></g>
<line x1="259.65" y1="1633.2" x2="259.65" y2="1640" stroke="#000000" stroke-width="4.2"/>
<line x1="259.65" y1="1651.5" x2="259.65" y2="1658" stroke="#000000" stroke-width="4.2"/>
<rect x="243.71" y="1640" width="31.88" height="11.5" fill="#fff" stroke="#000000" stroke-width="4.1" stroke-linejoin="round"/>
<line x1="243.71" y1="1645.6" x2="275.59" y2="1645.6" stroke="#000000" stroke-width="8.2"/>
<g fill="#000000"><ellipse cx="273.6" cy="1632.4" rx="5.3" ry="3.9"/><ellipse cx="262.4" cy="1658.6" rx="5.3" ry="3.9"/></g>
<line x1="302.16" y1="1645" x2="302.16" y2="1653.9" stroke="#000000" stroke-width="4.2"/>
<line x1="302.16" y1="1669.9" x2="302.16" y2="1677.7" stroke="#000000" stroke-width="4.2"/>
<rect x="286.22" y="1653.9" width="31.88" height="16" fill="#fff" stroke="#000000" stroke-width="4.1" stroke-linejoin="round"/>
<line x1="286.22" y1="1661.5" x2="318.1" y2="1661.5" stroke="#000000" stroke-width="8.2"/>
<g fill="#000000"><ellipse cx="289.3" cy="1644.5" rx="5.3" ry="3.9"/><ellipse cx="298.5" cy="1677.7" rx="5.3" ry="3.9"/></g>
<line x1="344.67" y1="1630.6" x2="344.67" y2="1632.4" stroke="#000000" stroke-width="4.2"/>
<line x1="344.67" y1="1642.4" x2="344.67" y2="1647.6" stroke="#000000" stroke-width="4.2"/>
<rect x="328.73" y="1632.4" width="31.88" height="10" fill="#fff" stroke="#000000" stroke-width="4.1" stroke-linejoin="round"/>
<line x1="328.73" y1="1637" x2="360.62" y2="1637" stroke="#000000" stroke-width="8.2"/>
<g fill="#000000"><ellipse cx="343" cy="1625.9" rx="5.3" ry="3.9"/><ellipse cx="328.6" cy="1648.1" rx="5.3" ry="3.9"/></g>
<line x1="387.19" y1="1516.7" x2="387.19" y2="1536.8" stroke="#B0396B" stroke-width="4.2"/>
<line x1="387.19" y1="1666.8" x2="387.19" y2="1780.3" stroke="#B0396B" stroke-width="4.2"/>
<rect x="371.24" y="1536.8" width="31.88" height="130" fill="#fff" stroke="#B0396B" stroke-width="4.1" stroke-linejoin="round"/>
<line x1="371.24" y1="1554.7" x2="403.13" y2="1554.7" stroke="#B0396B" stroke-width="8.2"/>
<g fill="#B0396B"><ellipse cx="389.3" cy="1516" rx="5.3" ry="3.9"/><ellipse cx="393.3" cy="1780.3" rx="5.3" ry="3.9"/></g>
<line x1="429.7" y1="1560.5" x2="429.7" y2="1571.4" stroke="#B0396B" stroke-width="4.2"/>
<line x1="429.7" y1="1588.2" x2="429.7" y2="1599.2" stroke="#B0396B" stroke-width="4.2"/>
<rect x="413.75" y="1571.4" width="31.88" height="16.8" fill="#fff" stroke="#B0396B" stroke-width="4.1" stroke-linejoin="round"/>
<line x1="413.75" y1="1579.6" x2="445.64" y2="1579.6" stroke="#B0396B" stroke-width="8.2"/>
<g fill="#B0396B"><ellipse cx="420.7" cy="1559.9" rx="5.3" ry="3.9"/><ellipse cx="442.5" cy="1599.2" rx="5.3" ry="3.9"/></g>
<line x1="472.21" y1="1539.5" x2="472.21" y2="1559.9" stroke="#B0396B" stroke-width="4.2"/>
<line x1="472.21" y1="1655" x2="472.21" y2="1732.7" stroke="#B0396B" stroke-width="4.2"/>
<rect x="456.27" y="1559.9" width="31.88" height="95.1" fill="#fff" stroke="#B0396B" stroke-width="4.1" stroke-linejoin="round"/>
<line x1="456.27" y1="1578.3" x2="488.15" y2="1578.3" stroke="#B0396B" stroke-width="8.2"/>
<g fill="#B0396B"><ellipse cx="485.1" cy="1539" rx="5.3" ry="3.9"/><ellipse cx="457.6" cy="1732.7" rx="5.3" ry="3.9"/></g>
<line x1="514.72" y1="1604.4" x2="514.72" y2="1610.9" stroke="#B0396B" stroke-width="4.2"/>
<line x1="514.72" y1="1624.9" x2="514.72" y2="1631.9" stroke="#B0396B" stroke-width="4.2"/>
<rect x="498.78" y="1610.9" width="31.88" height="14" fill="#fff" stroke="#B0396B" stroke-width="4.1" stroke-linejoin="round"/>
<line x1="498.78" y1="1617.5" x2="530.66" y2="1617.5" stroke="#B0396B" stroke-width="8.2"/>
<g fill="#B0396B"><ellipse cx="520.5" cy="1602.6" rx="5.3" ry="3.9"/><ellipse cx="508.7" cy="1633.2" rx="5.3" ry="3.9"/></g>
<line x1="557.23" y1="1519.4" x2="557.23" y2="1531.1" stroke="#B0396B" stroke-width="4.2"/>
<line x1="557.23" y1="1551.6" x2="557.23" y2="1563.9" stroke="#B0396B" stroke-width="4.2"/>
<rect x="541.29" y="1531.1" width="31.88" height="20.5" fill="#fff" stroke="#B0396B" stroke-width="4.1" stroke-linejoin="round"/>
<line x1="541.29" y1="1539.5" x2="573.17" y2="1539.5" stroke="#B0396B" stroke-width="8.2"/>
<g fill="#B0396B"><ellipse cx="569.4" cy="1518.6" rx="5.3" ry="3.9"/><ellipse cx="541.4" cy="1564.4" rx="5.3" ry="3.9"/></g>
<line x1="599.74" y1="1469.6" x2="599.74" y2="1489.2" stroke="#B0396B" stroke-width="4.2"/>
<line x1="599.74" y1="1613.6" x2="599.74" y2="1723.5" stroke="#B0396B" stroke-width="4.2"/>
<rect x="583.8" y="1489.2" width="31.88" height="124.4" fill="#fff" stroke="#B0396B" stroke-width="4.1" stroke-linejoin="round"/>
<line x1="583.8" y1="1506.3" x2="615.68" y2="1506.3" stroke="#B0396B" stroke-width="8.2"/>
<g fill="#B0396B"><ellipse cx="615.8" cy="1469.6" rx="5.3" ry="3.9"/><ellipse cx="617.1" cy="1506.3" rx="5.3" ry="3.9"/><ellipse cx="599.6" cy="1723.5" rx="5.3" ry="3.9"/></g>
<line x1="642.25" y1="1577" x2="642.25" y2="1582.7" stroke="#B0396B" stroke-width="4.2"/>
<line x1="642.25" y1="1594" x2="642.25" y2="1599.7" stroke="#B0396B" stroke-width="4.2"/>
<rect x="626.31" y="1582.7" width="31.88" height="11.3" fill="#fff" stroke="#B0396B" stroke-width="4.1" stroke-linejoin="round"/>
<line x1="626.31" y1="1588" x2="658.19" y2="1588" stroke="#B0396B" stroke-width="8.2"/>
<g fill="#B0396B"><ellipse cx="628.1" cy="1576.4" rx="5.3" ry="3.9"/><ellipse cx="656.9" cy="1599.7" rx="5.3" ry="3.9"/></g>
<line x1="684.76" y1="1491.4" x2="684.76" y2="1512" stroke="#B0396B" stroke-width="4.2"/>
<line x1="684.76" y1="1607.3" x2="684.76" y2="1686.4" stroke="#B0396B" stroke-width="4.2"/>
<rect x="668.82" y="1512" width="31.88" height="95.3" fill="#fff" stroke="#B0396B" stroke-width="4.1" stroke-linejoin="round"/>
<line x1="668.82" y1="1530.6" x2="700.7" y2="1530.6" stroke="#B0396B" stroke-width="8.2"/>
<g fill="#B0396B"><ellipse cx="677.3" cy="1490.6" rx="5.3" ry="3.9"/><ellipse cx="675.5" cy="1686.4" rx="5.3" ry="3.9"/></g>
<line x1="727.27" y1="1521.2" x2="727.27" y2="1530.3" stroke="#B0396B" stroke-width="4.2"/>
<line x1="727.27" y1="1546.4" x2="727.27" y2="1556" stroke="#B0396B" stroke-width="4.2"/>
<rect x="711.33" y="1530.3" width="31.88" height="16.1" fill="#fff" stroke="#B0396B" stroke-width="4.1" stroke-linejoin="round"/>
<line x1="711.33" y1="1538.5" x2="743.21" y2="1538.5" stroke="#B0396B" stroke-width="8.2"/>
<g fill="#B0396B"><ellipse cx="742.8" cy="1520.7" rx="5.3" ry="3.9"/><ellipse cx="713.4" cy="1556" rx="5.3" ry="3.9"/></g>
<rect x="753.84" y="1623" width="31.88" height="4" fill="#fff" stroke="#B0396B" stroke-width="4.1" stroke-linejoin="round"/>
<line x1="753.84" y1="1625" x2="785.73" y2="1625" stroke="#B0396B" stroke-width="8.2"/>
<g fill="#B0396B"><ellipse cx="756.4" cy="1622" rx="5.3" ry="3.9"/><ellipse cx="753.2" cy="1627.5" rx="5.3" ry="3.9"/></g>
<line x1="812.3" y1="1474.3" x2="812.3" y2="1496.8" stroke="#B0396B" stroke-width="4.2"/>
<line x1="812.3" y1="1614.4" x2="812.3" y2="1714.4" stroke="#B0396B" stroke-width="4.2"/>
<rect x="796.35" y="1496.8" width="31.88" height="117.6" fill="#fff" stroke="#B0396B" stroke-width="4.1" stroke-linejoin="round"/>
<line x1="796.35" y1="1517.5" x2="828.24" y2="1517.5" stroke="#B0396B" stroke-width="8.2"/>
<g fill="#B0396B"><ellipse cx="799" cy="1473.6" rx="5.3" ry="3.9"/><ellipse cx="811.3" cy="1714.4" rx="5.3" ry="3.9"/></g>
<line x1="854.81" y1="1517.5" x2="854.81" y2="1528.2" stroke="#B0396B" stroke-width="4.2"/>
<line x1="854.81" y1="1547.1" x2="854.81" y2="1558.6" stroke="#B0396B" stroke-width="4.2"/>
<rect x="838.86" y="1528.2" width="31.88" height="18.9" fill="#fff" stroke="#B0396B" stroke-width="4.1" stroke-linejoin="round"/>
<line x1="838.86" y1="1537.7" x2="870.75" y2="1537.7" stroke="#B0396B" stroke-width="8.2"/>
<g fill="#B0396B"><ellipse cx="849.5" cy="1516" rx="5.3" ry="3.9"/><ellipse cx="860.5" cy="1559.4" rx="5.3" ry="3.9"/></g>
<line x1="897.32" y1="1480.9" x2="897.32" y2="1500.7" stroke="#B0396B" stroke-width="4.2"/>
<line x1="897.32" y1="1607.3" x2="897.32" y2="1697.4" stroke="#B0396B" stroke-width="4.2"/>
<rect x="881.38" y="1500.7" width="31.88" height="106.6" fill="#fff" stroke="#B0396B" stroke-width="4.1" stroke-linejoin="round"/>
<line x1="881.38" y1="1519.4" x2="913.26" y2="1519.4" stroke="#B0396B" stroke-width="8.2"/>
<g fill="#B0396B"><ellipse cx="886.7" cy="1480.1" rx="5.3" ry="3.9"/><ellipse cx="912.9" cy="1519.4" rx="5.3" ry="3.9"/><ellipse cx="902.4" cy="1698.1" rx="5.3" ry="3.9"/></g>
<line x1="939.83" y1="1508.1" x2="939.83" y2="1519.3" stroke="#B0396B" stroke-width="4.2"/>
<line x1="939.83" y1="1539" x2="939.83" y2="1550.8" stroke="#B0396B" stroke-width="4.2"/>
<rect x="923.89" y="1519.3" width="31.88" height="19.7" fill="#fff" stroke="#B0396B" stroke-width="4.1" stroke-linejoin="round"/>
<line x1="923.89" y1="1528.5" x2="955.77" y2="1528.5" stroke="#B0396B" stroke-width="8.2"/>
<g fill="#B0396B"><ellipse cx="946.9" cy="1507.1" rx="5.3" ry="3.9"/><ellipse cx="949.5" cy="1550.8" rx="5.3" ry="3.9"/></g>
<line x1="982.34" y1="1516.7" x2="982.34" y2="1527.2" stroke="#B0396B" stroke-width="4.2"/>
<line x1="982.34" y1="1543.7" x2="982.34" y2="1553.4" stroke="#B0396B" stroke-width="4.2"/>
<rect x="966.4" y="1527.2" width="31.88" height="16.5" fill="#fff" stroke="#B0396B" stroke-width="4.1" stroke-linejoin="round"/>
<line x1="966.4" y1="1535.1" x2="998.28" y2="1535.1" stroke="#B0396B" stroke-width="8.2"/>
<g fill="#B0396B"><ellipse cx="977.5" cy="1516.7" rx="5.3" ry="3.9"/><ellipse cx="977.5" cy="1553.9" rx="5.3" ry="3.9"/></g>
<line x1="1024.85" y1="1552.1" x2="1024.85" y2="1580" stroke="#3F6A97" stroke-width="4.2"/>
<line x1="1024.85" y1="1631.4" x2="1024.85" y2="1658.9" stroke="#3F6A97" stroke-width="4.2"/>
<rect x="1008.91" y="1580" width="31.88" height="51.4" fill="#fff" stroke="#3F6A97" stroke-width="4.1" stroke-linejoin="round"/>
<line x1="1008.91" y1="1605.7" x2="1040.79" y2="1605.7" stroke="#3F6A97" stroke-width="8.2"/>
<g fill="#3F6A97"><ellipse cx="1022.5" cy="1551.6" rx="5.3" ry="3.9"/><ellipse cx="1024.3" cy="1658.9" rx="5.3" ry="3.9"/></g>
<line x1="1067.36" y1="1541.6" x2="1067.36" y2="1563.8" stroke="#3F6A97" stroke-width="4.2"/>
<line x1="1067.36" y1="1607.1" x2="1067.36" y2="1630.1" stroke="#3F6A97" stroke-width="4.2"/>
<rect x="1051.42" y="1563.8" width="31.88" height="43.3" fill="#fff" stroke="#3F6A97" stroke-width="4.1" stroke-linejoin="round"/>
<line x1="1051.42" y1="1585.6" x2="1083.3" y2="1585.6" stroke="#3F6A97" stroke-width="8.2"/>
<g fill="#3F6A97"><ellipse cx="1070.9" cy="1540.8" rx="5.3" ry="3.9"/><ellipse cx="1080.1" cy="1630.1" rx="5.3" ry="3.9"/></g>
<line x1="1109.87" y1="1561.2" x2="1109.87" y2="1585.3" stroke="#3F6A97" stroke-width="4.2"/>
<line x1="1109.87" y1="1631.4" x2="1109.87" y2="1656.3" stroke="#3F6A97" stroke-width="4.2"/>
<rect x="1093.93" y="1585.3" width="31.88" height="46.1" fill="#fff" stroke="#3F6A97" stroke-width="4.1" stroke-linejoin="round"/>
<line x1="1093.93" y1="1608.4" x2="1125.81" y2="1608.4" stroke="#3F6A97" stroke-width="8.2"/>
<g fill="#3F6A97"><ellipse cx="1095.2" cy="1560.5" rx="5.3" ry="3.9"/><ellipse cx="1123.3" cy="1656.3" rx="5.3" ry="3.9"/></g>
<line x1="1152.38" y1="1521.2" x2="1152.38" y2="1583.5" stroke="#3F6A97" stroke-width="4.2"/>
<line x1="1152.38" y1="1677.8" x2="1152.38" y2="1711.2" stroke="#3F6A97" stroke-width="4.2"/>
<rect x="1136.44" y="1583.5" width="31.88" height="94.3" fill="#fff" stroke="#3F6A97" stroke-width="4.1" stroke-linejoin="round"/>
<line x1="1136.44" y1="1643.7" x2="1168.32" y2="1643.7" stroke="#3F6A97" stroke-width="8.2"/>
<g fill="#3F6A97"><ellipse cx="1150.7" cy="1521.2" rx="5.3" ry="3.9"/><ellipse cx="1159.9" cy="1711.7" rx="5.3" ry="3.9"/></g>
<line x1="1194.89" y1="1517.3" x2="1194.89" y2="1580" stroke="#3F6A97" stroke-width="4.2"/>
<line x1="1194.89" y1="1688.5" x2="1194.89" y2="1737.4" stroke="#3F6A97" stroke-width="4.2"/>
<rect x="1178.95" y="1580" width="31.88" height="108.5" fill="#fff" stroke="#3F6A97" stroke-width="4.1" stroke-linejoin="round"/>
<line x1="1178.95" y1="1641.6" x2="1210.84" y2="1641.6" stroke="#3F6A97" stroke-width="8.2"/>
<g fill="#3F6A97"><ellipse cx="1201.3" cy="1516.7" rx="5.3" ry="3.9"/><ellipse cx="1179.5" cy="1641.1" rx="5.3" ry="3.9"/><ellipse cx="1200" cy="1737.4" rx="5.3" ry="3.9"/></g>
<rect x="1221.46" y="1587.5" width="31.88" height="3.5" fill="#fff" stroke="#46913F" stroke-width="4.1" stroke-linejoin="round"/>
<line x1="1221.46" y1="1589" x2="1253.35" y2="1589" stroke="#46913F" stroke-width="8.2"/>
<g fill="#46913F"><ellipse cx="1230.6" cy="1586.1" rx="5.3" ry="3.9"/><ellipse cx="1246.8" cy="1593.4" rx="5.3" ry="3.9"/></g>
<line x1="1279.92" y1="1620" x2="1279.92" y2="1622" stroke="#46913F" stroke-width="4.2"/>
<line x1="1279.92" y1="1628.8" x2="1279.92" y2="1631" stroke="#46913F" stroke-width="4.2"/>
<rect x="1263.97" y="1622" width="31.88" height="6.8" fill="#fff" stroke="#46913F" stroke-width="4.1" stroke-linejoin="round"/>
<line x1="1263.97" y1="1625" x2="1295.86" y2="1625" stroke="#46913F" stroke-width="8.2"/>
<g fill="#46913F"><ellipse cx="1265.4" cy="1617.5" rx="5.3" ry="3.9"/><ellipse cx="1290.3" cy="1631.1" rx="5.3" ry="3.9"/></g>
<rect x="1306.49" y="1611.5" width="31.88" height="4.2" fill="#fff" stroke="#46913F" stroke-width="4.1" stroke-linejoin="round"/>
<line x1="1306.49" y1="1613.6" x2="1338.37" y2="1613.6" stroke="#46913F" stroke-width="8.2"/>
<g fill="#46913F"><ellipse cx="1324.8" cy="1608.4" rx="5.3" ry="3.9"/><ellipse cx="1336.6" cy="1617.5" rx="5.3" ry="3.9"/></g>
<line x1="1364.94" y1="1584" x2="1364.94" y2="1586.6" stroke="#46913F" stroke-width="4.2"/>
<line x1="1364.94" y1="1593.5" x2="1364.94" y2="1596" stroke="#46913F" stroke-width="4.2"/>
<rect x="1349" y="1586.6" width="31.88" height="6.9" fill="#fff" stroke="#46913F" stroke-width="4.1" stroke-linejoin="round"/>
<line x1="1349" y1="1590" x2="1380.88" y2="1590" stroke="#46913F" stroke-width="8.2"/>
<g fill="#46913F"><ellipse cx="1368" cy="1580.9" rx="5.3" ry="3.9"/><ellipse cx="1360.1" cy="1597.9" rx="5.3" ry="3.9"/></g>
<line x1="1407.45" y1="1551.6" x2="1407.45" y2="1558.3" stroke="#46913F" stroke-width="4.2"/>
<line x1="1407.45" y1="1571.2" x2="1407.45" y2="1577" stroke="#46913F" stroke-width="4.2"/>
<rect x="1391.51" y="1558.3" width="31.88" height="12.9" fill="#fff" stroke="#46913F" stroke-width="4.1" stroke-linejoin="round"/>
<line x1="1391.51" y1="1564.6" x2="1423.39" y2="1564.6" stroke="#46913F" stroke-width="8.2"/>
<g fill="#46913F"><ellipse cx="1400.2" cy="1550.2" rx="5.3" ry="3.9"/><ellipse cx="1398.9" cy="1578.3" rx="5.3" ry="3.9"/></g>
<line x1="1449.96" y1="1562.5" x2="1449.96" y2="1574.8" stroke="#46913F" stroke-width="4.2"/>
<line x1="1449.96" y1="1597.4" x2="1449.96" y2="1609.1" stroke="#46913F" stroke-width="4.2"/>
<rect x="1434.02" y="1574.8" width="31.88" height="22.6" fill="#fff" stroke="#46913F" stroke-width="4.1" stroke-linejoin="round"/>
<line x1="1434.02" y1="1585.6" x2="1465.9" y2="1585.6" stroke="#46913F" stroke-width="8.2"/>
<g fill="#46913F"><ellipse cx="1438.8" cy="1561.2" rx="5.3" ry="3.9"/><ellipse cx="1456.6" cy="1610.2" rx="5.3" ry="3.9"/></g>
<line x1="1492.47" y1="1556.8" x2="1492.47" y2="1580" stroke="#FDD62A" stroke-width="4.2"/>
<line x1="1492.47" y1="1622.3" x2="1492.47" y2="1645" stroke="#FDD62A" stroke-width="4.2"/>
<rect x="1476.53" y="1580" width="31.88" height="42.3" fill="#fff" stroke="#FDD62A" stroke-width="4.1" stroke-linejoin="round"/>
<line x1="1476.53" y1="1600.5" x2="1508.41" y2="1600.5" stroke="#FDD62A" stroke-width="8.2"/>
<g fill="#FDD62A"><ellipse cx="1487.5" cy="1555.5" rx="5.3" ry="3.9"/><ellipse cx="1490.1" cy="1645" rx="5.3" ry="3.9"/></g>
<line x1="1534.98" y1="1570.4" x2="1534.98" y2="1595.2" stroke="#FDD62A" stroke-width="4.2"/>
<line x1="1534.98" y1="1641.9" x2="1534.98" y2="1666.5" stroke="#FDD62A" stroke-width="4.2"/>
<rect x="1519.04" y="1595.2" width="31.88" height="46.7" fill="#fff" stroke="#FDD62A" stroke-width="4.1" stroke-linejoin="round"/>
<line x1="1519.04" y1="1617.5" x2="1550.92" y2="1617.5" stroke="#FDD62A" stroke-width="8.2"/>
<g fill="#FDD62A"><ellipse cx="1539.1" cy="1569.6" rx="5.3" ry="3.9"/><ellipse cx="1523.4" cy="1666.5" rx="5.3" ry="3.9"/></g>
<line x1="1577.49" y1="1548.9" x2="1577.49" y2="1573.5" stroke="#FDD62A" stroke-width="4.2"/>
<line x1="1577.49" y1="1619.7" x2="1577.49" y2="1643.7" stroke="#FDD62A" stroke-width="4.2"/>
<rect x="1561.55" y="1573.5" width="31.88" height="46.2" fill="#fff" stroke="#FDD62A" stroke-width="4.1" stroke-linejoin="round"/>
<line x1="1561.55" y1="1595.3" x2="1593.43" y2="1595.3" stroke="#FDD62A" stroke-width="8.2"/>
<g fill="#FDD62A"><ellipse cx="1562.7" cy="1548.7" rx="5.3" ry="3.9"/><ellipse cx="1587" cy="1644.2" rx="5.3" ry="3.9"/></g>
<line x1="1620" y1="1599.2" x2="1620" y2="1618.8" stroke="#FDD62A" stroke-width="4.2"/>
<line x1="1620" y1="1656.8" x2="1620" y2="1677.2" stroke="#FDD62A" stroke-width="4.2"/>
<rect x="1604.06" y="1618.8" width="31.88" height="38" fill="#fff" stroke="#FDD62A" stroke-width="4.1" stroke-linejoin="round"/>
<line x1="1604.06" y1="1637.9" x2="1635.95" y2="1637.9" stroke="#FDD62A" stroke-width="8.2"/>
<g fill="#FDD62A"><ellipse cx="1633.3" cy="1598.7" rx="5.3" ry="3.9"/><ellipse cx="1607.9" cy="1677.2" rx="5.3" ry="3.9"/></g>
<line x1="1662.51" y1="1582" x2="1662.51" y2="1586.6" stroke="#86471F" stroke-width="4.2"/>
<line x1="1662.51" y1="1597.4" x2="1662.51" y2="1601.8" stroke="#86471F" stroke-width="4.2"/>
<rect x="1646.57" y="1586.6" width="31.88" height="10.8" fill="#fff" stroke="#86471F" stroke-width="4.1" stroke-linejoin="round"/>
<line x1="1646.57" y1="1592" x2="1678.46" y2="1592" stroke="#86471F" stroke-width="8.2"/>
<g fill="#86471F"><ellipse cx="1668.7" cy="1580.4" rx="5.3" ry="3.9"/><ellipse cx="1677.8" cy="1602.6" rx="5.3" ry="3.9"/></g>
<line x1="1705.03" y1="1603.1" x2="1705.03" y2="1608.8" stroke="#86471F" stroke-width="4.2"/>
<line x1="1705.03" y1="1621" x2="1705.03" y2="1626.7" stroke="#86471F" stroke-width="4.2"/>
<rect x="1689.08" y="1608.8" width="31.88" height="12.2" fill="#fff" stroke="#86471F" stroke-width="4.1" stroke-linejoin="round"/>
<line x1="1689.08" y1="1615" x2="1720.97" y2="1615" stroke="#86471F" stroke-width="8.2"/>
<g fill="#86471F"><ellipse cx="1690.9" cy="1601.8" rx="5.3" ry="3.9"/><ellipse cx="1716.6" cy="1627.5" rx="5.3" ry="3.9"/></g>
<line x1="1747.54" y1="1610.5" x2="1747.54" y2="1612" stroke="#86471F" stroke-width="4.2"/>
<line x1="1747.54" y1="1618.3" x2="1747.54" y2="1620" stroke="#86471F" stroke-width="4.2"/>
<rect x="1731.6" y="1612" width="31.88" height="6.3" fill="#fff" stroke="#86471F" stroke-width="4.1" stroke-linejoin="round"/>
<line x1="1731.6" y1="1615" x2="1763.48" y2="1615" stroke="#86471F" stroke-width="8.2"/>
<g fill="#86471F"><ellipse cx="1743.3" cy="1608.4" rx="5.3" ry="3.9"/><ellipse cx="1759.7" cy="1620.1" rx="5.3" ry="3.9"/></g>
<line x1="1790.05" y1="1563" x2="1790.05" y2="1565" stroke="#86471F" stroke-width="4.2"/>
<line x1="1790.05" y1="1574.4" x2="1790.05" y2="1577" stroke="#86471F" stroke-width="4.2"/>
<rect x="1774.11" y="1565" width="31.88" height="9.4" fill="#fff" stroke="#86471F" stroke-width="4.1" stroke-linejoin="round"/>
<line x1="1774.11" y1="1569.5" x2="1805.99" y2="1569.5" stroke="#86471F" stroke-width="8.2"/>
<g fill="#86471F"><ellipse cx="1786.4" cy="1559.4" rx="5.3" ry="3.9"/><ellipse cx="1798.2" cy="1579" rx="5.3" ry="3.9"/></g>
<line x1="1832.56" y1="1575.6" x2="1832.56" y2="1579.5" stroke="#86471F" stroke-width="4.2"/>
<line x1="1832.56" y1="1588.2" x2="1832.56" y2="1592" stroke="#86471F" stroke-width="4.2"/>
<rect x="1816.62" y="1579.5" width="31.88" height="8.7" fill="#fff" stroke="#86471F" stroke-width="4.1" stroke-linejoin="round"/>
<line x1="1816.62" y1="1584" x2="1848.5" y2="1584" stroke="#86471F" stroke-width="8.2"/>
<g fill="#86471F"><ellipse cx="1817.9" cy="1574.9" rx="5.3" ry="3.9"/><ellipse cx="1841.4" cy="1592.7" rx="5.3" ry="3.9"/></g>
<rect x="1872.05" y="1468.35" width="50" height="327.7" fill="#fff" stroke="#231f20" stroke-width="3.9"/>
<rect x="156.15" y="1901.65" width="377.9" height="54.4" fill="#fff" stroke="#231f20" stroke-width="3.9"/>
<line x1="154.3" y1="1969.5" x2="154.3" y2="2455.8" stroke="#000" stroke-width="4.0"/>
<line x1="152.3" y1="2453.8" x2="1191.7" y2="2453.8" stroke="#000" stroke-width="4.0"/>
<line x1="254.5" y1="2455.8" x2="254.5" y2="2458.3" stroke="#333333" stroke-width="4"/>
<line x1="422.3" y1="2455.8" x2="422.3" y2="2458.3" stroke="#333333" stroke-width="4"/>
<line x1="589.1" y1="2455.8" x2="589.1" y2="2458.3" stroke="#333333" stroke-width="4"/>
<line x1="756.6" y1="2455.8" x2="756.6" y2="2458.3" stroke="#333333" stroke-width="4"/>
<line x1="924.2" y1="2455.8" x2="924.2" y2="2458.3" stroke="#333333" stroke-width="4"/>
<line x1="1091.5" y1="2455.8" x2="1091.5" y2="2458.3" stroke="#333333" stroke-width="4"/>
<line x1="149.8" y1="2058.1" x2="152.3" y2="2058.1" stroke="#333333" stroke-width="4"/>
<line x1="149.8" y1="2183.5" x2="152.3" y2="2183.5" stroke="#333333" stroke-width="4"/>
<line x1="149.8" y1="2308.9" x2="152.3" y2="2308.9" stroke="#333333" stroke-width="4"/>
<line x1="149.8" y1="2434.3" x2="152.3" y2="2434.3" stroke="#333333" stroke-width="4"/>
<rect x="195.5" y="2427.3" width="118" height="3.4" fill="#fff" stroke="#000000" stroke-width="4.0" stroke-linejoin="round"/>
<line x1="195.5" y1="2429" x2="313.5" y2="2429" stroke="#000000" stroke-width="8.4"/>
<g fill="#000000"><circle cx="231.6" cy="2429.1" r="4.5"/><circle cx="261.1" cy="2426.2" r="4.5"/><circle cx="285.8" cy="2431.7" r="4.5"/></g>
<line x1="422.3" y1="2248" x2="422.3" y2="2260.8" stroke="#B0396B" stroke-width="4.0"/>
<line x1="422.3" y1="2316.8" x2="422.3" y2="2383.7" stroke="#B0396B" stroke-width="4.0"/>
<rect x="363.3" y="2260.8" width="118" height="56" fill="#fff" stroke="#B0396B" stroke-width="4.0" stroke-linejoin="round"/>
<line x1="363.3" y1="2286" x2="481.3" y2="2286" stroke="#B0396B" stroke-width="8.4"/>
<g fill="#B0396B"><circle cx="441.5" cy="1991.7" r="4.5"/><circle cx="448.1" cy="2247.3" r="4.5"/><circle cx="415.7" cy="2272.3" r="4.5"/><circle cx="407.6" cy="2286" r="4.5"/><circle cx="424.2" cy="2300.7" r="4.5"/><circle cx="391.7" cy="2334" r="4.5"/><circle cx="451.1" cy="2383.7" r="4.5"/></g>
<line x1="589.1" y1="2331.5" x2="589.1" y2="2362.6" stroke="#3F6A97" stroke-width="4.0"/>
<rect x="530.1" y="2295.2" width="118" height="36.3" fill="#fff" stroke="#3F6A97" stroke-width="4.0" stroke-linejoin="round"/>
<line x1="530.1" y1="2329.5" x2="648.1" y2="2329.5" stroke="#3F6A97" stroke-width="8.4"/>
<g fill="#3F6A97"><circle cx="586.1" cy="2225.6" r="4.5"/><circle cx="619.9" cy="2294" r="4.5"/><circle cx="615.6" cy="2332.6" r="4.5"/><circle cx="586" cy="2361" r="4.5"/></g>
<line x1="756.6" y1="2304.8" x2="756.6" y2="2348.5" stroke="#46913F" stroke-width="4.0"/>
<line x1="756.6" y1="2391" x2="756.6" y2="2428" stroke="#46913F" stroke-width="4.0"/>
<rect x="697.6" y="2348.5" width="118" height="42.5" fill="#fff" stroke="#46913F" stroke-width="4.0" stroke-linejoin="round"/>
<line x1="697.6" y1="2370.3" x2="815.6" y2="2370.3" stroke="#46913F" stroke-width="8.4"/>
<g fill="#46913F"><circle cx="767.3" cy="2304.8" r="4.5"/><circle cx="787.4" cy="2361.8" r="4.5"/><circle cx="766" cy="2378.9" r="4.5"/><circle cx="759.1" cy="2428.2" r="4.5"/></g>
<line x1="924.2" y1="2414.8" x2="924.2" y2="2424.8" stroke="#FDD62A" stroke-width="4.0"/>
<rect x="865.2" y="2402.1" width="118" height="12.7" fill="#fff" stroke="#FDD62A" stroke-width="4.0" stroke-linejoin="round"/>
<line x1="865.2" y1="2410.5" x2="983.2" y2="2410.5" stroke="#FDD62A" stroke-width="8.4"/>
<g fill="#FDD62A"><circle cx="957.2" cy="2364.8" r="4.5"/><circle cx="937.2" cy="2398.5" r="4.5"/><circle cx="950" cy="2415.7" r="4.5"/><circle cx="912.4" cy="2424.8" r="4.5"/><circle cx="924.2" cy="2401.4" r="4.5"/><circle cx="938" cy="2407" r="4.5"/></g>
<line x1="1091.5" y1="2385.8" x2="1091.5" y2="2394.8" stroke="#86471F" stroke-width="4.0"/>
<rect x="1032.5" y="2394.8" width="118" height="25.8" fill="#fff" stroke="#86471F" stroke-width="4.0" stroke-linejoin="round"/>
<line x1="1032.5" y1="2409.2" x2="1150.5" y2="2409.2" stroke="#86471F" stroke-width="8.4"/>
<g fill="#86471F"><circle cx="1118.4" cy="2385.8" r="4.5"/><circle cx="1074.6" cy="2394.4" r="4.5"/><circle cx="1064.5" cy="2423.3" r="4.5"/><circle cx="1096.5" cy="2420.4" r="4.5"/><circle cx="1103.2" cy="2409" r="4.5"/></g>
<line x1="1467.45" y1="2083.6" x2="1467.45" y2="2093.65" stroke="#000000" stroke-width="4.1" stroke-linecap="round"/>
<rect x="1441.15" y="2093.65" width="52.6" height="32.5" fill="#fff" stroke="#000000" stroke-width="4.1" stroke-linejoin="round"/>
<line x1="1441.15" y1="2109.9" x2="1493.75" y2="2109.9" stroke="#000000" stroke-width="4.1"/>
<line x1="1685.1" y1="2083.6" x2="1685.1" y2="2093.65" stroke="#B0396B" stroke-width="4.1" stroke-linecap="round"/>
<rect x="1658.75" y="2093.65" width="52.7" height="32.5" fill="#fff" stroke="#B0396B" stroke-width="4.1" stroke-linejoin="round"/>
<line x1="1658.75" y1="2109.9" x2="1711.45" y2="2109.9" stroke="#B0396B" stroke-width="4.1"/>
<line x1="1467.45" y1="2174.8" x2="1467.45" y2="2184.85" stroke="#3F6A97" stroke-width="4.1" stroke-linecap="round"/>
<rect x="1441.15" y="2184.85" width="52.6" height="32.9" fill="#fff" stroke="#3F6A97" stroke-width="4.1" stroke-linejoin="round"/>
<line x1="1441.15" y1="2201.3" x2="1493.75" y2="2201.3" stroke="#3F6A97" stroke-width="4.1"/>
<line x1="1683.1" y1="2174.8" x2="1683.1" y2="2184.85" stroke="#46913F" stroke-width="4.1" stroke-linecap="round"/>
<rect x="1656.85" y="2184.85" width="52.5" height="32.9" fill="#fff" stroke="#46913F" stroke-width="4.1" stroke-linejoin="round"/>
<line x1="1656.85" y1="2201.3" x2="1709.35" y2="2201.3" stroke="#46913F" stroke-width="4.1"/>
<line x1="1465.55" y1="2260.2" x2="1465.55" y2="2270.25" stroke="#FDD62A" stroke-width="4.1" stroke-linecap="round"/>
<rect x="1439.25" y="2270.25" width="52.6" height="32.3" fill="#fff" stroke="#FDD62A" stroke-width="4.1" stroke-linejoin="round"/>
<line x1="1439.25" y1="2286.4" x2="1491.85" y2="2286.4" stroke="#FDD62A" stroke-width="4.1"/>
<line x1="1682.85" y1="2260.2" x2="1682.85" y2="2270.25" stroke="#86471F" stroke-width="4.1" stroke-linecap="round"/>
<rect x="1656.55" y="2270.25" width="52.6" height="32.3" fill="#fff" stroke="#86471F" stroke-width="4.1" stroke-linejoin="round"/>
<line x1="1656.55" y1="2286.4" x2="1709.15" y2="2286.4" stroke="#86471F" stroke-width="4.1"/>
<text x="0.24" y="45.2" font-size="54" font-weight="bold" fill="#231f20" textLength="28.11" lengthAdjust="spacingAndGlyphs">a</text>
<text x="0.4" y="953" font-size="53" font-weight="bold" fill="#231f20" textLength="35.2" lengthAdjust="spacingAndGlyphs">b</text>
<text x="4.32" y="1896.6" font-size="50" font-weight="bold" fill="#231f20" textLength="31.84" lengthAdjust="spacingAndGlyphs">c</text>
<text x="151.45" y="70.9" font-size="27" fill="#1a1a1a" textLength="280.8" lengthAdjust="spacingAndGlyphs">Sarkosyl-soluble fraction</text>
<text x="153.24" y="997.1" font-size="27" fill="#1a1a1a" textLength="301.81" lengthAdjust="spacingAndGlyphs">Sarkosyl-insoluble fraction</text>
<text x="164.77" y="1939.6" font-size="26.5" fill="#1a1a1a" textLength="357.95" lengthAdjust="spacingAndGlyphs">Aggregated tau MTBR (3R + 4R)</text>
<text x="47.12" y="138.25" font-size="27" fill="#1a1a1a" textLength="75.95" lengthAdjust="spacingAndGlyphs">1e+10</text>
<text x="47.13" y="221.55" font-size="27" fill="#1a1a1a" textLength="75.94" lengthAdjust="spacingAndGlyphs">1e+08</text>
<text x="47.13" y="304.85" font-size="27" fill="#1a1a1a" textLength="75.94" lengthAdjust="spacingAndGlyphs">1e+06</text>
<text x="47.12" y="387.25" font-size="27" fill="#1a1a1a" textLength="75.94" lengthAdjust="spacingAndGlyphs">1e+04</text>
<text x="51.55" y="579.85" font-size="27" fill="#1a1a1a" textLength="75.53" lengthAdjust="spacingAndGlyphs">1e+09</text>
<text x="51.55" y="674.05" font-size="27" fill="#1a1a1a" textLength="75.53" lengthAdjust="spacingAndGlyphs">1e+07</text>
<text x="51.54" y="768.25" font-size="27" fill="#1a1a1a" textLength="75.53" lengthAdjust="spacingAndGlyphs">1e+05</text>
<text x="51.02" y="1134.45" font-size="27" fill="#1a1a1a" textLength="75.64" lengthAdjust="spacingAndGlyphs">1e+08</text>
<text x="51.02" y="1229.25" font-size="27" fill="#1a1a1a" textLength="75.64" lengthAdjust="spacingAndGlyphs">1e+06</text>
<text x="51.06" y="1324.95" font-size="27" fill="#1a1a1a" textLength="74.59" lengthAdjust="spacingAndGlyphs">1e+04</text>
<text x="63.44" y="1537.15" font-size="27" fill="#1a1a1a" textLength="74.73" lengthAdjust="spacingAndGlyphs">1e+08</text>
<text x="63.41" y="1612.25" font-size="27" fill="#1a1a1a" textLength="75.77" lengthAdjust="spacingAndGlyphs">1e+07</text>
<text x="63.44" y="1687.65" font-size="27" fill="#1a1a1a" textLength="74.73" lengthAdjust="spacingAndGlyphs">1e+06</text>
<text x="63.44" y="1762.75" font-size="27" fill="#1a1a1a" textLength="74.73" lengthAdjust="spacingAndGlyphs">1e+05</text>
<text x="140.9" y="2064.65" text-anchor="end" font-size="27" fill="#1a1a1a">600</text>
<text x="140.9" y="2190.15" text-anchor="end" font-size="27" fill="#1a1a1a">400</text>
<text x="140.9" y="2315.55" text-anchor="end" font-size="27" fill="#1a1a1a">200</text>
<text x="131.5" y="2441.55" text-anchor="end" font-size="27" fill="#1a1a1a">0</text>
<text x="934.87" y="480.6" font-size="27.4" fill="#000" textLength="99.57" lengthAdjust="spacingAndGlyphs">Subjects</text>
<text x="934.87" y="886.9" font-size="27.4" fill="#000" textLength="99.57" lengthAdjust="spacingAndGlyphs">Subjetcs</text>
<text x="946.07" y="1420.1" font-size="27.4" fill="#000" textLength="98.86" lengthAdjust="spacingAndGlyphs">Subjects</text>
<text x="944.67" y="1836.5" font-size="27.4" fill="#000" textLength="99.07" lengthAdjust="spacingAndGlyphs">Subjects</text>
<text x="625.47" y="2491.5" font-size="26.6" fill="#000" textLength="127.15" lengthAdjust="spacingAndGlyphs">Conditions</text>
<text x="1528.75" y="2039.7" font-size="27" fill="#000" textLength="136.3" lengthAdjust="spacingAndGlyphs">Conditions</text>
<text x="1501.56" y="2120.1" font-size="27" fill="#000" textLength="54.49" lengthAdjust="spacingAndGlyphs">CTL</text>
<text x="1721.04" y="2120.1" font-size="27" fill="#000" textLength="39.38" lengthAdjust="spacingAndGlyphs">AD</text>
<text x="1502.65" y="2211.5" font-size="27" fill="#000" textLength="61.3" lengthAdjust="spacingAndGlyphs">CBD</text>
<text x="1715.79" y="2211.5" font-size="27" fill="#000" textLength="111.8" lengthAdjust="spacingAndGlyphs">FTLD4R</text>
<text x="1500.8" y="2296.4" font-size="27" fill="#000" textLength="111.49" lengthAdjust="spacingAndGlyphs">FTLD3R</text>
<text x="1719.15" y="2296.4" font-size="27" fill="#000" textLength="48.6" lengthAdjust="spacingAndGlyphs">PiD</text>
<text transform="translate(35.9,319.27) rotate(-90)" x="0" y="0" font-size="27.2" fill="#1a1a1a" textLength="141.34" lengthAdjust="spacingAndGlyphs">Abundance</text>
<text transform="translate(35.9,729.36) rotate(-90)" x="0" y="0" font-size="27.2" fill="#1a1a1a" textLength="140.21" lengthAdjust="spacingAndGlyphs">Abundance</text>
<text transform="translate(35.9,1249.36) rotate(-90)" x="0" y="0" font-size="27.2" fill="#1a1a1a" textLength="139.81" lengthAdjust="spacingAndGlyphs">Abundance</text>
<text transform="translate(35.9,1665.36) rotate(-90)" x="0" y="0" font-size="27.2" fill="#1a1a1a" textLength="139.71" lengthAdjust="spacingAndGlyphs">Abundance</text>
<text transform="translate(43,2360.86) rotate(-90)" x="0" y="0" font-size="27.2" fill="#1a1a1a" textLength="306.71" lengthAdjust="spacingAndGlyphs">Absoulte quantities (fmol)</text>
<text transform="translate(1889,182.31) rotate(90)" x="0" y="0" font-size="27.8" fill="#1a1a1a" textLength="176.28" lengthAdjust="spacingAndGlyphs">Total proteins</text>
<text transform="translate(1889,596.31) rotate(90)" x="0" y="0" font-size="27.8" fill="#1a1a1a" textLength="159.58" lengthAdjust="spacingAndGlyphs">Tau proteins</text>
<text transform="translate(1889,1123.61) rotate(90)" x="0" y="0" font-size="27.8" fill="#1a1a1a" textLength="175.57" lengthAdjust="spacingAndGlyphs">Total proteins</text>
<text transform="translate(1889,1541.71) rotate(90)" x="0" y="0" font-size="27.8" fill="#1a1a1a" textLength="159.28" lengthAdjust="spacingAndGlyphs">Tau proteins</text>
</svg>
</body></html>
